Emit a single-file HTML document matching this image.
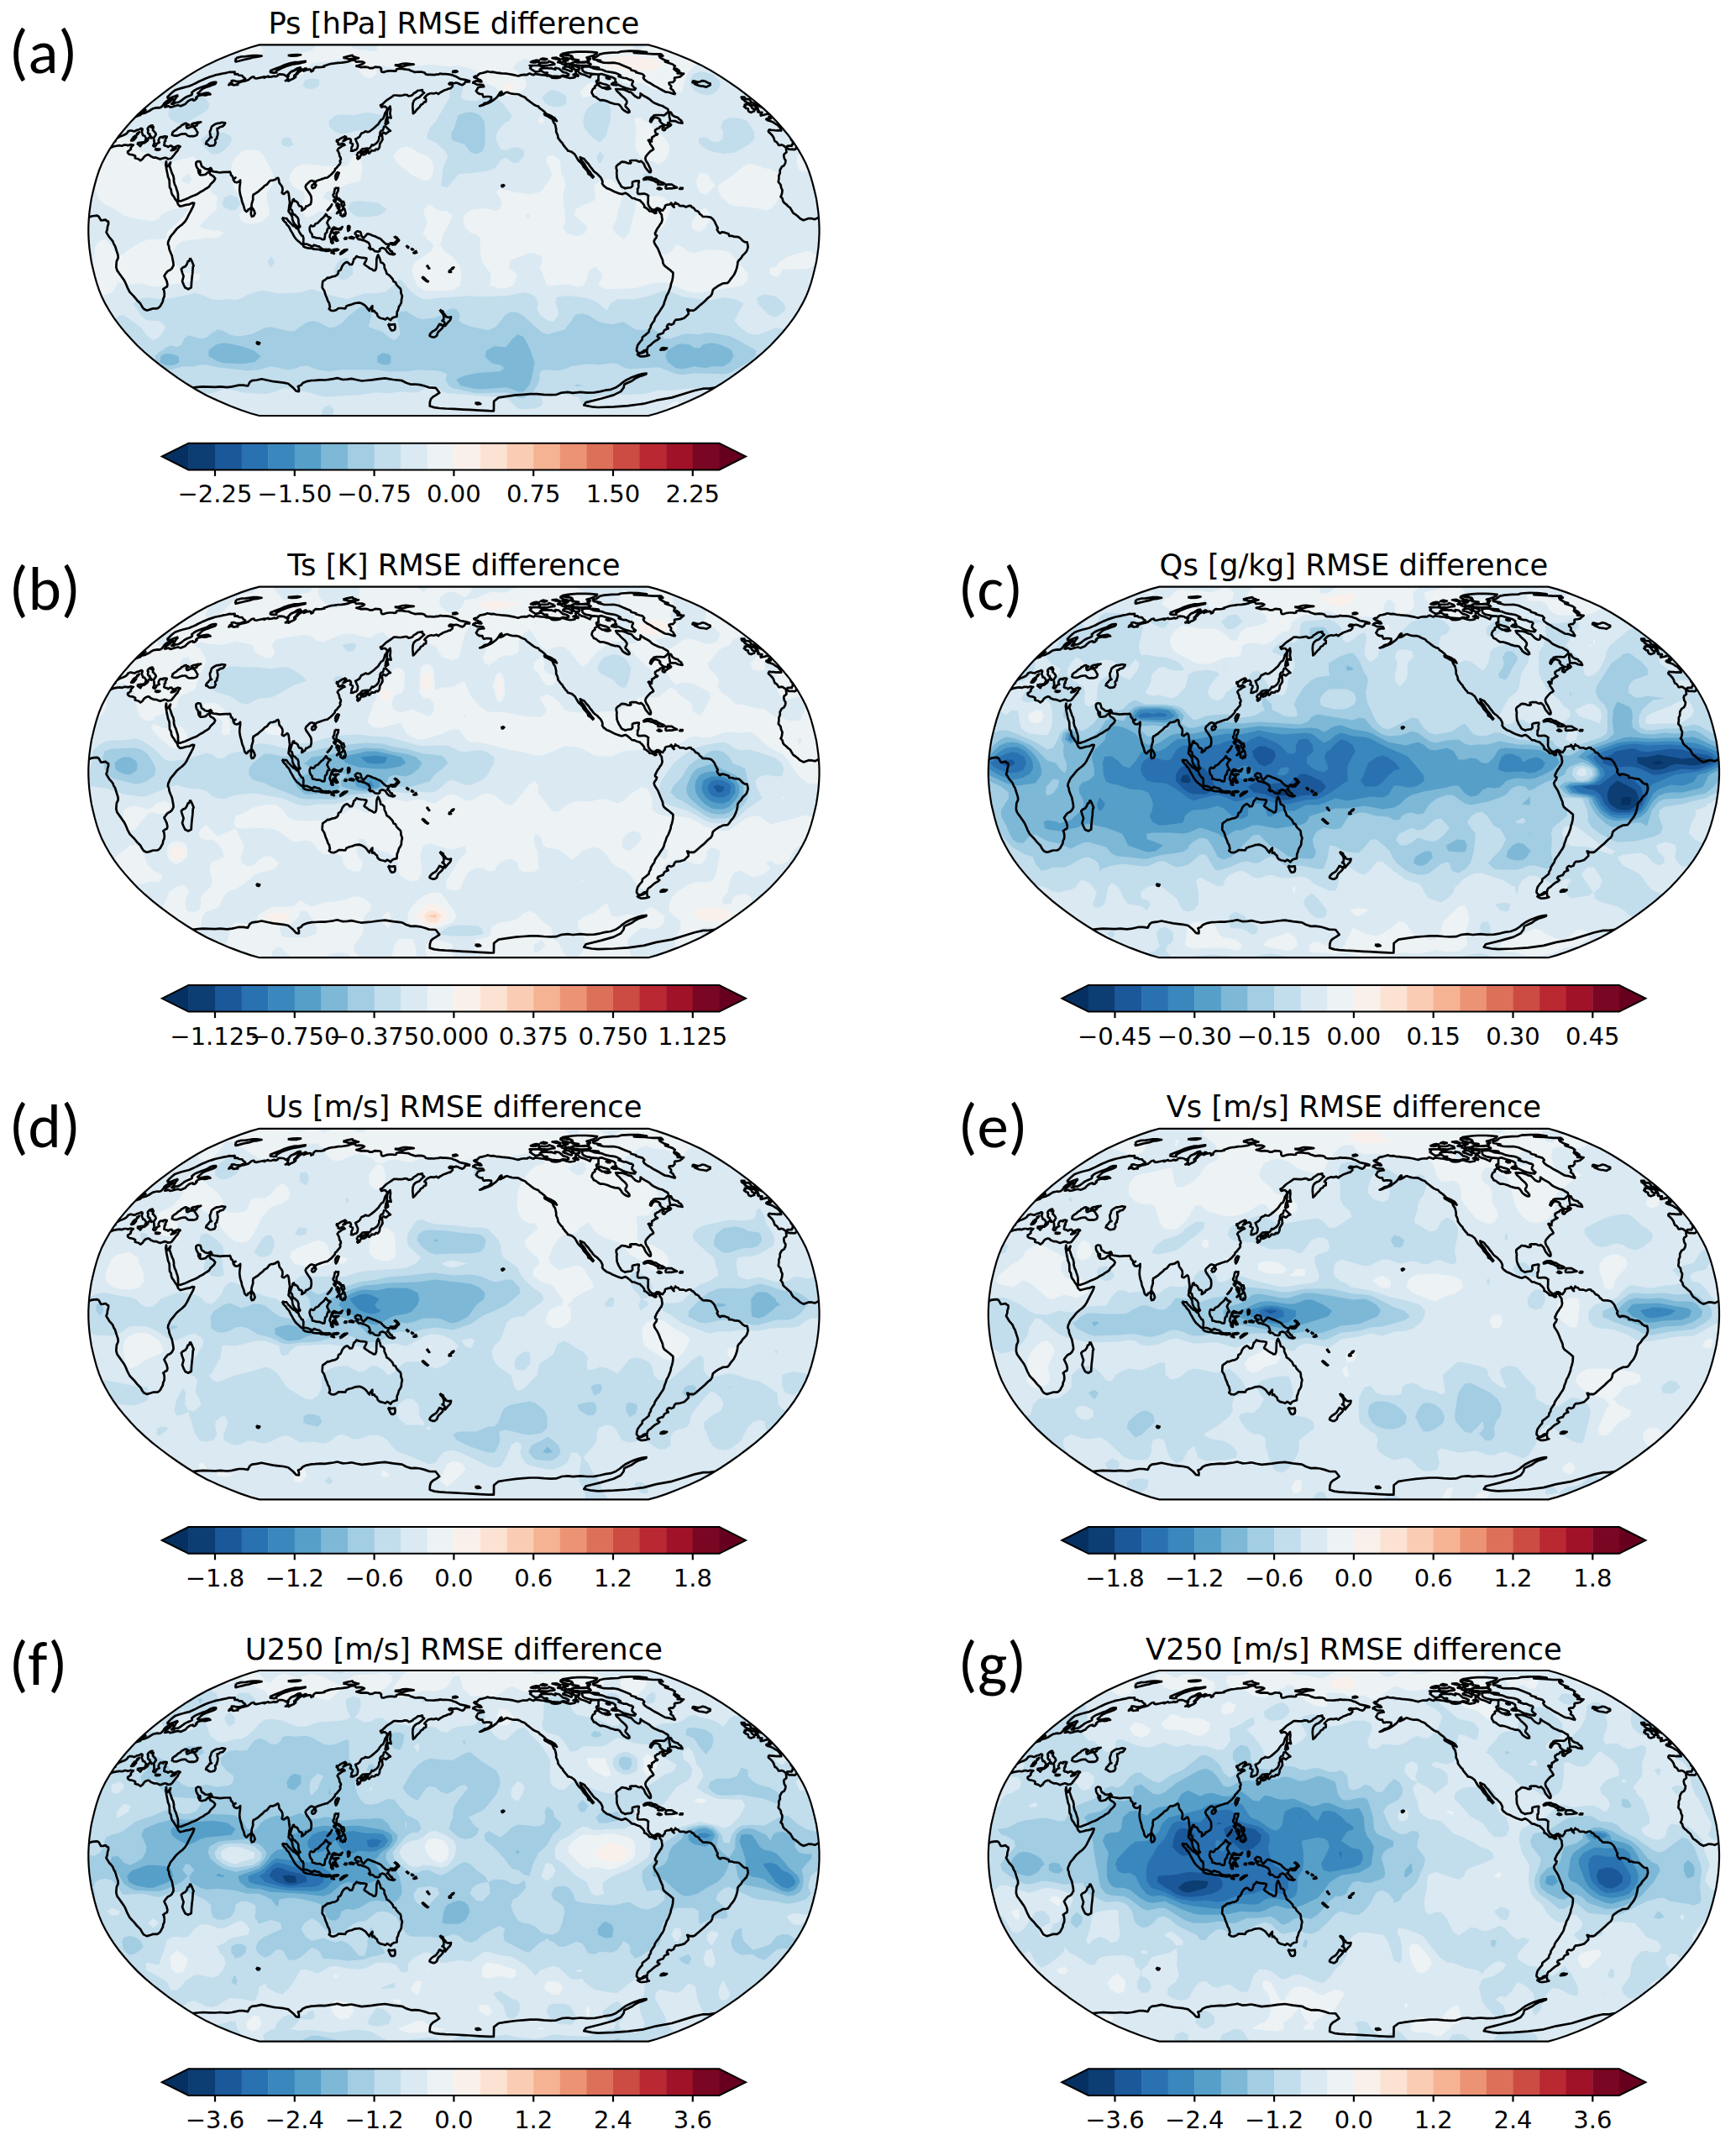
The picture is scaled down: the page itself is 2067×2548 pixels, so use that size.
<!DOCTYPE html><html><head><meta charset="utf-8"><title>RMSE difference maps</title><style>html,body{margin:0;padding:0;background:#fff;}svg{display:block;}.t{font-family:"DejaVu Sans",sans-serif;fill:#000;}.lab{font-family:"Carlito","Liberation Sans",sans-serif;fill:#000;}</style></head><body><svg width="2067" height="2548" viewBox="0 0 2067 2548"><rect width="2067" height="2548" fill="#fff"/><defs><clipPath id="cl"><path d="M231.6 220.8 241.7 218 253.5 214 266.6 209 280.5 203.1 294.1 196.8 306.3 190.1 317.7 183.1 328.6 175.9 339.1 168.5 349.2 160.9 359 153.2 368.2 145.3 376.8 137.3 384.6 129.1 391.8 121 398.6 112.7 404.7 104.4 410.1 96.1 414.9 87.7 419.1 79.4 422.5 71 425.3 62.6 427.6 54.3 429.7 45.9 431.6 37.6 432.9 29.2 434 20.9 434.7 12.5 435.1 4.2 435.1 -4.2 434.7 -12.5 434 -20.9 432.9 -29.2 431.6 -37.6 429.7 -45.9 427.6 -54.3 425.3 -62.6 422.5 -71 419.1 -79.4 414.9 -87.7 410.1 -96.1 404.7 -104.4 398.6 -112.7 391.8 -121 384.6 -129.1 376.8 -137.3 368.2 -145.3 359 -153.2 349.2 -160.9 339.1 -168.5 328.6 -175.9 317.7 -183.1 306.3 -190.1 294.1 -196.8 280.5 -203.1 266.6 -209 253.5 -214 241.7 -218 231.6 -220.8 -231.6 -220.8 -241.7 -218 -253.5 -214 -266.6 -209 -280.5 -203.1 -294.1 -196.8 -306.3 -190.1 -317.7 -183.1 -328.6 -175.9 -339.1 -168.5 -349.2 -160.9 -359 -153.2 -368.2 -145.3 -376.8 -137.3 -384.6 -129.1 -391.8 -121 -398.6 -112.7 -404.7 -104.4 -410.1 -96.1 -414.9 -87.7 -419.1 -79.4 -422.5 -71 -425.3 -62.6 -427.6 -54.3 -429.7 -45.9 -431.6 -37.6 -432.9 -29.2 -434 -20.9 -434.7 -12.5 -435.1 -4.2 -435.1 4.2 -434.7 12.5 -434 20.9 -432.9 29.2 -431.6 37.6 -429.7 45.9 -427.6 54.3 -425.3 62.6 -422.5 71 -419.1 79.4 -414.9 87.7 -410.1 96.1 -404.7 104.4 -398.6 112.7 -391.8 121 -384.6 129.1 -376.8 137.3 -368.2 145.3 -359 153.2 -349.2 160.9 -339.1 168.5 -328.6 175.9 -317.7 183.1 -306.3 190.1 -294.1 196.8 -280.5 203.1 -266.6 209 -253.5 214 -241.7 218 -231.6 220.8Z"/></clipPath><path id="coast" d="M408.7 -98.3L407.5 -98 406.8 -96.6 405.1 -96.1 402.9 -96.6 400.8 -96.4 398.8 -96.6 396.5 -98.3 395.5 -98 395.7 -95.8 396.1 -93.1 395.1 -92 393.4 -90.9 392.8 -89 393.5 -85.4 395 -83.2 394.7 -80.2 393.2 -77.2 390.4 -75.6 388.3 -71.7 388.3 -67.9 386.9 -64.9 387 -61.6 386.4 -57.5 389.1 -54.2 389.7 -50.7 391.1 -47.9 390.7 -44.1 389.7 -40.8 389.1 -40.2 391.2 -37.8 392 -34.5 393.5 -32.6 395.7 -30.9 397.9 -28.7 400.6 -26.6 401.8 -24.4 404.1 -20.5 406.7 -18.9 409.5 -16.7 412.4 -14 416.3 -12 419 -12.9 422.5 -14.2 426.1 -14 429.8 -13.1 432.1 -14.2 434.5 -15.3M-434.5 -15.3L-434.5 -15.3 -431.5 -16.7 -428.3 -17.2 -424.6 -17.5 -422.8 -16.4 -421.3 -13.7 -420.2 -11.8 -417.8 -12 -414.6 -12.6 -413 -11 -411.4 -10.4 -411.3 -7.7 -412.4 -4.1 -412.7 -0.8 -413.9 2.2 -412.6 4.4 -410.3 8.2 -408 10.7 -406.1 13.1 -405 16.2 -403.3 18.9 -401.9 23.5 -401.1 26 -400 29.3 -399.7 32.9 -401.5 36.7 -401.9 41.1 -402 44.1 -400.9 47.9 -398.3 51.5 -395.4 55.6 -392.5 59.7 -391.1 62.4 -388.6 68.4 -386 73.4 -382.9 76.7 -381 78.6 -377 83.5 -373.3 87.1 -370.9 91.4 -369.3 93.6 -365.9 95.3 -365 95.3 -361.4 94.2 -358.1 93.1 -353.5 93.1 -351.7 92.3 -349.6 90.4 -348.1 87.6 -346.6 84.9 -346.1 81.6 -344.8 78.9 -344.6 75.3 -345.1 71.7 -346.1 70.1 -343.9 68.4 -341.5 67.1 -341 64.3 -342 60.2 -344 56.1 -344.9 54.2 -343.1 51.5 -340.8 48.7 -337.6 47.1 -335.6 45.2 -333.8 41.6 -334.1 38.3 -334.9 34.2 -335.7 30.1 -336.9 27.4 -338.8 22.7 -339.4 18.6 -340.5 16.4 -340 13.1 -338.9 11 -337.8 8.2 -336.2 6 -334.1 3.6 -332.4 1.4 -330 -1.6 -326.8 -4.4 -323.3 -7.1 -320.1 -10.4 -318 -13.7 -316 -17.8 -314.1 -21.4 -312.1 -25.2 -310.4 -28.5 -309.2 -32.3 -311.1 -32.6 -314.9 -30.9 -318.6 -30.4 -322.3 -29.3 -326 -28.5 -328.2 -30.7 -328.7 -32 -329.6 -34.2 -329.6 -34.5 -331.9 -37.2 -333.4 -40 -335.3 -42.4 -336.3 -44.9 -336.8 -48.7 -338.4 -51.2 -338.6 -56.1 -338.7 -58.9 -338.9 -60.2 -340.4 -63.8 -340.7 -65.7 -341.4 -69 -342.2 -72.8 -342.5 -75.3 -343.1 -78.3 -342.5 -81.9 -342.3 -81 -342.3 -78 -340.6 -76.1 -339.3 -78 -337.3 -80.8 -338.6 -76.7 -337.6 -73.9 -336.5 -70.6 -335.5 -67.6 -334.2 -65.2 -333.3 -61.1 -333.5 -58.9 -332.5 -54.8 -331.1 -52 -330.1 -48.7 -328.9 -45.2 -328.4 -42.4 -328.4 -39.7 -328.2 -36.1 -327.7 -34.8 -325.3 -34.8 -324 -35.3 -320.2 -36.7 -316.4 -38.3 -312.5 -40.2 -308.7 -41.6 -305.6 -43 -302.1 -45.4 -298.2 -47.4 -296.2 -49 -293.6 -50.4 -291.4 -52 -289.7 -54.8 -288.3 -56.1 -285.4 -58.9 -284.2 -61.6 -285.7 -63.8 -287.7 -65.2 -289.9 -66.3 -290.7 -67.9 -289.9 -72 -291.3 -70.1 -292.7 -69.3 -295.7 -66.5 -298.2 -66 -301.3 -65.7 -302.8 -66.5 -301.9 -69.3 -302.2 -71.5 -303.9 -68.4 -304.3 -70.9 -304.4 -72.8 -305.5 -74.2 -306.5 -76.1 -307 -78.3 -306.9 -80.8 -305.2 -82.1 -303.6 -82.1 -301.9 -81.6 -301.3 -79.9 -300.8 -78 -300.2 -76.1 -298.2 -75 -296.3 -73.4 -294.1 -72.8 -291.7 -73.1 -289.5 -74.2 -288.3 -72.6 -288.2 -70.4 -285.5 -69.8 -283.2 -69.5 -278.7 -68.7 -276.3 -69 -272.7 -69.3 -269.2 -69.3 -266.5 -69.5 -265.6 -67.4 -265.3 -65.4 -263.8 -64.6 -263 -62.4 -261.3 -61.6 -259.9 -62.7 -262.1 -61.1 -262.7 -60.2 -260.8 -57.5 -258.5 -56.9 -255.7 -58 -254.3 -59.7 -254.4 -56.1 -255 -52 -255.2 -47.9 -254.6 -43.8 -253.8 -40.5 -252.9 -37.8 -252.5 -35.3 -251.6 -32.3 -250.6 -30.1 -249.8 -27.4 -249.1 -24.4 -247 -22.2 -245.5 -23.3 -244.7 -24.9 -242.7 -25.5 -240.8 -28.2 -240.9 -30.9 -239.9 -34.2 -239.1 -36.7 -239.3 -39.7 -238.7 -42.7 -236.7 -43.5 -235.3 -44.6 -233.3 -45.7 -231.9 -47.1 -230 -48.7 -227.3 -50.9 -225.4 -53.1 -222.6 -54.5 -220.5 -57.2 -219.1 -58.9 -217.4 -59.4 -215.7 -59.4 -214.2 -60 -212.2 -60.5 -211.4 -61.6 -209.4 -62.4 -208.6 -61.1 -208.1 -58 -207.8 -56.4 -206.6 -54.8 -205.4 -53.4 -204.2 -51.2 -203.9 -47.9 -204.7 -44.6 -203.9 -43.8 -202.3 -43.3 -200.2 -44.9 -198.4 -46.3 -197.3 -45.4 -196.7 -43.5 -196.3 -40.8 -195.9 -37 -195.3 -32.9 -196.1 -28.7 -196.5 -24.6 -196.9 -22.5 -195.5 -20.8 -193.9 -18.6 -192.4 -15.9 -192.2 -13.1 -191.5 -10.7 -189.9 -7.7 -187.8 -5.7 -185.4 -3.8 -184 -3.6 -183 -4.4 -184.4 -6.8 -185 -9.9 -185 -12.6 -186.1 -15.3 -188 -17 -189.4 -18.6 -191 -18.9 -192.1 -21.1 -192.7 -23.8 -194.6 -25.5 -194.4 -27.9 -193.5 -30.9 -192.4 -33.7 -191.7 -36.4 -190.4 -37 -189.9 -34.8 -188 -34.5 -186.1 -33.1 -185.1 -30.7 -183.8 -28.7 -182.1 -28.7 -180.5 -27.1 -181.2 -23.5 -179.9 -24.1 -176.9 -26.3 -176.1 -28.5 -174.4 -28.7 -172.4 -30.1 -170.7 -30.9 -169.8 -33.7 -169.6 -36.7 -170 -40.5 -171 -42.4 -172.1 -44.1 -173.3 -46 -175 -48.2 -176.2 -50.4 -176.7 -52 -175.8 -54.2 -174.2 -55.6 -172.3 -57.5 -170.5 -58.9 -168.9 -59.1 -167.5 -58.6 -166.3 -58.3 -166.4 -55.9 -165.2 -55.6 -164.5 -57.8 -163.2 -58.9 -161 -59.7 -158.5 -60.5 -157 -61.1 -155.3 -61.6 -153.1 -62.4 -150.7 -62.7 -148.9 -64.1 -146.9 -65.7 -145 -67.4 -143.4 -69.3 -141.8 -70.9 -141.3 -73.1 -139.5 -74.5 -137.8 -76.7 -135.8 -78.9 -135 -81 -135.7 -82.7 -134.5 -84.3 -134.8 -86.5 -136.1 -88.4 -136.5 -91.2 -137.6 -93.6 -138.7 -95.3 -137.3 -97.5 -135 -98.8 -132.6 -100.7 -129.9 -101.6 -130.8 -102.7 -133.3 -103.5 -136.2 -101.8 -137.8 -102.4 -137.6 -104.3 -139.6 -105.7 -139.4 -107.3 -137.6 -107.3 -135.1 -109.2 -132.3 -110.6 -129.5 -111.9 -128.2 -110.8 -130.5 -107.8 -131.8 -106.2 -130.1 -106.8 -127.7 -108.4 -125.8 -108.9 -124.2 -109.2 -122.9 -108.1 -122.4 -106.2 -123.5 -104.3 -121.8 -103.5 -120.4 -102.7 -120.6 -100.7 -121.9 -98.6 -121.9 -95.8 -122.4 -94.5 -120.1 -94.5 -118.1 -95.6 -116.2 -96.1 -115 -97.5 -114.4 -99.9 -114.4 -102.4 -115.5 -104.6 -116.4 -106.8 -117.2 -108.7 -115.2 -109.5 -112.3 -111.4 -111.3 -113.3 -110.1 -115.4 -108.7 -116 -107.2 -116.5 -105.2 -117.9 -103.4 -117.1 -101.1 -117.3 -98.3 -119.2 -95.2 -121.7 -92.5 -124.1 -89.9 -126.5 -88.5 -128.9 -86.5 -131.6 -84.3 -132.9 -83 -135.8 -82 -139.5 -80.1 -142.2 -79.1 -144.8 -80.4 -146.1 -81.7 -147.4 -83.7 -147.4 -86.2 -146.6 -86.9 -147.6 -87.4 -148.9 -85.1 -150 -82.8 -152.3 -80.4 -154.6 -77.4 -156.6 -74.6 -158.4 -71.5 -160.7 -68.3 -160.7 -65.7 -160.4 -63 -160.4 -61 -160.7 -58.5 -161.4 -55.6 -161.2 -54 -159.7 -51.4 -160.2 -49.2 -161.2 -48.2 -162.7 -44.8 -164.7 -42.9 -166.4 -40.2 -166.7 -37.5 -167.2 -37.4 -165.2 -35.3 -163.7 -36.7 -162.5 -38.8 -160.7 -41.5 -158.2 -44.1 -157.2 -45.8 -156.1 -47.7 -154.1 -48.8 -151 -49.1 -146.9 -48.7 -142.7 -48.5 -139 -46.5 -140.6 -44.5 -143.2 -43 -144.8 -40.7 -146.9 -39.4 -149.2 -36.6 -150.8 -35.6 -152.6 -33.3 -153.1 -33.1 -156.4 -35.1 -157.7 -33.3 -159.7 -31.3 -161.7 -28.9 -162.7 -26.5 -163.2 -24.3 -162.7 -20.7 -163.7 -18.5 -162.2 -16.1 -164.2 -14.5 -164.9 -12.5 -166.2 -10.6 -166.9 -8.3 -167.7 -6 -168.7 -4.5 -168.7 -3 -169.9 -1.5 -171.6 -1.8 -173.3 -3.3 -174.3 -4.8 -173.5 -5.9 -174.5 -4.6 -175.7 -1.8 -175.5 0 -175 2.7 -175.7 4.8 -175.2 7 -174 10.2 -173 12.5 -174.5 13.5 -176.7 15.4 -177.1 18.5 -176.9 18.6 -177.8 14.4 -179 10.8 -179.7 7.2 -180.4 4.4 -182.1 1.8 -183.5 0 -183.9 -2.6 -185.1 -7 -185.8 -10.4 -186 -13.9 -186 -16.5 -186.5 -18.3 -185.6 -20.6 -185.6 -23.6 -185.1 -27.9 -185.3 -31.4 -185.3 -33.4 -185.8 -34.8 -187.6 -37.8 -188.5 -41.1 -188.7 -46.4 -188.3 -48.7 -189.2 -51.1 -189.9 -54 -191.4 -57.3 -191.6 -61.3 -192.3 -65.4 -192.5 -68.5 -191.6 -68.7 -189.9 -70.8 -189.6 -73.3 -189.9 -76.7 -189.9 -80.3 -189.4 -83.4 -188.3 -85.8 -188.5 -86.6 -190.5 -86.4 -192.5 -88.1 -194.1 -91.3 -194.3 -93.7 -194.5 -97.1 -193 -100.4 -193 -102.2 -194.1 -106.1 -194.5 -110.5 -194.1 -112.6 -194.7 -114.7 -195.2 -116.1 -195.6 -113 -196.4 -108.4 -198.2 -106.5 -199.6 -108.8 -200.7 -112.6 -200.9 -116.1 -200.5 -117.8 -202.1 -118.3 -202.9 -122.3 -202.3 -126.3 -200.7 -130.1 -200.1 -133.7 -199.6 -137.9 -199.4 -141.7 -198.8 -145.4 -198.4 -148.5 -197.7 -152.3 -196.4 -154.5 -195.8 -154.1 -194.9 -157.7 -194.3 -161.3 -194.1 -164.4 -194.3 -167.2 -192.1 -167.5 -190.1 -169.9 -189 -170.3 -191.2 -171.5 -191.6 -175.3 -191 -178.6 -189.6 -175.5 -192.5 -177.1 -192.7 -181 -190.3 -184.3 -188.7 -185.4 -187.2 -189 -183.9 -188.3 -182.6 -190.5 -180.9 -194.2 -179.3 -196.7 -177.8 -197.7 -178.6 -200.6 -178.1 -197.1 -180 -198.2 -181.6 -196.8 -183.7 -197.5 -185.1 -195.7 -186.7 -194.5 -188.5 -189.7 -190.3 -185.3 -192.7 -181.9 -192.5 -181.2 -191.4 -183.3 -189.9 -184 -188.5 -190.1 -184.4 -190.1 -182.8 -182.8 -193.8 -186.1 -193 -190.1 -190.5 -193.4 -189.2 -196.5 -186.2 -197.7 -184.4 -200.4 -183.9 -201.9 -185.1 -204 -185.6 -207.2 -185.8 -209.4 -185.1 -210.1 -183.7 -212.8 -183 -213.8 -183.7 -216.9 -182.8 -220.4 -182.6 -221.1 -183.5 -223.1 -182.8 -225.8 -181.6 -225.4 -182.8 -231.1 -181.6 -235.4 -180.7 -237.4 -181.2 -238.1 -182.8 -240.6 -182.3 -244.8 -179 -248.6 -177.8 -252.2 -177.1 -255.5 -175.9 -258.7 -173.8 -257.2 -173.3 -259.4 -173.3 -262.4 -172.8 -263.9 -173.5 -263.7 -174.7 -268 -173 -267.1 -174.5 -264.4 -176.7 -264.6 -178.1 -262 -178.3 -260 -177.6 -257.1 -177.1 -253.6 -177.6 -250.3 -178.8 -248.3 -180.4 -249.2 -181.4 -251 -182.6 -252 -184.2 -256.1 -184.6 -257.4 -186 -260.9 -185.8 -261 -186.7 -260.9 -188.5 -264.7 -188.3 -266.9 -188.5 -271.2 -187.4 -275.1 -186.7 -279 -185.8 -283.5 -184.9 -287.9 -183.5 -291.7 -182.3 -295.7 -180.7 -300 -178.8 -304 -176.9 -307.2 -175.2 -311.3 -173.3 -315.2 -171.6 -318.1 -170.9 -321.3 -170.1 -325 -169.1 -328.7 -167.9 -332.1 -166.7 -335 -164.4 -337.5 -162.2 -339.5 -160.2 -341 -158.7 -340.7 -157.4 -339.3 -157.2 -336.6 -157.9 -332.8 -159.4 -329.3 -160.7 -330.5 -159.4 -328.9 -159.9 -330.6 -158.2 -331.8 -156.1 -333.2 -154.1 -334.1 -152.6 -336.2 -150.5 -333.8 -150.5 -331.7 -152 -328.2 -152.3 -325.8 -153.6 -323.1 -155.6 -320.4 -157.7 -317 -159.4 -314.6 -160.2 -311.8 -161.7 -311.6 -163.2 -312.1 -164 -309.5 -166.2 -306.6 -167.9 -303.6 -169.1 -299.2 -170.9 -296.2 -171.8 -293.3 -173 -291.1 -174.5 -288 -175.9 -285.2 -176.4 -283.2 -176.4 -283.3 -175.2 -284.7 -174 -288.4 -172.6 -291.9 -171.3 -294.8 -170.4 -298.3 -168.9 -300.9 -166.9 -303.1 -164.7 -305.1 -163.2 -303.8 -162.5 -302.8 -161.9 -299.8 -162.5 -297.1 -163 -294.4 -163.5 -292.3 -163.5 -290.8 -162.7 -289.9 -161.9 -291.8 -161.9 -294.7 -160.9 -297.1 -160.7 -298.9 -161.2 -301.9 -160.7 -304.7 -159.9 -307 -157.9 -306 -157.4 -308.2 -155.1 -309.4 -154.6 -310.7 -154.9 -310.9 -156.1 -313.7 -155.4 -315.9 -154.1 -318.3 -152 -319.8 -150.2 -322.3 -149.2 -325.2 -147.9 -326.9 -148.4 -328.4 -148.9 -331.7 -148.2 -335.2 -147.1 -338 -146.6 -338.8 -147.4 -339.8 -147.9 -342.5 -147.1 -344.2 -146.9 -342.7 -148.4 -343.2 -149.5 -341.1 -151 -338.4 -152.8 -337.1 -154.3 -334.1 -156.4 -336.1 -155.9 -338.3 -154.9 -340 -154.9 -342.6 -153.3 -345.1 -151 -345.2 -150.2 -346.1 -149.2 -347.4 -147.6 -349.1 -146.3 -351 -145.8 -352.8 -146.1 -355.6 -145.6 -358.2 -145 -360.3 -143.7 -363.5 -141.6 -365.9 -140.6 -367.3 -139.8 -369.5 -139.3 -371.9 -138.7 -373.8 -136.9 -375.6 -136.4 -378.1 -135.6 -379.3 -134.8 -379.3 -134.8M379.3 -134.8L377.9 -134.5 376.5 -134.8 375.1 -135.6 377.4 -133.2 376 -132.6 374.1 -133.2 372.4 -132.9 371.9 -132.1 373.9 -130.8 377 -130 380.3 -128.6 382 -127.3 384.9 -125.7 386.7 -124.1 388.6 -121.7 389.5 -120 389.8 -118.7 388 -118.7 385.8 -119 383.9 -118.7 380.8 -119.2 378.2 -119.2 375.6 -119.8 374.5 -118.4 374.7 -117.1 377.2 -114.9 379.3 -112.7 380.9 -110 381.5 -107.8 382.3 -105.9 383.8 -105.4 385.5 -103.5 386.7 -101.3 388.7 -101.3 389.7 -101.8 392.3 -101 393.8 -99.7 395.9 -98.6 396.5 -99.7 397.4 -100.5 399.6 -100.5 402.4 -100.5 402.7 -102.1 403.9 -102.9 403.3 -104.8 403.7 -105.8M-403.7 -105.8L-403 -106.2 -403 -106.9M403 -106.9L401.6 -107.8 401.1 -109.5M-401.1 -109.5L-401.1 -109.5 -397.6 -111.6 -394.6 -112.7 -391.3 -114.1 -389.1 -115.7 -388 -117.6 -385.6 -118.7 -383.7 -118.7 -382.3 -118.2 -380.2 -117.9 -377.1 -119.5 -374.7 -120 -372.1 -121.4 -370.8 -120.6 -371 -119 -371.8 -117.3 -371.3 -116 -370.6 -114.6 -370.3 -113 -368.5 -112.7 -367.9 -111.9 -367.2 -110.8 -366.3 -109.5 -367.3 -107.3 -367.7 -105.7 -369.5 -104.3 -368.9 -103.8 -366.9 -105.1 -364.8 -106.8 -364.1 -107.8 -364.5 -108.9 -362.7 -110.6 -361.5 -110.3 -359.9 -109.7 -359.5 -110 -360.1 -111.1 -361.3 -112.2 -362.3 -113.5 -362 -114.6 -363.6 -114.9 -364.3 -116.3 -364.2 -118.2 -363.8 -119.5 -364.7 -120.6 -364.2 -121.9 -362.7 -123.5 -360.8 -124.6 -358.8 -124.9 -360.1 -123.3 -360.3 -122.5 -357.7 -123 -358.1 -121.1 -358.5 -119.2 -357.2 -118.2 -356.4 -117.1 -355.3 -116 -355 -114.9 -354.7 -114.1 -355.8 -112.2 -357.3 -110.3 -357.1 -108.7 -356.8 -107 -357 -105.9 -356.6 -104.8 -357.2 -102.7 -358.1 -100.7 -356.9 -99.7 -355.6 -99.9 -354.1 -102.1 -354.3 -102.9 -352.5 -103.8 -350.7 -104.6 -351.3 -105.7 -351.8 -106.8 -350.9 -109.2 -350.2 -110.3 -349 -111.1 -347.4 -110.8 -346.2 -110.3 -346.2 -111.6 -343.8 -111.9 -341.7 -111.6 -342 -110.3 -342.7 -109.5 -343.8 -107.3 -343.2 -106.5 -344.7 -104.8 -344.5 -103.2 -345.1 -101.3 -343.8 -100.5 -341.6 -100.2 -340.4 -99.1 -338.1 -100.5 -336.1 -100.7 -334.7 -98.8 -332.2 -99.1 -330.2 -99.9 -328.4 -100.7 -326.2 -100.2 -325.8 -99.7 -327.6 -98 -328.2 -96.4 -329 -94.7 -330.8 -92.8 -332.6 -90.4 -334 -88.7 -335.7 -86.5 -337.1 -85.4 -338.8 -85.2 -340.8 -84.9 -341.4 -85.7 -342.7 -86.2 -344 -86.5 -345.6 -86 -347.5 -85.4 -349.7 -84.6 -352.4 -85.7 -354.4 -86.5 -357.4 -86.5 -359.7 -87.6 -361.2 -88.2 -362.2 -89.5 -364.2 -90.1 -367.1 -89 -369 -87.3 -370.6 -84.9 -373.1 -83 -374.1 -83.8 -375.7 -84.9 -377.8 -85.4 -379.6 -86 -379.3 -88.4 -381.3 -89.5 -383.5 -90.1 -385.9 -90.4 -387.3 -91.2 -388.3 -92.3 -388.3 -93.9 -386 -95.3 -384.5 -96.6 -384.7 -98.3 -383.1 -100.2 -381.6 -101.6 -383.4 -101.8 -384.8 -102.1 -388 -101 -389.9 -101.6 -392.4 -101.6 -395.3 -100.5 -397.7 -101 -400.4 -100.7 -403 -100.2 -405.6 -99.7 -408.7 -98.3 -408.7 -98.3M-334.4 -112.7L-335.6 -113.8 -335.1 -114.9 -335.1 -116.3 -333.1 -118.2 -330.4 -119.8 -329.2 -121.1 -327 -122.7 -325.3 -123.5 -324.5 -124.9 -322.6 -125.7 -320.6 -127 -318.4 -127.3 -317.7 -126 -316 -126 -315.5 -125.4 -318.6 -124.1 -318.1 -122.7 -318.2 -121.9 -317.1 -121.4 -314.6 -122.5 -312.9 -123.3 -310.6 -123.5 -310.2 -124.4 -312.6 -124.9 -312.3 -126.2 -310.3 -127.3 -307.3 -127.8 -304.6 -128.6 -302.7 -128.6 -301.2 -128.9 -303.5 -127.8 -305.1 -126.8 -306.5 -125.7 -306 -124.9 -307.8 -124.1 -309.7 -123.5 -309.4 -122.7 -308.6 -121.9 -307.8 -120.9 -306.7 -119.2 -306.1 -117.9 -305 -116.5 -305.8 -113.8 -307.3 -112.7 -310.1 -111.9 -311.7 -112.2 -314.3 -111.9 -316.6 -112.5 -317.9 -113.5 -319.2 -114.9 -321.4 -114.9 -324.3 -114.6 -327.2 -113.5 -329.7 -112.5 -331.9 -112.5 -334.4 -112.7M-289 -121.7L-288.3 -123.5 -286.5 -124.9 -284 -126.5 -282 -127.3 -280.5 -127.3 -278.2 -127.8 -276.1 -128.4 -274.2 -128.1 -272.2 -127.8 -273.3 -125.7 -275.1 -123.8 -278.7 -123 -279.7 -121.7 -281.8 -121.4 -281.6 -120.3 -281.6 -118.2 -281 -116.5 -281.2 -114.4 -281.4 -112.7 -282.4 -110.6 -282.1 -109.5 -284.2 -107.6 -284.1 -106.5 -283.7 -104 -285.2 -101.3 -287.7 -100.7 -290.6 -100.5 -292.2 -101.3 -293.4 -102.7 -295.3 -102.9 -294.5 -105.4 -292.2 -107.6 -291 -109.5 -288.4 -110.6 -289.7 -111.1 -289.9 -113 -290.2 -114.4 -290.4 -116.3 -290.5 -117.6 -289.5 -119.5 -289 -121.7M21.7 -175.9L24.7 -175 27.7 -173.3 31.4 -173.3 34.7 -173 35.8 -171.1 32.6 -170.9 28.8 -169.9 27.9 -168.2 26.5 -165.9 28.2 -163.7 30.9 -162.2 34 -162.2 34.7 -159.7 35.6 -158.7 38.5 -159.2 42 -159.2 44.6 -158.7 44.5 -155.9 42.4 -153.6 40 -152 36.5 -151.3 34.3 -149.5 30.8 -147.9 34.2 -148.7 37.3 -150.2 40.5 -151.3 43.4 -152.6 45.7 -154.1 48.2 -155.9 50.5 -157.7 51.9 -159.2 53.7 -161.9 54.9 -164 56.7 -165.2 57.2 -163.7 54.8 -160.4 57 -161.2 59.1 -162.2 61.1 -163.7 63.4 -164.4 66.7 -163.2 69.4 -162.5 72.4 -162.2 75.3 -162.2 77.4 -161.7 80.6 -159.9 83.7 -158.7 85.4 -157.7 86.9 -155.9 89.5 -154.1 92.1 -152 95.5 -149.5 98.3 -148.2 100.5 -147.6 102 -145.6 104.6 -143.7 107 -141.9 108.8 -140.1 110.2 -138.5 113 -137.4 115.4 -136.4 118 -134.8 120 -133.7 121.3 -132.1 122.6 -130 121.3 -130.8 117.3 -132.1 118.8 -128.4 120.5 -126.2 121.3 -123 121.8 -120.3 121.8 -117.1 123.2 -114.4 124 -111.6 123.9 -110.3 125.5 -108.1 127.5 -105.4 129.5 -103.5 130.1 -101.8 131.5 -100.2 133.1 -98 134.8 -96.4 135.6 -94.7 137.8 -94.2 140.7 -93.1 141.6 -92.3 144 -90.4 144.8 -89 146.1 -86.8 147.5 -84.3 149.2 -82.1 151.4 -80.2 153.5 -77.5 154.3 -75.6 157.1 -72.6 159.3 -70.1 160.1 -67.1 162.7 -65.7 165.4 -62.7 166.4 -63.8 164.2 -66.3 163.1 -67.9 161.3 -70.6 159.4 -72.6 157.3 -75.6 155.7 -78.6 153.8 -81 151.2 -84.1 150.4 -87.1 152.5 -86 155.2 -84.9 157.4 -81.9 160.3 -78.9 162.1 -76.1 164.4 -73.4 165.9 -71.2 168.1 -69 170.5 -67.4 172.6 -65.2 174.8 -63 176.3 -60.2 177.1 -57.8 176.6 -55.6 178.3 -53.1 179.8 -52 182.2 -50.1 185.4 -49 188.4 -47.4 191.2 -46 194.7 -44.6 197.9 -43.5 200.6 -43 202.9 -44.1 204.5 -44.4 206.8 -43 209.5 -40.8 212.1 -38.3 214.8 -38.1 217 -37 219.5 -36.1 221.7 -35.6 222.3 -34.5 223.8 -33.4 226 -30.9 226.8 -29.3 226.7 -27.4 228.2 -27.1 229.7 -26 232 -24.1 233 -22.7 235 -22.5 237.2 -21.9 238.9 -20.5 240.2 -20.3 241.1 -20.8 239.8 -22.2 241.4 -23.5 242.1 -24.6 244 -23.8 245.3 -22.7 244.9 -21.9 246.2 -20 247.5 -18.1 247.6 -15.9 248.2 -12.9 247.8 -11 246.9 -8.5 245.5 -7.1 244.4 -4.9 242.7 -2.7 241.8 -1.1 240.8 0.8 240.3 2.5 239.6 3 239.8 5.2 241.7 6.3 240.9 9 239.4 10.7 238.3 12.9 238.9 15.6 240.3 17.8 242.1 20.5 243.4 23 244.6 26 246 29.6 247.2 32.3 248.6 35.6 249 38.9 250.1 41.3 252.2 43.3 255 45.4 257.8 47.6 259.3 49 261 50.4 260.9 53.7 260.6 56.9 259.7 60.8 258.5 64.1 258.1 67.1 257 70.1 255.3 74.5 253.2 78 252.2 81.6 250.9 84.6 250 88.2 248.5 91.2 247.1 93.1 245 96.4 243.3 99.1 241.3 101.6 239.4 104.6 238.6 107.6 236.5 110.3 234.4 113.8 234.5 115.4 232.5 118.7 232.2 121.1 228.3 124.4 224.5 127.3 224.2 130.2 221.7 132.9 218.8 136.9 217.8 140.6 217.6 143.2 219.5 145.6 222 146.3 224.3 144.8 225.8 143.5 228.2 142.7 230.2 142.4 230.4 140.3 231.6 138.2 234.2 136.6 236.7 134.2 239.7 131.8 243.1 130 244.9 128.4 242.3 126.5 243.1 124.6 247 123 249 122.5 250.7 119 253.8 117.3 255.3 117.1 254.9 115.7 253.5 114.9 254.6 112.5 256.5 111.6 258.8 112.5 261.7 111.1 262.6 108.4 264.4 106.5 266.6 106.5 270 105.9 274.2 104.6 276.1 102.9 279.4 99.7 279.2 97.5 278.6 96.1 277.8 94.2 279 94.2 280.9 95.6 283.3 95.3 285.2 95.6 287.6 94.2 289.6 92.3 291.3 90.9 294.1 88.4 296.4 86.5 298.9 84.3 301 82.1 303.4 79.9 305.9 78 307.5 75.3 308 72.6 308.5 70.9 310 69.5 312.6 67.6 315.4 65.7 317.8 64.6 320.5 63.2 323.1 63 326 62.7 328.2 60.2 329.7 57.8 331.6 55.6 333.5 53.1 335.6 48.7 336.8 45.2 337.7 41.1 338 37.8 339.5 35.6 341.8 33.4 343.8 30.1 346 27.9 348.5 25.2 349.7 21.9 350.2 19.7 349.7 16.4 349.1 14.2 346.4 14 344.1 12.6 342 10.4 339.5 8.2 336.4 7.7 333.9 7.7 331.1 6.6 327.7 6.6 327.3 4.4 325.1 3.6 322 2.5 318.6 2.2 317.1 3.6 315.7 2.7 314.3 0.8 313.3 -1.1 314.3 -2.7 313 -4.9 311.5 -8.2 310.1 -11.2 308.3 -13.4 306.1 -15.3 303.6 -15.9 300.9 -16.2 298 -16.2 296.3 -16.4 294.3 -18.6 292.8 -19.4 291.7 -21.6 289.6 -23 287.9 -23.5 286.6 -25.2 285 -27.1 283.3 -27.4 282.4 -29 280.2 -29.3 278.1 -28.5 276.3 -27.7 273.7 -29 271.1 -29 268.9 -29 267 -31.2 264.8 -31.8 263.7 -33.1 263.6 -31.8 261.1 -30.1 262.1 -27.4 260.2 -29.3 259.8 -31.2 258.7 -32.6 257.5 -30.9 256 -30.7 254.1 -30.4 252.7 -30.1 251.4 -29 251.3 -27.1 250 -25.5 248.6 -23.5 247.2 -23.8 245.1 -25.5 243.2 -26.3 241.7 -26.3 239.9 -24.9 237.5 -24.1 236.3 -24.6 235.5 -25.2 234 -26.3 232.4 -28.5 231.6 -30.1 231.1 -32.6 231.3 -35.3 231.3 -37.8 231.3 -40.5 231.7 -41.1 229.6 -42.7 227.3 -43.5 225.4 -43.5 222.8 -43.3 220.9 -43.3 219.5 -43.3 218.6 -44.6 218.8 -47.1 218.7 -49.6 219.6 -50.1 220 -52.6 219.7 -54.8 220.4 -57.8 220.3 -58.9 218.4 -58.9 216.5 -58.6 214.7 -58.3 212.6 -57.5 212.5 -55.3 212.8 -53.1 211.3 -51.2 209.7 -50.9 207.6 -50.7 205.7 -50.4 203.9 -49.8 202.4 -50.7 200.4 -51.5 199 -52.8 198.3 -54.5 196.9 -56.4 196 -58.3 195 -60.5 194.2 -62.7 194 -65.7 193.8 -68.4 194.1 -71.2 193.4 -73.6 193.4 -76.1 194.6 -77.5 196 -78.6 197.8 -79.7 198.9 -81 200.4 -81.6 202.6 -81.3 204.5 -81 206.3 -80.2 208.1 -79.7 210.2 -79.7 210.9 -80.5 209.7 -82.7 211.4 -83.2 213.3 -83.2 215.1 -83.2 217.2 -83.2 219.3 -82.1 221.3 -81.6 222.8 -82.4 224.5 -81 226.4 -78.9 227.3 -76.4 228.4 -74.2 230 -72.3 231.3 -70.6 233 -69 234.2 -69 234.6 -70.6 234.1 -73.1 232.9 -75.3 232 -77.2 231 -79.4 229.2 -81.9 228.4 -83.8 228 -86 228.5 -87.6 229.4 -89 230.6 -90.4 231.6 -91.7 232.8 -92.8 234 -94.2 235.5 -95 236.7 -95.6 237.7 -96.6 236.7 -98.6 235.1 -101 233.8 -102.7 233.2 -104.8 231.5 -107.3 232.9 -107.8 234.2 -106.8 235.6 -105.7 235 -106.5 235.3 -107.3 236 -108.9 235.7 -110.6 236.6 -111.1 238.4 -111.9 239.2 -113 241 -113.5 241.9 -113.8 242.6 -114.6 241.6 -114.9 240.2 -116 239.6 -117.6 239.7 -119.5 241 -120 242 -121.1 243.6 -121.4 244.9 -122.2 245.1 -123 246.6 -123.8 248.3 -124.6 250 -123.8 249.5 -122.5 248.3 -121.4 248.6 -119.8 250.1 -119 251.5 -119.5 252 -121.4 253.5 -121.9 255 -123 256.5 -123.8 258 -124.6 258.7 -125.7 256.3 -127.8 254.9 -128.1 255.1 -126 253.4 -125.2 251.2 -125.2 248.7 -126.5 246.4 -128.4 244.9 -130.5 245.9 -131 244.5 -132.9 241.4 -134.2 238.9 -134.2 237.1 -132.6 235.8 -130.8 234.9 -128.9 233.6 -129.7 234.1 -131.8 235.2 -134 236.9 -135 237.8 -136.6 240.4 -137.2 243.3 -137.2 246.7 -137.2 250.2 -136.9 252.2 -138.2 253.6 -139.8 254.9 -140.3 255.4 -142.4 254.8 -144.3 251.6 -146.1 248.1 -148.2 245.1 -148.9 242.1 -150.2 238.4 -151.8 235.6 -153.6 233.3 -155.9 230.5 -157.7 227.3 -159.4 224.4 -161.2 222.2 -163 222.3 -161.4 222 -159.4 221.1 -157.9 219.3 -157.7 216 -159.4 213.6 -161.7 211.1 -164.4 208.3 -164.9 204.6 -166.7 200.7 -167.9 198.3 -167.9 194.9 -168.2 192.8 -168.2 194.1 -165.7 197 -163.2 199 -160.9 201.5 -158.7 203.6 -156.9 205.8 -154.1 206 -152.6 205.5 -150.8 204.3 -149.2 204.4 -147.4 207.3 -144.5 209 -142.2 209.1 -140.6 207.7 -140.1 206.2 -140.6 203 -142.4 200.7 -144.3 199.1 -146.9 197 -149.5 194.9 -150.2 192.3 -150.2 189.6 -151 186.7 -151.8 183.4 -153.3 180.3 -154.3 177.1 -155.1 174.3 -154.9 171.6 -156.6 168.7 -158.9 166.6 -159.4 165.6 -161.4 164.1 -163.7 164.3 -165.2 164.9 -166.7 165.4 -167.9 166.8 -169.1 168 -169.6 167.8 -171.6 168.9 -172.3 170.4 -173 170.5 -174.7 169.6 -177.4 170.3 -178.3 172.1 -178.1 172.2 -179.7 172.1 -182.1 172.3 -183.5 172.5 -184.9 169.6 -185.8 166.1 -186 163.6 -185.3 162.6 -183.3 162.1 -182.1 159.1 -183.5 155.5 -185.1 152 -186 149.4 -187.4 147.9 -189.4 145.3 -190.3 144.9 -189 145.4 -186.9 146.6 -184.4 144.8 -183.7 144 -182.1 141.2 -181.6 138.3 -181.2 134.8 -181.9 130.2 -183.5 127.2 -183.3 126.7 -182.1 123.7 -181.4 120.6 -181.2 117 -181.6 113.9 -183.7 110.9 -183.9 107.4 -184.9 104.2 -185.1 101 -185.6 96.6 -186.2 95 -184.9 92.8 -185.6 90.1 -186.7 88.5 -186 87 -185.1 84.3 -185.3 81.6 -185.1 79.4 -184.6 76.7 -183.7 73.7 -184.4 71 -185.1 68.2 -185.6 64.8 -186.2 62 -186.5 59.3 -186.7 56.8 -186.9 53.7 -187.4 51.5 -187.4 48.5 -188.1 46.9 -188.5 44.3 -188.3 42 -188.7 40 -189.2 38 -188.3 36 -187.8 33.7 -187.2 31.3 -186.9 29.3 -185.6 28.1 -183.9 25.5 -183.5 23.9 -182.6 25.5 -181.4 27.9 -180.7 29.6 -179.5 31.5 -179 33 -177.1 31.1 -176.9 28.4 -177.8 26.2 -177.8 24 -176.9 22.8 -175.9 21.7 -175.9M264.2 -161.9L261.2 -162.5 256.4 -164.2 251.6 -164.9 246.2 -167.9 242.5 -170.1 238.1 -172.3 234.1 -175 230 -177.1 226.7 -179.7 225.5 -181.9 226.9 -183.5 224.6 -186 221.9 -186.7 216.8 -188.1 217 -189.2 210.9 -190.8 210.3 -192.5 203.7 -195.2 196.1 -198.4 190.2 -199.6 184.4 -199.4 178.5 -199.6 171.4 -201.5 174.7 -202.1 166.2 -203.6 165.7 -205.1 169.7 -206.5 171.9 -208 173.7 -209.6 179 -210.8 187.9 -211.5 195.9 -211.8 199.4 -212.9 209.4 -213.5 219.7 -213.4 229.8 -212.1 228.4 -211.5 221.9 -211.5 214.4 -211.3 227.4 -210.6 237.4 -209.8 246.6 -209.8 248.9 -207.6 244.4 -207.6 245.5 -205.7 250.9 -202.7 255.3 -201.3 251.5 -200.7 260.3 -197.7 263.4 -195.6 262.4 -194.5 262.8 -193 265.5 -192.1 268.4 -190.1 261.9 -192.1 265.4 -189.2 270.3 -187.4 267.2 -187.2 266.2 -186.7 273.7 -186.5 271.5 -184.6 269.3 -182.8 265.1 -181.9 263.2 -181.9 262.6 -180.9 263 -178.6 261.3 -176.7 260.7 -176.2 258.2 -176.2 256.2 -175.7 256.4 -174 258.3 -172.3 258.9 -170.9 258 -168.9 260.9 -166.9 261.9 -164.9 263.5 -162.5 264.2 -161.9M212.6 -179L213.5 -176.9 212.4 -175.2 212 -172.8 214.6 -170.1 216.5 -168.9 215.3 -167.2 210 -167.9 204.6 -169.4 201.3 -170.6 195.5 -173.5 193.5 -172.8 189.4 -173.3 187.7 -174 189.3 -175.5 193.7 -175.7 192.2 -177.6 192.3 -180 189.5 -181.9 185.8 -183 180.6 -184.6 175.8 -186.2 172.1 -185.6 165.4 -186 159.1 -187.2 155.4 -188.5 153.3 -190.1 152.9 -192.3 152.6 -194.1 156 -194.7 161.8 -194.7 167.1 -192.5 171.5 -191.9 176.5 -191.2 181.3 -189.2 185.1 -188.5 187 -188.3 192.1 -187.4 194.5 -186.5 198.4 -184.4 196.1 -183.3 202.4 -181.2 205.1 -181.2 209.9 -179 212.6 -179M159.6 -200.5L161 -201.5 159.1 -203.1 162.5 -204 158.1 -205.7 161.8 -206.7 165.9 -208 169.9 -210.1 170.6 -211.6 163.4 -212.3 157.2 -212.6 147.2 -212.6 140.7 -212.1 135.9 -211.5 129.4 -210.4 129 -209.6 134.1 -208.3 139 -208 141 -206.9 141.2 -204.9 141.1 -203.3 143.6 -203.3 148.7 -202.5 148.1 -201.5 144 -200.5 147.1 -199.9 155.2 -199.9 159.6 -200.5M163.7 -196.4L157.4 -196.2 150.7 -196 142.8 -196.9 140.2 -199 143.5 -200.5 151.6 -200.1 157.5 -200.5 162.6 -198.2 163.7 -196.4M137.7 -185.3L134.5 -183.7 129.8 -184.4 126.3 -183 121.7 -183.3 116.3 -183.7 109.1 -186 111.3 -187.6 107.2 -187.8 105.2 -189.2 102.3 -191.4 105.1 -192.7 110 -193.2 113.3 -192.7 115.8 -193 120.8 -191.4 120.8 -193.4 125.3 -192.5 129.8 -188.5 134 -187.4 137.7 -185.3M103.6 -189.9L100.9 -189.2 97.3 -188.5 93.3 -191 90.7 -193 92.1 -194.7 90.2 -196.2 95.9 -196.2 100.7 -196.4 107.2 -194.1 103.9 -192.7 103.6 -189.9M119.8 -199.2L119.9 -197.5 115.1 -196.9 111.3 -196 103.8 -196.4 101.3 -197.7 101.8 -199.9 107.7 -199.6 112 -199.9 113.2 -201.3 118.6 -199.4 119.8 -199.2M141.4 -189.9L139.6 -189.2 134.4 -191.2 130.2 -192.3 130 -193.2 132.3 -194.7 136.6 -194.7 140.3 -192.3 141.4 -189.9M150.6 -192.1L145.3 -190.8 142.3 -192.5 140.5 -195.2 144.4 -195.4 148.8 -194.1 150.6 -192.1M135.1 -197.3L132.2 -196.9 128.3 -198.4 129.2 -200.5 131.2 -200.9 135.1 -197.3M140.6 -206.7L141.8 -205.1 137.3 -204.3 131.3 -205.7 127 -207.8 127.3 -209.2 130.4 -210.1 136.1 -209.1 140.6 -206.7M185.8 -171.3L183.8 -170.1 177 -169.6 172.8 -172.1 172.3 -175 173.9 -175.7 177.2 -174.5 181.7 -173.3 185.8 -171.3M149 -183.3L144.9 -184.2 142.1 -185.3 144.9 -186.5 147.3 -185.3 149 -183.3M271.6 -129.7L272.1 -127.6 269.4 -128.1 266.9 -128.4 263.8 -130 257.4 -130 257.2 -132.6 256.6 -134.8 256.4 -138 257 -140.6 258.6 -140.3 260.1 -137.2 263 -135.3 266.9 -134.2 268 -132.4 270.1 -131.3 271.6 -129.7M120.1 -132.1L117.2 -132.6 114.4 -134 111.4 -135.8 108.5 -137.2 107.7 -138.5 110.3 -138 113.8 -136.9 116.2 -135.3 119 -133.4 120.1 -132.1M225.1 -60L226.9 -61.9 229.1 -63 231.9 -63.2 234.8 -63.2 237.6 -61.6 240.5 -61.1 243.4 -59.1 246.5 -57.5 249 -56.7 251.2 -55.3 248.9 -54.5 245.8 -54.5 243 -54.5 243.6 -56.4 241.1 -57.2 238 -59.1 235.6 -59.7 232.3 -60.8 230.6 -61.3 228.3 -60.5 225.1 -60M251.4 -50.7L253.7 -54.5 256.5 -54.5 259.4 -54.5 262 -52.8 265.6 -50.9 262.4 -50.4 259.6 -49.8 256.1 -49.8 253 -49.6 251.4 -50.7M242.2 -50.4L244.7 -50.7 247.3 -49.3 244.8 -48.7 242.2 -49.8 242.2 -50.4M268.6 -50.4L272.4 -50.4 272.1 -49.3 268.8 -49.3 268.6 -50.4M229.3 143.2L230.1 145 230.5 147.9 232.5 148.7 228.9 149.7 225.1 150.2 222.5 150.2 220.2 149.2 218.5 147.9 222.1 146.6 223.8 146.1 226.4 145 229.3 143.2M246 141.1L249.5 139.8 251.3 140.1 253.7 140.3 251.3 141.9 249 142.2 246.1 142.4 246 141.1M57.3 -54.2L59.2 -53.9 59.9 -53.4 58.3 -52 57.3 -52 57 -53.7 57.3 -54.2M367.5 -145.9L365.8 -146.9 362.2 -148.4 358.6 -150.8 356.4 -151.8 354.3 -152 353.8 -153.3 352.1 -155.9 349.1 -156.4 347 -156.1 346 -158.7 342.3 -158.7 342.9 -156.9 345.8 -154.9 346.5 -153.6 349.3 -152 351.2 -150.2 351.3 -151.5 353.9 -148.9 356.6 -149.2 359.1 -147.4 360.9 -146.3 362.1 -145 359.3 -145 361.3 -143.7 363.1 -142.4 361.9 -141.4 362.6 -140.6 367 -140.3 366.6 -139.5 365.6 -139.3 365.2 -138 365.5 -136.6 367.5 -137.2 369.3 -137.4 370.9 -138 372.8 -138.5 375.6 -138.5M-375.6 -138.5L-375.1 -138.5 -371.5 -139.5 -370.7 -141.1 -367 -143.2 -368.8 -144 -367.7 -145.6 -367.5 -145.9M358.8 -142.2L357 -144.3 354.9 -145.8 354.3 -147.6 351.5 -149.5 348 -150.2 346.3 -149.7 347.2 -148.4 345.5 -147.4 347.9 -145.3 350.3 -144.8 350.3 -143.2 351.2 -141.4 353.7 -140.3 355.8 -141.1 357.7 -141.9 358.8 -142.2M293.5 -171.8L291.6 -172.3 286.8 -174.3 289.5 -174.7 285.1 -175.9 284.2 -175.9 284.4 -177.4 285.4 -177.8 290.7 -176.4 293.1 -176.9 296.1 -178.1 299.2 -177.4 302.4 -175.7 305.3 -174.7 305.2 -173 302 -171.3 300.7 -170.6 296.5 -171.6 293.5 -171.8M-259.2 -205.1L-253.3 -206.7 -247.9 -207 -243.7 -207.6 -239.3 -208.2 -234 -208.2 -228.8 -207.6 -234.2 -206.5 -239 -205.9 -243.4 -204.5 -247 -203.8 -251.7 -202.7 -256.3 -201.5 -259.7 -200.7 -260.2 -201.9 -259.5 -202.9 -259.7 -204 -259.2 -205.1M-219.2 -189.6L-211.7 -192.7 -206.3 -194.7 -201.4 -196.9 -196 -198.6 -189.6 -200.1 -184 -200.3 -176.7 -201.3 -176.8 -200.5 -185 -198.6 -192.4 -197.5 -199.8 -195.2 -205.3 -193 -211.6 -189.6 -211.1 -187.8 -214.8 -187.6 -218.2 -188.1 -219.2 -189.6M-132 -205.5L-127.2 -207 -120.7 -208.3 -120.3 -207 -117 -206.1 -115.4 -205.3 -113.4 -205.1 -118.5 -203.8 -122.6 -204 -125.2 -203.6 -127.6 -204.7 -132 -205.5M-70.6 -196.7L-65.4 -197.1 -60.6 -198.4 -56.5 -198.6 -50.7 -197.9 -47.6 -197.5 -54.9 -196.7 -61.2 -194.9 -65.9 -195.6 -70.6 -196.7M-2.2 -188.7L0 -189.6 2.6 -189.9 4.3 -189 1.7 -188.3 -0.9 -188.3 -2.2 -188.7M-82.1 -125.7L-80.4 -126.5 -78.2 -127.8 -78.8 -130.5 -79.2 -132.9 -77.6 -134.5 -74.8 -133.7 -76 -139 -75.4 -143.7 -75.9 -147.6 -77.1 -146.1 -79.3 -142.2 -79.6 -139 -79.7 -134.5 -81 -131 -81.5 -127.3 -82.1 -125.7M-88.5 -113.3L-85.9 -114.1 -83.9 -116.5 -80.9 -114.9 -77.6 -117.6 -75.5 -118.4 -77.4 -120 -81.5 -123.8 -83.2 -123.3 -84.3 -119.5 -86.7 -118.4 -87.9 -116.3 -87.5 -115.2 -88.5 -113.3M-85.4 -113.3L-84.9 -108.1 -86.4 -105.4 -88.1 -102.9 -88.4 -99.7 -89.1 -97.7 -90.7 -96.1 -91.5 -96.6 -93.1 -96.4 -94 -95 -96.1 -94.7 -98.1 -95 -98.7 -93.9 -100.9 -91.7 -102.6 -92.8 -102 -94.7 -105 -94.7 -107.9 -93.6 -110.1 -92.8 -112.1 -93.1 -111.2 -94.5 -108.8 -96.9 -106.2 -97.2 -103.2 -97.5 -100.8 -97.2 -99.4 -98.6 -97.5 -101.8 -96.3 -101 -94.1 -102.4 -92.1 -103.8 -90.1 -106.2 -89 -108.9 -89.1 -111.1 -87.9 -112.7 -85.4 -113.3M-115.2 -91.2L-113.3 -92.8 -111.7 -92.8 -110.2 -90.6 -112.2 -86.2 -114.3 -84.9 -115.1 -86 -114.2 -88.4 -115.4 -89.5 -115.2 -91.2M-109.3 -90.6L-107.8 -93.1 -104.7 -93.9 -103.7 -92.5 -105.1 -90.9 -107.8 -89.8 -109.3 -90.6M-141.5 -63.2L-140.3 -60.2 -138.9 -62.4 -137.7 -65.7 -136.7 -68.4 -138.5 -69 -140.4 -66.8 -141.5 -63.2M-169.8 -52.8L-168.4 -50.1 -165.9 -50.7 -164 -53.7 -164.8 -55 -167.2 -54.8 -169.8 -52.8M-141.4 -50.7L-138.8 -50.1 -137.4 -50.4 -137.9 -46.8 -139.6 -43.5 -139.8 -41.1 -139.2 -38.3 -136.6 -37.8 -134.4 -35.6 -134.7 -34.5 -136.7 -36.1 -138.8 -37.8 -141.4 -37.8 -142.3 -39.4 -143.4 -40.5 -143.8 -42.2 -142.7 -43.8 -142.2 -46.5 -141.4 -50.7M-139.9 -19.2L-138.4 -21.1 -136.2 -21.4 -134.5 -20.3 -135.1 -18.1 -132.2 -16.4 -131.2 -18.9 -129.8 -17.2 -128.8 -20 -129.6 -23.5 -130.3 -25.7 -131.4 -26.8 -132.5 -24.6 -134 -23.3 -135.6 -23.5 -137.4 -22.7 -138.9 -20.8 -139.9 -19.2M-133.7 -34.2L-131.3 -34.2 -130.3 -30.1 -132.3 -27.9 -133.9 -30.7 -133.7 -34.2M-139.6 -32.6L-136.8 -30.9 -138.1 -28.7 -139.8 -29 -139.6 -32.6M-138.5 -29.3L-136.6 -29.8 -136 -27.4 -137 -24.9 -138.6 -26.8 -138.5 -29.3M-142.9 -37L-140.4 -35.9 -141.2 -33.4 -143 -35 -142.9 -37M-151.3 -23L-148.8 -25.2 -146.8 -27.7 -145.2 -30.9 -146.5 -28.5 -148.5 -26.3 -151.3 -23M-171.6 -4.1L-170.1 -5.7 -168.2 -4.7 -166.3 -5.2 -164.8 -7.7 -161.9 -8.8 -159.9 -11 -157.9 -13.1 -155.7 -14.8 -154 -16.7 -152.4 -19.2 -151.3 -18.1 -150.4 -16.2 -148.7 -15.9 -146.8 -14.8 -148.7 -13.4 -150 -11.2 -151 -9 -149.8 -6.3 -147.9 -2.7 -150.1 -2.2 -151.1 0.8 -151.3 2.5 -153.2 4.1 -153.5 6.8 -154.1 10.7 -156.5 11 -158 10.1 -159.9 9.3 -162.1 9.3 -164.5 9 -166.2 8.2 -168.4 7.9 -169 4.4 -170.7 2.5 -171.7 -0.5 -171.6 -4.1M-204.5 -15.1L-201.8 -14.2 -199.2 -14.2 -197.1 -11.2 -195.4 -9.6 -193.1 -7.1 -191.2 -5.2 -189.5 -4.7 -187.1 -2.2 -185.2 -1.4 -184.5 0.8 -183.7 2.7 -182.2 4.7 -181.3 6.3 -179.8 6.6 -179 9.9 -179.2 12.3 -179.1 15.9 -181.5 16.2 -182.7 15.1 -186.9 11.5 -188.4 9.9 -189.9 7.7 -191.2 5.5 -192.7 2.7 -194.4 0 -195.3 -2.2 -196.7 -4.7 -198.9 -6.8 -200 -9 -201.7 -10.4 -203.1 -12 -204.5 -15.1M-180.4 18.6L-178.3 16.2 -175.4 16.4 -172.5 17.5 -170.1 18.6 -167.6 18.9 -166.5 17.5 -162.6 18.9 -160.4 19.2 -157.9 21.4 -158 23.8 -160.7 22.7 -163.9 22.7 -167.5 22.2 -170.2 21.1 -172.8 21.4 -177.2 20.3 -179.9 18.6 -180.4 18.6M-157.9 22.2L-156.2 22.2 -154.9 23 -156.1 24.1 -157.8 23 -157.9 22.2M-154.2 23L-152.8 22.7 -150.8 23 -148.2 22.7 -146.7 23.5 -148.6 24.4 -151.7 24.6 -153.7 24.4 -154.2 23M-145 23.5L-142.2 23 -138.6 22.5 -137.3 23 -139.7 24.1 -143.3 24.1 -145 23.5M-146.9 26L-143.8 25.5 -142.5 27.7 -145.4 26.8 -146.9 26M-135.9 28.2L-133.4 25.5 -130.6 23.5 -127 23 -130 25.2 -132.6 27.1 -135.2 28.5 -135.9 28.2M-146.3 15.1L-143.9 15.3 -144.2 11.8 -144 7.9 -142.6 7.4 -141.5 11.2 -140.1 12.6 -138.1 12.3 -139.6 9.6 -141.4 6.3 -140.7 4.9 -138.5 2.7 -137.1 2.5 -141.2 2.5 -142.9 3.8 -144.1 2.5 -144.8 -0.5 -143.4 -1.4 -141.2 -1.4 -137.8 -1.4 -134.7 -2.5 -132.7 -4.1 -134.4 -1.1 -136.4 -0.8 -140.2 -2.5 -142.9 -3.6 -144.6 -2.2 -145.6 0 -146.3 2.5 -147.4 5.5 -147.9 7.7 -146.9 9.6 -146.1 12.3 -146.3 15.1M-125.9 -6L-124 -4.4 -124 -2.7 -125.7 -1.6 -124.3 -0.5 -126 0.8 -126.4 -2.7 -125.9 -6M-125.6 9L-122 7.7 -118.9 8.8 -119.6 9.9 -123.7 9.3 -125.6 9M-130.5 8.8L-127.8 9 -128.3 10.4 -130.2 10.1 -130.5 8.8M-118.4 3.8L-115.1 1.1 -111.4 1.9 -110.7 3.3 -110 6.8 -107.5 9.3 -105.1 6.6 -102.7 4.1 -99.8 4.9 -96.7 6.3 -94.2 7.1 -90.1 9 -87 10.4 -85 12.6 -82.6 14.8 -80.6 16.4 -78.2 16.7 -77.4 18.3 -79.3 20.5 -76.9 22.2 -75.4 24.9 -73.9 24.9 -72.9 27.4 -70.3 28.2 -72.2 29 -77 27.9 -79.2 26 -81.7 22.2 -85.1 20.8 -87 21.6 -88.4 22.5 -88.2 24.6 -90.1 25.5 -93.9 24.9 -97.1 22.2 -99.5 22.7 -101.3 20.8 -99.6 20 -100.4 17 -101.6 14.8 -106.3 12.3 -108.2 12 -111.4 10.7 -113.3 11 -114.5 9.6 -116.2 7.7 -113.1 6.6 -115.5 6 -118.4 3.8M-76.5 15.1L-72.7 15.1 -70.5 15.1 -68.6 13.1 -66.9 11.8 -67.1 13.7 -69.7 17 -73.3 17.2 -76.5 15.6 -76.5 15.1M-70.6 7.1L-67.7 8.8 -65.2 11.8 -65.9 12.9 -67.9 10.1 -70.6 7.9 -70.6 7.1M-56.7 18.1L-54 20 -54.5 20.8 -56.4 18.9 -56.7 18.1M-51.1 21.4L-48.2 23 -49.6 23.3 -51.1 21.4M-48.2 25.7L-46 27.1 -47.9 27.1 -48.2 25.7M-45.8 23.8L-44.3 26.6 -45.3 25.5 -45.8 23.8M-32.1 41.3L-30.6 43.3 -31.6 43.3 -32.1 41.3M-30.6 43.8L-29.1 45.4 -29.9 45.4 -30.6 43.8M-38 55.3L-35.6 56.4 -31.7 60.2 -30.5 60.8 -31.5 61.3 -34.3 59.4 -37.2 56.7 -38 55.3M-6.4 48.5L-4.3 47.6 -3.3 49.6 -5.5 49.8 -6.4 48.5M-2.9 45.2L0 44.1 -1.4 46 -3.1 46.3 -2.9 45.2M-241.5 -22.2L-241.5 -18.6 -240.6 -16.4 -238.4 -17 -236.8 -20 -237.8 -23.3 -238.9 -25.2 -240.2 -26.8 -241 -25.5 -241.5 -22.2M-314 32.9L-312.1 36.4 -309.8 42.2 -310.6 43.3 -310.9 47.1 -311.2 51.5 -311.9 56.9 -312.4 62.4 -312.7 68.2 -316.2 70.1 -319.9 68.4 -321.8 64.6 -323.4 60.5 -322.6 57.8 -321.8 54.8 -323.4 50.4 -324.6 46.3 -322.8 44.4 -319.7 43 -317.8 40.2 -316.8 37.2 -315.2 36.7 -314 32.9M-156 59.7L-156.5 64.1 -156.7 68.4 -154.3 72 -152.6 77.5 -151.1 80.8 -150.1 84.1 -148.5 86.5 -147.5 91.2 -148.6 93.6 -145.9 95.6 -142.7 95.8 -139.9 94.7 -137.4 92.8 -133.5 92.8 -129.3 93.1 -127.9 90.4 -124.7 89 -121.8 88.4 -117.7 86.8 -112.5 86.2 -109.3 87.3 -105.8 89.5 -104.4 90.9 -102.2 93.9 -100.5 95.8 -99.9 93.9 -98.6 92 -97 90.1 -97.2 93.4 -97 96.4 -94.8 95.8 -93.9 97.5 -91.6 99.1 -90.7 102.1 -88.6 104 -86.3 104.8 -83.7 105.4 -81.6 106.2 -79.4 104.3 -77.4 105.4 -75.4 107 -73.5 104.6 -71.4 103.5 -67.9 102.7 -67.8 99.7 -67.6 97.2 -66.6 95.3 -66.1 93.6 -65.4 90.9 -64 89 -62.6 86 -62.4 82.7 -61.5 78.3 -62.9 74.7 -63.1 71.2 -63.7 69.3 -65.4 67.9 -68.2 64.9 -69.5 61.9 -71.7 61.1 -73 57.8 -75 55.6 -77.5 53.1 -79.9 51.7 -80.8 48.5 -82.7 44.6 -82.8 41.1 -84.8 38.9 -87 38.3 -87.6 35.3 -89.4 30.7 -90.2 29.3 -91.1 30.9 -92 34 -92.1 37.5 -92.2 41.1 -92.4 44.9 -93.5 47.6 -95.6 47.9 -97.6 46.3 -100.3 45.2 -102.8 43.3 -105.8 41.3 -106.8 40.2 -105.5 37.8 -104.2 35.3 -104 33.4 -105.9 32.9 -108.8 32.6 -110.3 32.6 -113.9 31.8 -115.9 30.9 -117.7 33.4 -119.1 34.2 -119.5 36.1 -120.5 39.2 -121.4 40.8 -124 40.8 -125.1 39.2 -127.3 37.8 -129.2 38.6 -131 40 -133 42.7 -133.8 44.9 -135 47.4 -137.5 48.7 -137.8 51.5 -139.3 53.4 -142 54.8 -144.1 55 -146.7 55.9 -148.5 56.7 -150.2 56.4 -152.8 58.6 -154.8 60 -156 59.7M-78.4 111.4L-74.4 112.5 -70.3 111.9 -69.8 115.4 -70.3 118.2 -72.1 119.2 -74.3 119.2 -76 116.8 -76.7 114.9 -78.4 111.4M-16.7 94.5L-14.8 95.8 -13 96.6 -11.8 99.7 -10.4 100.7 -9.2 102.9 -6.3 103.8 -3.4 103.2 -3.8 105.7 -4.7 107.3 -6.7 109.2 -8.2 111.1 -10.4 113.8 -12 113 -10.7 110.6 -11.6 108.9 -13.9 107.6 -12.1 106.2 -12 102.4 -12.9 99.9 -14.1 98.3 -15.9 96.4 -16.7 94.5M-16.4 110.8L-15 113 -12.8 113 -13.2 115.7 -14.9 117.6 -16 118.7 -18.5 120.9 -19.5 123 -20.3 125.4 -23 127.3 -25.1 127.3 -28 126.2 -28.9 125.4 -28.2 123.3 -25.5 120.6 -22.9 119.2 -20.8 117.6 -19.4 115.4 -18.5 114.1 -17.5 112.2 -16.4 110.8M-381 -111.9L-378.2 -112.7 -378.3 -110.8 -381.2 -107.3 -382.9 -106.8 -384.3 -106.8 -381.6 -110.6 -381 -111.9M-378.1 -114.6L-374.7 -116.8 -375.9 -114.9 -377.8 -113.3 -378.1 -114.6M-377.4 -103.5L-374.4 -104.3 -369.4 -104.8 -372.2 -102.1 -373.3 -100.2 -374.5 -101.3 -377.4 -103.5M-356.3 -96.6L-353.8 -96.9 -349.9 -96.6 -350.8 -95.8 -354.1 -95.6 -356.3 -96.6M-336.5 -96.1L-333.5 -96.6 -330.8 -97.5 -333 -95.8 -336.6 -95 -336.5 -96.1M-235.2 132.9L-233.4 133.4 -231.2 134 -232.1 135.6 -234 135.3 -235.2 132.9M0 212.7L11.3 213.4 18.8 213.7 30.8 214.5 41.8 215 47.5 215.1 47.6 210.1 47.7 203.6 53.3 199.2 61.6 197.9 73.8 196.2 82.3 195.6 90.8 194.9 99.2 194.9 107 195.6 114.9 196 121.7 195.8 128.4 193.4 135.7 192.7 141.7 193.6 150.8 192.7 158.6 193.4 167.1 193.2 174.4 191.9 180.1 190.5 186.8 189.6 192.6 187.4 197.8 183.9 201 181.2 204.7 178.6 210.1 175.9 214.6 174 219.9 172.1 224.8 170.9 229.2 170.4 229 171.3 225 172.8 220.9 174 215.6 176.7 212.1 179.3 207.1 181.6 203 183.5 202.1 187.4 198.8 191.9 190.2 196.2 175 200.5 157.2 204.9 154.9 208.3 164.1 210.1 171.6 210.8 190.4 210.1 207.5 208.9 226 206.5 241.1 202.5 259.5 199.2 276 194.1 286.5 190.8 297 188.5 303.8 188.5 310.9 187.4M-310.9 187.4L-310.9 187.4 -305.1 186.7 -298.8 186.2 -291.5 186.5 -284.3 186.7 -278 186.2 -270.1 186.9 -264.1 186.2 -260.1 185.3 -256.1 184.4 -250.8 184.4 -245.3 185.3 -244 182.8 -242.9 180.7 -240.4 179 -234.7 178.3 -228.9 177.1 -221.9 178.6 -215 180 -209 180.7 -202.9 181.4 -197.3 182.6 -191.4 187.4 -187.8 191.4 -184.5 191.9 -184.5 188.5 -185.5 185.8 -182.2 184.6 -179.9 181.9 -175.6 180 -169.4 178.8 -165.4 178.6 -159.1 178.1 -153.5 178.3 -148.5 177.6 -143.6 176.9 -138.7 175.9 -132.1 177.8 -126.9 177.4 -121.9 176.7 -115.7 178.1 -109.7 179.3 -104.5 178.8 -97.6 178.1 -90.8 177.1 -82 176.2 -72.4 177.8 -61.7 179 -56.9 181.6 -51.1 183.5 -45.9 183.3 -40.4 183.9 -34.9 185.3 -29.4 187.2 -21.6 187.6 -17.2 193.4 -21.3 196.2 -25 198.4 -27.4 200.9 -28.5 204.5 -28.7 209.2 -23.2 211 -17.3 211.8 -10 212.3 0 212.7M25.2 205.5L29.8 205.3 31.8 206.7 27.8 207.2 25.2 205.5M-197.7 -208.2L-191.9 -208.9 -186.1 -209.2 -182.3 -208.9 -187.1 -207.8 -193.5 -207.6 -197.7 -208.2M96.1 -199.6L99.8 -200.7 101.3 -202.1 97.9 -202.5 93.9 -201.5 91.6 -200.3 96.1 -199.6M136.3 -196.9L141 -197.1 139.9 -198.6 135.7 -198.4 136.3 -196.9M167.8 -192.5L173.1 -192.3 172.3 -193.8 165 -194.5 167.8 -192.5M127.8 -203.1L121.5 -204 117.2 -205.1 122.2 -205.5 127.8 -203.1M132.6 -201.5L129 -204.1 133.3 -203.8 135.7 -202.3 132.6 -201.5M109.4 -202.7L103.3 -203.6 106.1 -204.7 110.9 -203.8 109.4 -202.7M182.4 -167.7L186.4 -168.7 182.8 -169.6 179.6 -168.9 182.4 -167.7M182.4 -180.4L185.9 -180.4 183.4 -182.3 181.4 -181.6 182.4 -180.4M128.3 -199.4L123.7 -200.1 125.1 -201.1 128.1 -200.5 128.3 -199.4"/></defs><g transform="translate(540.4 274.2)"><g clip-path="url(#cl)"><path fill="#f9f0eb" fill-rule="evenodd" d="M-440.2 -225.8H440.2V225.8H-440.2Z"/><path fill="#edf2f5" fill-rule="evenodd" d="M-449 -235l896 0 0 469-896 0zM62 -175l-4 3 4 6 7 0 4-6-4-4zM195 -207l-14 4-5 3 5 2 6 5 22 4 21-1 7-1 6-2 3-7-2-1-7-3-20-3-15-1z"/><path fill="#dae9f2" fill-rule="evenodd" d="M-449 -235l507 0-10 7-7 2-7 1-14-3-7 0-42 5-21-2-28-1-7 2-6 3-1 7 0 1-21-2-7-2-4-4-10-3-7-1-14 0-7 3-7 7-7 3-14 1-8 4 7 7 4 7-2 7 6 1 4-1 4-7 6-6 7-1 14-1 14-3 7 1 13 10 4 7 4 3 7 2 7-5 0-7 7-3 14 3 42-4 7 0 14 2 14-1 13 3 8 4 5 10 2 2 14 6 14 11 7 0 7-2 5-3 6-7-2-7-9-10-6-4 5-7 8-4 7 1 7 3 21 4 21-2 7 0 7 2 14 8 14 0 11 2 10 11 7 1 14-2 14 8 28 3 7 0 3-14 3-7 8-10 7-3 9-1 5-5 7-3 21 0 5-6-7-7-5-4-7 3-7 6-7 2-17-7-18-3-28 0-7 1-8 2-6 5-7 0-6-5-8-4-16-3-5-4-7-3 191 0 2 7-4 14 7 6 7-3 7-2 7 3 14 9 6 1-1 7 2 7 7 2 6-2 5-7-4-3-13-4 3-7 1-7-5-7-7-4-7-1-14 4-9-6 2-7 47 0 5 7 1 7-2 7 1 7 7 14 11 4 0 386-7 1-4 1 1 7 3 1 7 1 0 26-186 0-2-7-1-7 8-7 2-7-3-3-6 3-22 20-5 8-103 0-4-5-7 0-5 5-133 0-2-4-7-3-7 7-235 0 0-7-4-7-6-2-7-1-5 3 0 7 2 7-158 0 0-16 4-5-1-7-3-6 0-130 3-4 1-7-2-7-2-2zM-400 -110l-7 8-3 7-4 4-14 1-5 2-2 2-3 5-2 21 5 4 7 3 4 14 6 7 11 5 14 9 7 3 28 4 7-3 2-4 5-3 7-3 14-3 7 1 0 1-5 7-9 10-6 4-6 7-1 7-22 1-7 3-17 10-4 4-7 3-5-7-4-7-5-6-7 1-5 5-2 7-1 14-4 21 1 7 6 7 5 3 7 1 8-4 6-11 7 1 7 2 14-2 14 4 7 0 48-8 1-7-7-1-7 0-7-2-7-7-3-4-1-7 0-7 4-6 7-5 7-1 17-2 4-1 14 0 7-6-7-3-7 0-15-4 5-7 16-14-1-7 2-7-9-7 2-14-3-7-8-7-6-7-4-7-21 5-5 2-2 3-7 2-14-12-7-4-7-1-14-17-7-1zM-295 -219l-6 5 6 5 7 1 14-3 7-3-21-6zM-253 -224l-5 3-2 7-5 0 5 0 12 7 9 1 7-3 6-5-7-7-6-3-7-2zM-120 -89l-4 8-3 4-7 1-21-1-21-2-7 1-7 4-5 7-1 7 4 7 9 6 4 1 2 7-4 7-1 7 6 10 7-2 1-1 6-4 7-1 7 3 7-5-2-7-5-3-8-4 4-7 11-2 14-7 14-3 2-2 2-14-1-7-3-9zM-64 -98l-4 3-4 7 3 7 19 15 14 7 7-1 4-7 1-7-1-7-6-7-12-5-7-5-7-2zM104 -137l-4 7 4 4 4-4zM111 -88l-1 7 4 7 3 7-3 7-10 13-7 3-7 1-7-1-14-2-14-4-5 4 5 8 2 6-3 7-6 2-7-3-7 0-10 1-4 1-8 6-1 7 2 7 7 7 7 2 5 5-1 7 1 14 2 7 10 14-1 14 12 3 7 0 8-3 4-7 1-7-9-7 0-7 3-3 21-8 7 1 8 3 0 7-3 7 2 2 7 19 7 0 14-2 7 1 7 2 8-1 4-7 2-9 7-7 3 2 7 7-2 7-3 7 9 4 35-1 21-6 14-1 7 2 21 9 7 1 7 0 21-3 29-5 7-7 0-7-5-7-3-3-14-16-7-2-21-1-14 4-7-2-7-5-7-3-7 9-7 3-7-4-4-8-3-7 2-7 10-7 2-2 7-19-1-7-6-7-7-2-7 0-14 1-6 1-1 14-4 14-3 14-7 8-10-8-3-7 4-7 3-14 5-14-1-7-5-8-7-7-9 1-5 2-8 5 1 2 2 12-2 3-7 4-7 2-8 5-2 7 3 2 13 12-3 7-3 2-7 2-7-2-5-2-4-7 3-7-3-28 1-7 2-7-1-7-4-7-1-14-2-4-7-5zM160 -175l-10 10 3 7 7-1 9-6 0-7-2-4zM216 -134l-1 4 2 7 0 7-1 14 1 7 6 8 21 8 7-4 3-5 3-7-1-7-5-8-21-19-3-1-4-4zM293 -68l-1 1-3 7 0 7 4 8 7 3 4-4 3-3 5-4-5-5-5-9-2-1zM300 -138l-2 1 2 0zM342 -74l-8 7-20 14 1 7 4 7 9 8 7 2 21 2 12 2 2 1 7-1 7-8 4-6 2-7 0-7-1-7-4-7-1-2-7-4-7-1-14-5-7 0zM398 31l-11 7-3 5-8 2 0 7 8 4 5-4 2-6 7 1 21-1 7-2 6-6 0-7-6-6-7 0zM419 -96l-7 3-3 5-1 7 2 7 2 3 7 1 7-5 4-6 2-7-6-5zM-407 197l-4 2 2 7 2 2 7 2 6-4-3-7-3-2zM-246 -96l-7 2-7 7-4 6-1 7 0 7 2 14 4 7 6 4 2 3 2 7-4 10-3 4 3 7 7 3 7 0 7-1 4-2 8-7 0-7-3-14 1-7 5-7 3-7-1-7-11-21-6-7-7-1zM-36 -25l1 7 3 7-1 7-4 7 5 7 8 7-2 7-20 14-4 7 1 7 5 14 8 5 7 1 21 0 7-1 8-5 2-7 0-7-1-7-4-7-6-7-10-7-3-6-3-1 3-2 3-12 8-14 2-7-6-5-7 0-7-3-7-5zM300 -27l-7 3-9 13-1 7 3 4 7 2 7-6 4-7 2-7zM412 73l7 1 0-1zM85 -235l89 0-7 7-7 3-7 2-7 0-14-4-42-6zM439 -235l8 0 0 7 0 6-8-6zM-318 -67l3 0 3 7-4 5-7-3-2-2zM85 -18l5-2 0 2 0 5z"/><path fill="#c2ddec" fill-rule="evenodd" d="M-432 -207l4-2 7 3 3 6 2 7-1 7-4 6-7 0-7-6-3-7 0-7 3-5zM285 -186l8-3 7 1 8 2 8 7 1 7-3 5-2 2-5 3-7 1-7-2-4-2-3-2-4-5-1-7zM-177 -179l8-2 7 1 2 1-1 7-1 1-7 3-7-1-4-3zM377 -179l7 0 23 21 1 7-3 4-7-1-14-7-8-3-4-7 0-7zM-3 -172l2-2 7-1 5 3-1 7-2 7 5 3 7 1 7 0 14-6 9 2 8 7 11 14-3 7-4 1-7 7-4 6-1 7 5 12 7 2 7-3 7-1 8 4-1 7-7 8-7-1-7-6-7 4-1 2-5 7-8 3-21 3-14 1-14 16-7-2 2-21 6-14-4-7-11-10-10-4 1-7 3-7 6-6 17-29 0-7zM443 -172l4-1 0 39-14 5-7 1-3-2 0-21 1-7 6-7zM112 -165l6-2 7 2 7 4 2 3 0 7-2 2-7 2-7 0-9-4-4-7zM-318 -158l9-3 7 1 7 4 4 5-2 7-2 2-20 12-8 3-7-1-7-4-3-5 1-7 9-7zM166 -151l8-3 7 0 3 3 3 7-1 14-5 18-3 3-4 4-7-4-7-7-5-7-1-7 1-7 3-7zM-141 -137l7-1 14 1 14-3 7 0 14 3 7 4 3 3-3 7-14 3-21 1-14 3-7 1-7-2-7-6-1-7zM243 -137l1-1 7 1 0 4zM320 -130l8-4 7 0 7 1 7 3 5 7 4 7 0 7-7 7-16 9-14 2-14-3-7-3-7-5-2-7 2-1 7-1 7 5 7 1 6-4 1-7-3-7zM-290 -116l9-1 8 1 6 3 3 4-3 7-7 7-7 4-7 0-5-4-6-7-2-7 6-4zM-205 -109l8-2 3 2 3 7-6 3-7-2-1-1zM170 -88l4-6 5 6-4 7-1 1-2-1zM446 -74l1 0 0 7-1 0zM226 -67l4-1 2 1 6 7-1 1-7 2-5-3zM-273 -39l6-3 7 2 2 1 4 7-6 8-7 0-7-4-2-4zM-124 -32l4-2 7-1 21 2 3 1 9 7-5 5-4 2-10 2-14 0-7-3-6-6zM-449 -25l0-2 8 2 4 7-2 14 0 14-3 10-3 4-4 2zM439 -18l8-4 0 32 0 4-2-4-9-7-3-7 1-7zM-218 31l5 7-5 6-4-6zM-138 38l4-4 7-1 6 12 1 7-7 6-6 1-1 0-8-7 0-7zM-66 59l2-1 1 1 12 14 8 6 7 3 7 0 7-1 42-3 14 1 28-1 21-4 7 1 8 5 2 7-1 7 4 7 8 6 7 2 7-8-1-7-3-7 1-7 10-2 7 0 21 3 7 3 5 3 9 8 2-1 4-7 8-5 21 0 14-3 14-5 7-2 7 1 14 6 21 3 14 1 14-3 7 1 7 1 10 5-8 14-3 7 6 7 10 7 6 2 7 0 21-8 7 1 14 4 21 2 14-2 7 3 0 32-7-4-7-1-7 1-10 5-11 14 7 8 7 3 7 1 5 2-33 5-7-2-6-3 7-7 6-6 2-1-2 0-7-11-7-2-7-1-7 0-7 3-18 11 4 7 14 7-7 6-14 0-14 4-7 0-14-5-21-2-14 1-14 2-14-1-14 4-7 1-42 1-16 3-3 7-2 2-7 0-4-9-10-3-14-2-7 0-14 5 2 7-2 3-7 3-14 1-7-1-14-13-70-5-5-2-9-7-7 0-14 8-7 0-14-1-14 2-14-1-7 1-14 2-35 2-7 0-21-6-21-4-7 0-8 4-13 3-28-2-14-4-7 0-14 5-7 1-7-1-14-3-21-1-14 2-21-2-7 0-7 0-12-5 1-7-3-2-21 1-7 0-9-20-5-3-7-1 0-34 14-4 7 0 7 5 7 0 14-18 7-1 21 15 7 10 7 5 7-4 4-5 4-7-7-7-15-1-8-6-9-14 10-6 7-1 14 2 14-1 28-6 7 1 14 6 7 1 14-1 7 1 7-2 7-4 14-5 7 0 4 1 10 2 14 0 14-1 14-4 21 7 21 5 21-7 14 0 11-2 9-7zM-365 163l-2 1-8 7 10 7 7 0 7-3 3-4-10-7zM361 80l9-4 14 3 9 8 2 7-4 4-7 5-7-1-9-8-6-7zM-443 87l8-2 7 1 5 1 14 7-1 7-4 3-7 3-7-1-9-5-5-2-7 0 0-8zM-439 185l4-3 7-2 7 5-7 3-7-1zM-156 213l1-2 7-3 5 5-1 7-4 6-7 5-3-11zM338 213l4-4 7-2 7 4 2 2 0 7-5 14-23 0 2-7zM-340 220l3-2 7-4 7 1 7 4 7 6 6 9-13 0-39 0 4-1zM-52 220l2-1 1 1-1 2zM66 227l3-3 7-2 6 12-17 0zM-384 234l5-6 7-1 11 7z"/><path fill="#a2cde3" fill-rule="evenodd" d="M5 -137l8-3 7-1 7 2 4 2 3 4 2 3 1 7 0 21-3 8-7 3-7-2-7-9-14-5-2-2 0-7 4-7zM-115 94l9-6 7 6 1 7-4 14 17 6 7 6 7 4 3-2 4-5 0-2-3-14 0-7 3-4 7-1 14 9 7 1 14-2 7-3 9-7 5-1 4 1 3 4 1 3-1 7 7 4 9 3 19 4 9-4 12-15 7-3 7 1 7 4 21 19 7 3 14-4 7-2 8-10 4-7 2-1 7-1 7 2 11 7 10 3 7 1 14-3 14 9 7 1 14-2 7 5 7 7 7 0 14-5 7-1 14 1 7-2 7 0 21 4 7 3 25 14-1 7-8 7-23 13-7 1-35-1-14 2-7-1-21-8-35 2-7-2-7-4-7-1-14 2-14-1-21 3-3 2-11 3-14-1-7 1-2 4 0 7-3 7-2 3-2 4-12 8-7-1-7-4-7-2-35 1-28-6-5-3-4-7 2-7-7-3-7-1-21-1-14 2-21 0-14-2-14 0-28 0-14 2-14-2-14-5-7 1-7 3-7 1-7-1-7-2-7-1-14 4-14 1-35-4-14-3-7 0-7 2-14 0-14 4-7-1-7-4-5-4 0-7 5-5 4-2 3-3 7-3 7 2 6-3 3-7 5-4 7 2 7 2 7-1 7-6 7-4 7 2 7 4 7 2 7 0 14-3 14-7 7-1 21 5 7 0 14-10 7-2 7 1 14 7 7-1 7-4 10-10zM144 185l2-2 8 2-8 1z"/><path fill="#7eb8d7" fill-rule="evenodd" d="M70 129l6-5 7 3 7 13 6 17-1 7-3 14-2 6-7 8-7 0-7-3-7-2-28 2-7 0-14-3-5-1-2-3-3-4 3-2 7-3 14-3 28-2 5-4-5-4-7-1-4-2-7-7 2-7 9-5 14 1zM-283 136l9-2 7 1 14 3 15 5 8 7-7 7-16 2-21-1-7-2-11-6 0-7zM266 136l6-1 7 1 2 0 5 4 7 0 4-4 10-2 10 2 11 5 3 2 2 7-4 7-8 5-14 0-7 2-14-2-8 2-6 1-8-1-9-7-3-7 2-7zM-349 150l5-3 7 0 7 2 2 1 1 7-3 2-7 2-7-1-6-3zM-91 150l6-4 7 1 3 3 0 7-3 3-7 0-6-3z"/><use href="#coast" fill="none" stroke="#000" stroke-width="2.7" stroke-linejoin="round"/></g><path d="M231.6 220.8 241.7 218 253.5 214 266.6 209 280.5 203.1 294.1 196.8 306.3 190.1 317.7 183.1 328.6 175.9 339.1 168.5 349.2 160.9 359 153.2 368.2 145.3 376.8 137.3 384.6 129.1 391.8 121 398.6 112.7 404.7 104.4 410.1 96.1 414.9 87.7 419.1 79.4 422.5 71 425.3 62.6 427.6 54.3 429.7 45.9 431.6 37.6 432.9 29.2 434 20.9 434.7 12.5 435.1 4.2 435.1 -4.2 434.7 -12.5 434 -20.9 432.9 -29.2 431.6 -37.6 429.7 -45.9 427.6 -54.3 425.3 -62.6 422.5 -71 419.1 -79.4 414.9 -87.7 410.1 -96.1 404.7 -104.4 398.6 -112.7 391.8 -121 384.6 -129.1 376.8 -137.3 368.2 -145.3 359 -153.2 349.2 -160.9 339.1 -168.5 328.6 -175.9 317.7 -183.1 306.3 -190.1 294.1 -196.8 280.5 -203.1 266.6 -209 253.5 -214 241.7 -218 231.6 -220.8 -231.6 -220.8 -241.7 -218 -253.5 -214 -266.6 -209 -280.5 -203.1 -294.1 -196.8 -306.3 -190.1 -317.7 -183.1 -328.6 -175.9 -339.1 -168.5 -349.2 -160.9 -359 -153.2 -368.2 -145.3 -376.8 -137.3 -384.6 -129.1 -391.8 -121 -398.6 -112.7 -404.7 -104.4 -410.1 -96.1 -414.9 -87.7 -419.1 -79.4 -422.5 -71 -425.3 -62.6 -427.6 -54.3 -429.7 -45.9 -431.6 -37.6 -432.9 -29.2 -434 -20.9 -434.7 -12.5 -435.1 -4.2 -435.1 4.2 -434.7 12.5 -434 20.9 -432.9 29.2 -431.6 37.6 -429.7 45.9 -427.6 54.3 -425.3 62.6 -422.5 71 -419.1 79.4 -414.9 87.7 -410.1 96.1 -404.7 104.4 -398.6 112.7 -391.8 121 -384.6 129.1 -376.8 137.3 -368.2 145.3 -359 153.2 -349.2 160.9 -339.1 168.5 -328.6 175.9 -317.7 183.1 -306.3 190.1 -294.1 196.8 -280.5 203.1 -266.6 209 -253.5 214 -241.7 218 -231.6 220.8Z" fill="none" stroke="#000" stroke-width="2.2"/></g><text class="t" x="540.4" y="40.0" font-size="35.4" text-anchor="middle">Ps [hPa] RMSE difference</text><text class="lab" x="10.8" y="86.6" font-size="75">(a)</text><path d="M192.8 543.5L224.9 527.7L224.9 559.4Z" fill="#053061"/><path d="M888.0 543.5L855.9 527.7L855.9 559.4Z" fill="#67001f"/><rect x="224.4" y="527.7" width="32.0" height="31.7" fill="#0c3d73"/><rect x="256.0" y="527.7" width="32.0" height="31.7" fill="#1a5899"/><rect x="287.6" y="527.7" width="32.0" height="31.7" fill="#2a71b2"/><rect x="319.2" y="527.7" width="32.0" height="31.7" fill="#3a87bd"/><rect x="350.8" y="527.7" width="32.0" height="31.7" fill="#569fc9"/><rect x="382.4" y="527.7" width="32.0" height="31.7" fill="#7eb8d7"/><rect x="414.0" y="527.7" width="32.0" height="31.7" fill="#a2cde3"/><rect x="445.6" y="527.7" width="32.0" height="31.7" fill="#c2ddec"/><rect x="477.2" y="527.7" width="32.0" height="31.7" fill="#dae9f2"/><rect x="508.8" y="527.7" width="32.0" height="31.7" fill="#edf2f5"/><rect x="540.4" y="527.7" width="32.0" height="31.7" fill="#f9f0eb"/><rect x="572.0" y="527.7" width="32.0" height="31.7" fill="#fce2d2"/><rect x="603.6" y="527.7" width="32.0" height="31.7" fill="#fbccb4"/><rect x="635.2" y="527.7" width="32.0" height="31.7" fill="#f6b394"/><rect x="666.8" y="527.7" width="32.0" height="31.7" fill="#ec9374"/><rect x="698.4" y="527.7" width="32.0" height="31.7" fill="#dd7059"/><rect x="730.0" y="527.7" width="32.0" height="31.7" fill="#cc4c44"/><rect x="761.6" y="527.7" width="32.0" height="31.7" fill="#ba2832"/><rect x="793.2" y="527.7" width="32.0" height="31.7" fill="#9f1228"/><rect x="824.8" y="527.7" width="32.0" height="31.7" fill="#790622"/><path d="M192.8 543.5L224.4 527.7L856.4 527.7L888.0 543.5L856.4 559.4L224.4 559.4Z" fill="none" stroke="#000" stroke-width="2"/><line x1="256.0" y1="559.4" x2="256.0" y2="566.9" stroke="#000" stroke-width="2.2"/><text class="t" x="256.0" y="598.4" font-size="29" text-anchor="middle">−2.25</text><line x1="350.8" y1="559.4" x2="350.8" y2="566.9" stroke="#000" stroke-width="2.2"/><text class="t" x="350.8" y="598.4" font-size="29" text-anchor="middle">−1.50</text><line x1="445.6" y1="559.4" x2="445.6" y2="566.9" stroke="#000" stroke-width="2.2"/><text class="t" x="445.6" y="598.4" font-size="29" text-anchor="middle">−0.75</text><line x1="540.4" y1="559.4" x2="540.4" y2="566.9" stroke="#000" stroke-width="2.2"/><text class="t" x="540.4" y="598.4" font-size="29" text-anchor="middle">0.00</text><line x1="635.2" y1="559.4" x2="635.2" y2="566.9" stroke="#000" stroke-width="2.2"/><text class="t" x="635.2" y="598.4" font-size="29" text-anchor="middle">0.75</text><line x1="730.0" y1="559.4" x2="730.0" y2="566.9" stroke="#000" stroke-width="2.2"/><text class="t" x="730.0" y="598.4" font-size="29" text-anchor="middle">1.50</text><line x1="824.8" y1="559.4" x2="824.8" y2="566.9" stroke="#000" stroke-width="2.2"/><text class="t" x="824.8" y="598.4" font-size="29" text-anchor="middle">2.25</text><g transform="translate(540.4 919.4)"><g clip-path="url(#cl)"><path fill="#f9f0eb" fill-rule="evenodd" d="M-440.2 -225.8H440.2V225.8H-440.2Z"/><path fill="#edf2f5" fill-rule="evenodd" d="M-449 -235l896 0 0 469-896 0zM-330 87l-7 5-1 2 1 7 7 3 7-3 1-7-1-3zM-225 171l-1 0 1 2 4 5 3 2 7 0 8-2 8-7-2-2-7-2-7 0-7 1zM-85 -98l-2 3 0 7 2 3 7-2 1-1 0-7-1-2zM-36 -118l-2 9 1 7 1 5 7-1 1-4 0-14-1-2zM34 -202l-6 2 13 7 7 0 21-4 7-3-7-2-21-3zM230 -181l-6 2-5 7 4 5 3 2 4 2 14-1 4-1 8-7-4-7-8-3-7 0zM293 162l-4 2-3 7 7 4 14 3 14-2 12-5-7-7-19-3zM-29 157l-7 3-5 4-3 7 1 6 0 1 7 3 7 2 7 0 12-5 3-7-3-7-5-4-7-3zM55 -112l-2 3-1 7 1 7 2 4 2-4 0-7-1-7z"/><path fill="#dae9f2" fill-rule="evenodd" d="M-449 -235l9 0-2 2-7 3zM-382 -228l5-7 9 0-1 7 2 7 3 7 1 7-2 5-7 5-7 0-7-5-7 0-4 9-5 7-5 4-6 3-8 3-7 0-7-4-6-13 0-7 13-6 7-6 7-3 7 0 7 2 7 0 5-8zM-346 -235l175 0 2 11 2 3-5 7-11 2-14 7-7-1-14-17-7-4-7 6-7 7-14 2-7 5-14 15-14 9-7-1-1-2 8-21 3-7 5-7-1-8-7 8-13 7-4 7-4 4-4-4 1-7-1-7-3-3-7-4-7-1-7 0-7-3zM-159 -235l54 0-7 14-1 14-7 6-21 6-7-1-11-11-3-7 4-14zM-75 -235l8 0 2 7-6 7zM25 -235l84 0-5 2-7 3-7 5-14 3-14 8-7 0-7-1-6 1-8 3-7 4-14 2-2 5-5 7-7 4-7-2-7-6-2-3 0-7 2-3 7-4 7-1 3 1 11 6 7-6 2-7zM137 -235l41 0 3 4 7 6 7 1 2-4 0-7 79 0 5 7 2 7 0 7 2 7 9 7 6 7 0 7-2 7 12 7 7 7-3 9-7 3-7 0-14-5-7-1-7 2-14 10-7-1-7-5-4-5 18-4 4-3 4-7-3-7-6-7 3-7 1-7-1-14-2-2-7-3-7-1-7 1-14 6-7 0-14-4-5 10 2 7 3 4 7 7 6 3-7 14 4 7 4 4 7 3-7 4-7 1-2 2 11 14 12 11 7 5 14 0 4 5 3 6 7 6 7-3 7 0 7 2 19 10 0 7-5 11-7 10-7-5-2-2 0-7-18-14-1-3-7-3-14 11-7 1-7-1-7 0-4 2-10 9-14 6-21 1-7 2-7 0-7-1-14-1-7-2-7-10-7-6-7-3-7 3-2 2 9 14-5 7-2 1-21-1-14-3-14-2-14 0-7-4-12-12-4-7-5-13-7 2-7 4-7 1-7 0-7 3-2-25-5-6-7 1-4 5-1 21 0 7 5 7 7 0 5 7 0 7-4 7-2 0-20-8-14 4-7-4-3-6 3-10 10-4 2-7 0-7 1-7-3-7-3-1-7 0-7 8-3 7-4 2-4 5-3 7 0 6-4 8-7 21 4 4 5 3 8 0 22-6 8 13 6 4 7 3 7 0 7-2 16-5 5-3 7-2 7 0 4 5 5 7 5 3 14 1 35 9 14 2 14 4 7 0 7-2 21-9 7 0 7 1 7 2 14 8 14 1 7 0 14-6 7-1 7 0 14-2 14 1 14-1 9-4 12-9 7-2 14 2 7-1 14-5 7-1 14 1 7-1 7 1 7 6 9 9 12 7 7 3 7 8 7 11 7 9 7 6 7 2 21-2 0 23-2 3 2 14-7 3-7 0-14-4-14 4-28 7-13-10-8 0-7 2-21 15-7 1-21-5-14-8-7-3-7-1-21-1-7-2-8-5 0-14-3-7-3-5-7-1-10 6-11 10-7 3-14-5-7 0-14 3-14-1-10 4-11 8-7 1-18-23 1-7-4-7-7 4-14 18-7 7-7-1-14-11-7-2-7 1-14 8-7-1-14-7-7 1-14 10-7-1-7-3-7-1-14 3-14-3-7 0-7 3-4 3-6 7-4 3-7 0-7-4-7-1-17 9-4 3-7 4-14-2-7 1-21-1-7-3-6-9-8-6-7-1-14 2-7 2-14 8-7 2-2 7 2 7 7 1 14-1 21 1 7 2 7 4 8 7 6 3 14-2 7 2 7 9 7 6 14-1 7 3 1 1 1 7 5 7 7 3 7 0 3-3 2-7-5-7-3-7 3-15 7 1 3 7 11 5 14 4 7 5 4 7 0 7 3 7 7 6 7 2 7-1 4-7 1-7-2-14 1-7 3-7 7-2 21 6 7 1 14-4 2 6-2 4-7 6-6 11-9 14 0 7 1 3 7 2 7-1 3-4 6-14 5-5 7-3 9 1 5 3 7-1 6-9 8-4 7-1 7 5 1 7 6 4 7 0 7-1 4-3-1-14 0-7-3-5-2-9 2-7 7 4 2 10 5 3 14 2 12 9 2 3 7-3 7-7 7-3 7-2 7 2 7 6 7 11 7 5 7 3 7 5 7 10 7 7 7 3 7-2 12-24 2-5 6-2 8-5 7 0 14 6 7 1 3-2 4-5 1-2 1-7 5-5 10 5-1 7-4 21-4 7-8 2-14 0-7 3-14 9-6 7-3 7 0 7 2 3 4 4 8 7 0 7-6 14-1 7 12 14-6 14-74 0-45 0 5-7 5-3 7-1 14 1 14 3 7-2 10-5-5-14 0-7 2-2 14-12 14 2 8-2 6-7-1-7-6-5-7-5-7 1-7 8-7 1-7-2-7 1-7 2-7-1-5-14-2-1-14 11-14 6-6 5 1 7 5 8 3 6 0 7-3 8-7 7-7 3-7-7-7-14-6-4-3-14-12-9-7-8-7-3-7 3-7 6-7 3-14 2-7 3-4 3 0 7-3 4-7 2-8 1-2 7 1 7 2 2 21 12 7 0 21-2 7 2 4 7-79 0-2-6-7-9-2-6 2-7-7-4-14-3-7 1-4 6-1 7 2 7 9 7 4 7-29 0 4-14-2-14-3-7-8-1-9 1-5 7-3 14-2 14-87 0 4-7 4-5 7-5 7-2 7 0 7 1 7 6 7 1 1-3-7-7 0-7 11-14 0-7-1-7 3-7 7-7 0-7-7-6-7-3-7 0-14 5-21 2-14 5-7-3-7-5-7 7-7 1-14 0-7 1-7 4-9 6 0 7-5 4-7-1-14-2-6 6-3 14-8 14-2 7 0 7 5 5 7-5 7-9 5-5 8 0 1 0 2 7-1 14-50 0-7-6-5-8-6-14 11-19 3-16 4-5 7-2 7-3 3-4 4-9 3-5 11-4 7-4 8-6 8-7 5-2 19-5 5-7-10-8-7 0-7 4-7 7-7 1-6-4-2-7 3-7 1-7-10-20-21 9-7-6-7-8-7 7-2 4 2 5 7 3 7-1 7 5 6 9 1 7-7 3-7 3-1 1-2 7 3 14-1 7-8 7-5 7 1 7-2 7-6 2-7 0-2-2-2-7 1-7 4-7-4-7-4-2-7 2-7 5-2 2-15 35 1 7 9 7 6 7-7 14-3 14-3 5-3 2-72 0 4-7-1-7-5-4-7-4-7 0-1 1-2 7 8 14-12 0 0-37 4-5 10-4 7-1 7 2 7 7 7 4 7 1 7 5 7 9 7 2 3-4 4-7 0-3-2-4-12-4-2-3 11-14 1-7-3-4-14-6-7 1-7 3-7 1-3-2-7-7-3-7 0-7 2-7-2-7-8-6-7-4-7-1 0-189 7 1 14 6 7-2 6-8 2-7-1-7-4-7-3-3-5 3-9 2-14-5 0-40 7-2 7-4 10-7 11-10 7-3 14-1 4 14 6 14-3 7-7 3-7-2-7 0-7 2-6 4-3 7 2 8 7 5 21-3 7 4 5 7 4 21 3 7 2 2 7 4 7-1 3-5 11-3 8-4 6-5 2-9 5-4 14-6 2-4 5-15 7-13-1-7-6-10-8-4 8-4 7 2 14 1 7 0 14-4 14 3 7 2 1 7 6 4 6 3 8 1 2-1 3-7-4-7 5-7 8-2 28-4 7 3 7 5 7 1 21-9 7-1 7 0 14 4 7 1 7-5 7-2 7 6 7 2 14 0 14 4 14 2 7 3 8 13 13 4 7-4 2-7 5-20 7-12 7-1 10 19 2 7-1 7-4 7 3 7 4 3 14-10 7-2 7 0 7-3 1-2 1-14 5-7 7-5 4 5 10 16 7 4 7-3 7-2 7 1 7 6 7 10 7 7 7-4 7-10 7-6 14-9 14-1 2-2-6-14-5-7-12-9-5-5-9-15-7-6-7-1-7-4-3-9zM391 28l0 4 3-1zM-85 171l-1 7 8 8 3-8 0-7-3-6zM-22 143l-7 1-7 3-7 5-10 12-2 7 0 7 5 4 8 3 13 2 7 0 22-9 3-7-3-7-15-20zM153 128l-1 1 1 1 3-1zM-358 -58l-2 5 4 7 5 4 3 3 11 9 7 2 7-1 4-3 3-6-2-8-5-7-7-3-14 4zM-295 -82l-3 1-1 7 4 4 7 4 7 1 6 5-1 7-1 7 3 2 7-1 1-8-1-7 0-2-4-5-2-7-8-7-7-2zM-225 -56l-4 3 7 7 11 2 7-1 1-1-2-7-13-3zM-120 -98l-3 3 3 6 4-6zM55 -119l-5 3-4 14 2 4 2 10 5 6 4-6 2-7-1-14-2-7zM104 -138l-9 8 0 7 7 7 3 7 6 6 7-1 4-5-4-7-7-2-4-5 1-7-3-7zM-351 36l-5 2-2 4-7 2-14-4-7 1-7 4-1 7 3 14 5 4 7-2 6-9 7-7 1-3 7-1 7 2 7-1 4-4 3-7-7-4zM-379 86l-7 1-8 7-6 4-3 3-3 7-1 7 4 7 10 3 7 3 7 5 7 0 7-2 14-1 2-1 2-7-11-5-7-8-7-17zM-337 84l-3 3-2 7 1 7 4 5 7 4 2-2 5-2 5-5 1-7-1-7-5-4-7-1zM311 -235l16 0 2 7 0 7-1 2-7 4-7-2-6-4-1-7zM344 -235l28 0 8 14-4 14-3 7-3 4-7 2-7-6-5-7-1-7 0-7-2-7zM392 -235l45 0-4 21-7 8-7-4-7-7-14-4-7-7zM-45 -221l9-1 7 1-7 6zM-368 -186l17-6 7 4 8 23 2 7-1 7-9 3-7-3-14-25-5-3zM436 -186l4-2 7 1 0 39-7 2-7-4-7-8-7-5-14 0-4-2 2-7 2-2 7-2 7 1 7-3 7-7zM96 -179l1 0 1 0-1 3zM333 -158l9-4 7 0 7 3 4 8 2 7-2 7-7 7 3 8 7 1 7-1 1-1-1-7 2-7 5-1 9 1 3 7-1 7-4 7-2 7 4 14 5 7 7 1 14-3 7-4 7-5 10-10 3-7-1-14 2-7 7-3 0 10 0 43-14-1-7 1-6 6-5 14-3 5-7 1-7-1-17-5-11-8-14-2-14-4-7 0-6-7-10-7-5-7 2-7-4-7-8-7-2-7 5-4 7-10 7-5 7-2zM394 -158l4-3 1 3-1 7 0 2-3-2zM-326 -130l3-6 7-1 4 7-1 7-3 2-7 0-2-2zM12 -67l1-1 1 1-1 3zM436 -60l4-3 7-3 0 20 0 5-7-3-2-2-3-7zM409 -39l3-1 2 1-2 7zM123 73l2-1 0 1 0 1zM206 73l3-2 7-1 6 3 1 7-6 7-8 7-7-3-2-4 1-7zM433 87l7-4 7-1 0 35-14 1-14 3-14-3-7 2-3 2-6 7 2 7 1 7-2 7-4 7-23 28-7-2-4-5 0-7 3-21-6-5-7 0-7 2-3 3-2 7-10 0 0-7 6-7 3-14 3-7 3-3 7-2 14 8 12-3 9-7-5-7 5-3 7 5 7-1 7-3 7-13 7-6 7 2 7 6zM242 94l2-2 7-2 4 4-1 7-3 3-7-4zM426 164l7-1 7 5 7 3 0 11-14 1-7-3-3-9zM-184 171l1-5 7-1 7 9 6 11-1 7-12 5-7 0-14 0-7-1-2-4-2-7 11-3 6-4zM294 185l29 0-12 7 1 7 6 14 3 3 7 0 14-3 14-2 7-8 7-5 7 1 10 7 3 14 2 7 1 7-18 0 3-7-1-7-7-4-7-1-7 6-2 6 0 7-52 0-1-7-5-14 0-14-2-7zM398 199l7-3 21 0 7 1 5 2 5 7-3 1-7 8-7 8-7 0-19-10-6-7zM95 206l9-6 5 6-5 6-7 3-2-2zM-216 213l5-5 7 1 2 4 12 10 3 4 2 7-28 0-4-14zM446 227l1 7-8 0z"/><path fill="#c2ddec" fill-rule="evenodd" d="M-200 -235l5 0-2 2zM-133 -151l6-2 7-1 4 3-4 7-7 0zM179 -137l9-3 7 0 7 3 6 7 3 7-3 14-3 7-3 2-4-2-3-2-4-5-3-2-14-7-3-5 2-7zM-275 -123l8-3 7 0 14 1 14 0 14 2 14-2 7 0 15 9 7 7-15 5-14 8-7 4-7 3-14 1-14 7-7-1-14-9-14-4-7-3-3-4 2-7zM-144 -109l3-5 7-1 2 6-2 3-7 0zM-387 -39l8-1 7 2 14 9 14 14 7 2 21-3 21-7 7 2 7 5 7-1 7-5 7-2 12-1 6-7 10-2 7 0 7 1 14 4 7 1 7-2 7-4 14-1 14-5 21-4 21-1 14 2 21 1 35 10 7 1 28-1 7 3 7 4 7 1 14-2 7 0 7 3 7 5 0 7-8 14-6 6-14 6-7 0-12-5-2-1-7 2-6 6-8 6-7 1-14-1-14 2-14-2-7 0-7 1-14 6-21 1-14 5-7 2-21 0-14 2-7-1-7-2-14-6-28-5-7-1-21 2-14 5-7-1-7-3-7-6-7-2-14-1-14-4-7 2-28 11-7 1-14-2-7-1-21-7-21-3-4-6 2-7 4-7 2-7 0-7 1-7 7-7 9-5 7-1 14 0zM297 -32l24-4 7 3 7 5 7 2 7-1 7 1 21 7 7 3 6 5 3 7-2 8-7 1-14-2-7 3-4 4 1 7 7 14-18 13-7 6-7 6-7 4-7 1-14-1-7-2-21-12-26-8-2-1-4-6-2-7 0-7 2-7 15-21 18-14 6-3zM-449 66l0-3 4 3 0 7-3 7-1 2zM-8 185l7-2 7-1 21 1 5 2 2 2 1 5-1 1-14 2-21 0-25-3 11-2zM323 234l5-2 7-1 2 3z"/><path fill="#a2cde3" fill-rule="evenodd" d="M-133 -32l27-3 21 1 14 4 14 2 21 6 21 2 3 2 5 7-7 7-9 7-6 8-21 6-7 1-14-2-28 9-14 1-14 1-14 5-35 0-7-1-21-9-14-5-7-4-14-4-5-6 0-7 5-7 7-6 7-5 7 0 14 3 7 0 49-11zM-416 -25l9-3 28-1 7 2 7 5 3 4 4 7 3 7-1 7-2 2-7 5-7 3-7 1-28-7-5-4-4-7-2-14zM305 -25l9-1 7 2 7 6 4 7 3 2 7 2 5 3 4 21 0 7-1 7-4 7-7 7-4 4-7 5-7 1-7 0-7 0-7-3-28-18-7-3-7-7 3-7 11-12 7-12 7-6z"/><path fill="#7eb8d7" fill-rule="evenodd" d="M-127 -25l21-4 21 1 14 4 14 2 7 2 5 2 7 7-4 7-8 6-7 3-14-2-7 3-1 4-4 7-9 4-7 1-7 1-14-2-14-4 0-7 7-7-14-5-6 5 11 14-4 7-1 1-28 1-7 0-4-2-7-7-3-7 7-5 7-2 8-7-11-7 3-1 7-6 21-3zM-394 -18l8 0 7 4 2 3 0 7-2 3-7 4-7-1-7-3-3-3-1-7 4-4zM289 -4l11-4 7-2 7 2 5 4 16 7 7 6 3 8 0 7-2 7-4 7-7 7-4 3-7 2-7 0-7-1-9-4-9-7-8-7-4-7 0-7 6-14 3-4z"/><path fill="#569fc9" fill-rule="evenodd" d="M-103 -25l11 0 30 7 5 7-7 4-16 3-12 0-21-2-16-5-5-7zM293 3l7-3 7-1 7 1 14 5 8 5 4 7 0 7-3 7-6 7-3 3-7 3-7 0-7-1-8-5-7-7-4-7-1-7 1-7zM-119 10l13-3 7-1 7 1 4 3 0 7-4 2-14 1-10-3z"/><path fill="#3a87bd" fill-rule="evenodd" d="M-111 -18l19-2 13 2-3 7-10 1-11-1-3-2zM297 10l3-2 7-3 7 0 7 1 9 4 5 6 0 9-7 9-7 3-7 0-7-2-6-4-5-7-1-7zM-106 17l7-7 4 7z"/><path fill="#2a71b2" fill-rule="evenodd" d="M307 10l7-1 7 1 7 4 2 3-1 7-1 2-7 4-7 0-7-2-3-4-2-7z"/><path fill="#1a5899" fill-rule="evenodd" d="M309 17l5-2 7 2 1 0-1 5-4 2-3 0z"/><path fill="#fce2d2" fill-rule="evenodd" d="M-36 171l7-6 7 0 7 5 0 1 0 1-5 6-2 1-7 0-2-1z"/><path fill="#fbccb4" fill-rule="evenodd" d="M-30 171l8-2 2 2-2 3-7-2z"/><use href="#coast" fill="none" stroke="#000" stroke-width="2.7" stroke-linejoin="round"/></g><path d="M231.6 220.8 241.7 218 253.5 214 266.6 209 280.5 203.1 294.1 196.8 306.3 190.1 317.7 183.1 328.6 175.9 339.1 168.5 349.2 160.9 359 153.2 368.2 145.3 376.8 137.3 384.6 129.1 391.8 121 398.6 112.7 404.7 104.4 410.1 96.1 414.9 87.7 419.1 79.4 422.5 71 425.3 62.6 427.6 54.3 429.7 45.9 431.6 37.6 432.9 29.2 434 20.9 434.7 12.5 435.1 4.2 435.1 -4.2 434.7 -12.5 434 -20.9 432.9 -29.2 431.6 -37.6 429.7 -45.9 427.6 -54.3 425.3 -62.6 422.5 -71 419.1 -79.4 414.9 -87.7 410.1 -96.1 404.7 -104.4 398.6 -112.7 391.8 -121 384.6 -129.1 376.8 -137.3 368.2 -145.3 359 -153.2 349.2 -160.9 339.1 -168.5 328.6 -175.9 317.7 -183.1 306.3 -190.1 294.1 -196.8 280.5 -203.1 266.6 -209 253.5 -214 241.7 -218 231.6 -220.8 -231.6 -220.8 -241.7 -218 -253.5 -214 -266.6 -209 -280.5 -203.1 -294.1 -196.8 -306.3 -190.1 -317.7 -183.1 -328.6 -175.9 -339.1 -168.5 -349.2 -160.9 -359 -153.2 -368.2 -145.3 -376.8 -137.3 -384.6 -129.1 -391.8 -121 -398.6 -112.7 -404.7 -104.4 -410.1 -96.1 -414.9 -87.7 -419.1 -79.4 -422.5 -71 -425.3 -62.6 -427.6 -54.3 -429.7 -45.9 -431.6 -37.6 -432.9 -29.2 -434 -20.9 -434.7 -12.5 -435.1 -4.2 -435.1 4.2 -434.7 12.5 -434 20.9 -432.9 29.2 -431.6 37.6 -429.7 45.9 -427.6 54.3 -425.3 62.6 -422.5 71 -419.1 79.4 -414.9 87.7 -410.1 96.1 -404.7 104.4 -398.6 112.7 -391.8 121 -384.6 129.1 -376.8 137.3 -368.2 145.3 -359 153.2 -349.2 160.9 -339.1 168.5 -328.6 175.9 -317.7 183.1 -306.3 190.1 -294.1 196.8 -280.5 203.1 -266.6 209 -253.5 214 -241.7 218 -231.6 220.8Z" fill="none" stroke="#000" stroke-width="2.2"/></g><text class="t" x="540.4" y="685.2" font-size="35.4" text-anchor="middle">Ts [K] RMSE difference</text><text class="lab" x="10.8" y="726.3" font-size="75">(b)</text><path d="M192.8 1188.8L224.9 1172.9L224.9 1204.6Z" fill="#053061"/><path d="M888.0 1188.8L855.9 1172.9L855.9 1204.6Z" fill="#67001f"/><rect x="224.4" y="1172.9" width="32.0" height="31.7" fill="#0c3d73"/><rect x="256.0" y="1172.9" width="32.0" height="31.7" fill="#1a5899"/><rect x="287.6" y="1172.9" width="32.0" height="31.7" fill="#2a71b2"/><rect x="319.2" y="1172.9" width="32.0" height="31.7" fill="#3a87bd"/><rect x="350.8" y="1172.9" width="32.0" height="31.7" fill="#569fc9"/><rect x="382.4" y="1172.9" width="32.0" height="31.7" fill="#7eb8d7"/><rect x="414.0" y="1172.9" width="32.0" height="31.7" fill="#a2cde3"/><rect x="445.6" y="1172.9" width="32.0" height="31.7" fill="#c2ddec"/><rect x="477.2" y="1172.9" width="32.0" height="31.7" fill="#dae9f2"/><rect x="508.8" y="1172.9" width="32.0" height="31.7" fill="#edf2f5"/><rect x="540.4" y="1172.9" width="32.0" height="31.7" fill="#f9f0eb"/><rect x="572.0" y="1172.9" width="32.0" height="31.7" fill="#fce2d2"/><rect x="603.6" y="1172.9" width="32.0" height="31.7" fill="#fbccb4"/><rect x="635.2" y="1172.9" width="32.0" height="31.7" fill="#f6b394"/><rect x="666.8" y="1172.9" width="32.0" height="31.7" fill="#ec9374"/><rect x="698.4" y="1172.9" width="32.0" height="31.7" fill="#dd7059"/><rect x="730.0" y="1172.9" width="32.0" height="31.7" fill="#cc4c44"/><rect x="761.6" y="1172.9" width="32.0" height="31.7" fill="#ba2832"/><rect x="793.2" y="1172.9" width="32.0" height="31.7" fill="#9f1228"/><rect x="824.8" y="1172.9" width="32.0" height="31.7" fill="#790622"/><path d="M192.8 1188.8L224.4 1172.9L856.4 1172.9L888.0 1188.8L856.4 1204.6L224.4 1204.6Z" fill="none" stroke="#000" stroke-width="2"/><line x1="256.0" y1="1204.6" x2="256.0" y2="1212.1" stroke="#000" stroke-width="2.2"/><text class="t" x="256.0" y="1243.6" font-size="29" text-anchor="middle">−1.125</text><line x1="350.8" y1="1204.6" x2="350.8" y2="1212.1" stroke="#000" stroke-width="2.2"/><text class="t" x="350.8" y="1243.6" font-size="29" text-anchor="middle">−0.750</text><line x1="445.6" y1="1204.6" x2="445.6" y2="1212.1" stroke="#000" stroke-width="2.2"/><text class="t" x="445.6" y="1243.6" font-size="29" text-anchor="middle">−0.375</text><line x1="540.4" y1="1204.6" x2="540.4" y2="1212.1" stroke="#000" stroke-width="2.2"/><text class="t" x="540.4" y="1243.6" font-size="29" text-anchor="middle">0.000</text><line x1="635.2" y1="1204.6" x2="635.2" y2="1212.1" stroke="#000" stroke-width="2.2"/><text class="t" x="635.2" y="1243.6" font-size="29" text-anchor="middle">0.375</text><line x1="730.0" y1="1204.6" x2="730.0" y2="1212.1" stroke="#000" stroke-width="2.2"/><text class="t" x="730.0" y="1243.6" font-size="29" text-anchor="middle">0.750</text><line x1="824.8" y1="1204.6" x2="824.8" y2="1212.1" stroke="#000" stroke-width="2.2"/><text class="t" x="824.8" y="1243.6" font-size="29" text-anchor="middle">1.125</text><g transform="translate(1611.9 919.4)"><g clip-path="url(#cl)"><path fill="#f9f0eb" fill-rule="evenodd" d="M-440.2 -225.8H440.2V225.8H-440.2Z"/><path fill="#edf2f5" fill-rule="evenodd" d="M-449 -235l896 0 0 469-896 0zM-36 -208l-3 1 3 3 14 6 7 1 8-3 9-7-3-6-7 0-14 3z"/><path fill="#dae9f2" fill-rule="evenodd" d="M-449 -235l896 0 0 266-9 7-2 7 4 5 7 5 0 179-14 0-740 0-2-1-2 1-47 0 2-14-2-4-3 4-1 7 2 7-89 0zM-372 -74l-7 0-7 4-2 3 2 6 1 1 6 2 7-2 3-7zM-246 -215l-2 1 2 2 7 1 2-3zM-155 -221l-14 7-7-1-7-1-21-2-7 2-4 2-3 5-7 2-4 7 18 11 7 3 14-5 3-2 3-7 8-7 5 14 9 3 5-3 13-14 1-7-5-5zM-50 -229l-14 6-21 3-7 1-7-1-7-4-7 0-7 3-10 14 3 3 7-3 7 6 1 8 7 7 2 7-10 4-16 3-7 7-3 7-2 2-7-3-6-6-8-5-7-1-14 0-21-4-7 5-5 5-3 7 1 7 4 7 24 13 7 2 7 0 7-1 14-6 7-1 9 0 5-4 1-10 6-2 7-1 14 2 7-3 4-3 3-4 7-5 7-1 3-4 1-7 10-6 7-3 7 1 7-1 7-4 7 0 14 7 7 1 21-1 21 1 1-2 1-14 5-6 7 4 1 2 0 7 6 7 7-3 7-4 3-7-1-7 0-7 8-7-3-10-7-2-3 5-4 4-7 1-21 0-7-1-7-4-7-2-7 2-14 2-7 2-6 3-8 7-7 1-4-1-1-7zM111 -222l-14 5-7 1-6 2 1 7 6 7 20 14 7 3 14 1 21-1 8-3 8-7-5-7-4-4-7-3-7 10-7 3-7-6-2-7 2-7-4-7-10-2zM195 192l-7 2-15 12 5 7 3 1 14 1 14 4 7 0 21-3 7-3 7-4 14-2 15-8 0-7-8-5-7 1-7 7-7 4-7 0-7-3-9-4-5-4-7-2-14 6zM272 -225l-7 5-7 6-7 6-7 2-7 0-4-1-3-4-2-3-5-2-7-1-7 2-2 1-1 7 3 3 14 0 7 4 3 7 4 3 7 3 28 0 14-3 6-3 6-7-5-7-7-5-7-9zM314 199l-1 0 4 7 4 3 7 1 6-4 2-7-8-5-7 0zM391 141l-2 2 2 2 2-2zM-190 178l-7 5-2 2 0 7-2 14 4 2 7 2 28-1 7 0 14 3 7-2 1-4-7-7-15-2-6-5-3-7-5-6-7-1zM-78 178l7 1 1-1-1 0zM-71 136l-1 0-1 7 2 1 1-1 1-7zM-1 163l-3 1 3 4 4 3 3 1 1-1 11-7-5-2-7 0zM41 -177l-6 5 6 3 1-3zM125 160l-19 18-3 14-6 7-7 1-1-1-18-7-9-12-7-3-2 1-8 7-4 2-7 5-7 3-14-3-14-7-7 14-3 7-4 5-14-3-14-6-7 1-3 3 0 7 3 2 14 0 14 2 7-2 7 0 14 4 7 1 14-1 14 0 14-4 7 0 14 1 7-1 10-2 4-2 14 3 15-1 9-7 0-7-2-7 4-14 0-7-2-7-3-6zM279 -152l0 2 7-1zM286 -158l-1 0 1 7 2-7zM-78 190l-3 2-21 7-6 7 9 3 7 1 15 3 6-3 4-4-1-7-3-4-6-3z"/><path fill="#c2ddec" fill-rule="evenodd" d="M-441 -235l30 0 0 7 4 4 8 3 3 7 0 14-4 6-7 3-7-6-2-3-9-7-6-7-1-7-6-7zM-393 -228l0-7 268 0-2 3-7 5-14-6-14 2-14-2-21 3-14-2-7 2-7 5-7 1-14-5-14 6-21-1-14 7-14 1-7 1-7-1-7-6-7-2-7-2-7 2-3 3-3 7 1 7 5 9 6 5 8 3 6 4 6 7 2 4 7 6 7-2 7-15 7-4 21 1 20 10 3 7-5 21 1 7 2 5 7-1 14 3 7 0 7 2 11 5 3 5 2 2-2 2-7 0-7-1-7-3-7 0-9 9 0 7-3 7-2 3-2 4 2 2 7 2 7-1 14 4 7-2 11-12 3-14 7-4 14-2 7 1 7 2 2 3-2 1-10 13-2 7 4 7 8 3 7-4 3-6 11-8 7 0 7-2 3-11 4-4 7-1 14 22 7 6 7 2 4-4 2-7 1-8 7-13 1-7-2-7-13-1-7-3-6-3 6-7 7-4 7 0 7 1 5-4 2-7 0-8 3-6 4-1 14-1 7-1 7 0 7 3 7 7 2 14 5 4 7-4 7-6 7-2 1 1 1 7-2 10 0 6 1 5 6 6 8-6 2-7 4-6 7-3 7-5 7-8 14-13 21-7 7 1 11 6 7 7-4 7-7 2-2 5-1 7 1 7 6 7 3 3 7 4 7 0 7-3 7 1 12 9 2 3 7-9 3-15 4-4 14-5 7-1 14 6 5 4 2 7-2 7-5 8-3 6-2 14-2 4-2 3-9 7-10 19-7 1-7 0-1 1 1 4 7-3 7 2 3 4 4 3 7-1 7-6 7 2 7 4 14-3 14 3 7 0 7-2 7-7-1-7-6-4-7-9-10-8-4-4-9-17-1-7 1-7-1-7 1-7 2-2 3-5 2-7 1-7-1-7 2-6 14 1 14-3 9 1 1 7-3 2-4 5-8 14 6 7 8 7 5 7 3 14 4 2 7-2 7-7 7-14 1-7 4-7 23-19 7-1 7 3 7 4 7 3 14 7 21-1 7 1 7 0 14-5 14-2 0-4 3-7 4-4 7-3 0 23-7-2-7 3-1 4 7 7 8 3 0 47-21 11-2 2 2 21 7 3 14-1 0 75-7 8-14 11-5 2-2 3-12 4 0 7-2 2-5 12-1 7 7 7 6 3 7 1 7-2 4-2 4-7 6-5 7 1 0 42-4 4-3 1-7 6-7 1-2-1-5-14-7-2-14 6-7 0-5-4-4-7 2-7-1-7-6-3-7-1-10 4 2 7 7 7 1 7-7 3-7-4-7-8-7-3-21 2-7 3 4 7 3 3 14 7 7 5 7 10 7 8 7 2 7 5 5 9 2 7 0 2-7 3-14-7-7 1-12 8-2 3-7-4-7-6-7-4-21-6-6-4-1-7 7-6 3-8-4-7-6-9-7 0-3 2-5 7 14 21-6 4-21 3-6-7 2-7 5-7-1-2-7 0-7 6-7 0-21-10-7 0-9 6-4 7-1 9-2-2-1-7-4-1-9-6-26-9-7 0-7 2-11 7-3 5-4 2-3 8-6 6-8 5-15-5-5-7-3-7-5-4-14-4-14-10-14-12-7 1-7 9-7 6-7-2-14-9-7 2-2 2-1 7 0 7-1 7-3 5-7 0-14-6-7-4-1-2-6-4-7-1-14 2-7 0-14-4-14 4-7-1-7-5-7-3-7 2-7 3-6 7-1 6-7 1-21-11-5 4 3 14 0 14-5 7-7 2-7-2-7-14-21-16-7 1-6 1-9 7 1 8 7 1 4 5-4 8-7-6-16-2-5-7-3-7-4-7-7-4-4 4-2 7-1 7-2 7-5 4-7 0-2-4 3-7 2-7-5-7-5-5-7-3-3 1-4 7-7 4-7 1-7 2-7-1-7-4-7-2-7-1-7 2-4 6 9 14 2 7-2 7 0 7 5 14 0 7-3 3-10 4-4 3-3 4 3 5 14 0 5 9 1 7-76 0 0-10 7 1 8-5 6-7 2-7 1-7-3-4-4-3-2-7 6-3 6 3 1 4 1-4 13-14 1-7-1-7 3-14-2-21-8-4-7-3-7 0-4 7 0 7 1 7 4 7-1 3-5 4-16 2 0-49 14-9 7-2 5-5-5-5-7-2-7 4-7 3 0-19 1-2-1-2 0-136 5-2 9-6 7-1 7 9 7 4 7-6 7 1 2 13 2 7 3 3 7 4 21 2 5-9 1-7 0-14-2-7-4-5-7-1-14 4-7-1-3-4 4-7 6-3 14-2 7-5 13-11 3-7-12-7-5-7 4-7 4-2 5-5 3-7-1-2-7-3-14 1-4 4 2 7 0 7-5 7-1 14-6 9-7 5-7 2-21-5-21 0-4-4-2-7 2-7 6-7 1-7-3-10-7-9 0-5 6-4 22-5 3 5 2 7 9 12 7 7 7 2 7-12 3-2 4-7-1-14-5-14 6-7 3-7-3-7-7-6-3-1zM-337 -130l-4 7 0 7 7 7 4 2 8 5 2 7-1 7 1 7 4 3 7-3 3-7 1-14 3-7 7-5 7-2 7 0 14 6 7-8 3-5 2-7-5-5-7 9-7 2-14-9-7-1-7 1-5 3-2 3-7 2-5-5-2-3-7-4zM-50 -138l-2 1 2 2 2-2zM55 -146l-4 2-2 7 3 7-3 14 0 7 6 7 7-8 2-6 0-14 7-7-1-7-8-2zM251 65l-1 1-2 7 3 8 7 7 21 1 7 2 14 5 7 2 5-4-5-2-9-5-5-1-28-22-7-1zM258 -52l-4 6-2 7 6 3 7-3 2-7-2-3zM279 -82l-16 8 5 7 18 6 7 3 2-9-1-7-8-7zM370 -139l-7 2 1 7 13 9 7 1 3-3 4-2 4-5 0-7-4-2zM272 -5l-5 1-2 7 7 2 6-2-2-7zM391 -110l-5 1-2 2-2 5 9 4 7-2 4-2-1-7zM384 -83l-7 4-21 8-7 4-2 7 2 2 7 1 7-1 21 0 8-2 11-7 2-7-3-7-4-4-7-1zM-93 -235l10 0-2 1-7 1zM-32 -235l27 0-17 4-7-1zM31 -235l25 0-1 1-7 2-14-1zM88 -235l13 0-4 3-7 0zM122 -235l40 0-2 4-4 3-3 1-14 0-7-2zM180 -235l27 0-3 7-9 4-7-1-5-3zM212 -235l51 0-3 7-2 3-7 7-7 2-22-12-6-5zM292 -228l1-5 2-2 152 0 0 5-7 2-6 7-1 14-5 7-2 5-7 2-9-14-5-2-9 2-3 7 5 2 9 5 2 7-4 7-7 8-7 3-7-3-7-4-13-11 4-7 10-7 3-7-11-24-7-1-14 18-7 0-14-11-14 10-7 2-12-8zM-150 -186l2-1 7-1 4 2 4 7-8 7-7 2-4-2-6-7zM-243 -179l11-5 7 0 5 5-5 7-7-1zM166 -179l8-2 7 0 4 2 1 7-5 3-7 2-7 5-7 0-2-3 0-7zM209 -179l7-4 7 3 6 1-13 2zM-157 -123l6 0-4 1zM443 143l4-4 0 39-7-1-7-3-7-8-3-2-3-7 13-6zM-58 150l8-6 7 6 11 14-1 7-3 2-7 1-7-4-10-13zM168 157l13-2 5 2-1 7-4 2-7-2zM404 164l7 7-1 7-5 13-5 8-5 7-1 14-3 7-7-2-7-4-2-1 0-7 6-7 3-7-2-14 0-7 7-7 9-5zM-148 171l7-5 7 3 4 2 3 5 13 9-2 7-4 1-4-1-3-3-7-3-7 0-6-1-1-4zM153 178l7 0 3 7-1 7-2 2-7-1-1-1-2-7zM-228 185l3-1 7 4 3 4 0 7-3 5-4 2-2 7 6 6 7 6 11-5 31-3 21 2 7 1 7 4 7 0 14-6 14-2 7 1 14 3 14 0 6 7 0 7-118 0-117 0-9-11-6-3-1-3-2 3-12 5-7-2-5-3 2-7 3-3 14-5 7 6 7 1 7-3 7-2 7 5 14 12 7-1 2-3 5-2 16-5 7-7-2-1-3-13 3-5zM-348 192l4-4 7-1 4 5-4 7-7 1zM-294 192l6-4 4 4-4 6zM444 192l3-2 0 9 0 1-2-1zM-449 199l0-2 4 2-1 7-3 5zM277 213l9 1 14-2 7 1 3 7-5 7-3 7-2 0-46 0 4-5 3-9 11-6zM99 220l5-1 21 1 21-4 7 0 35 10 2 1-3 7-6 0-46 0-3-2-7 0-7 2-23 0-4-7zM417 220l2-2 7-3 7 1 14 4 0 7 0 7-33 0zM-4 227l4 0 13 6 7 0 7-3 14-1 14-5 7 1 4 2-4 2-8 5-65 0 3-5zM221 227l4 0 5 3 5 4-5 0-16 0 2-3z"/><path fill="#a2cde3" fill-rule="evenodd" d="M-328 -235l30 0-4 3-7 3-7 0zM-271 -235l11 0-7 2zM230 -235l23 0-2 5-7 4-7-2zM383 -228l4-7 40 0-1 1-14 5-10 8-11 4-7-4zM-52 -172l9-1 7 0 2 1 5 7-7 7-7 1-3-1-4-2-3-5zM-426 -151l5-3 4 3 1 7-5 3-3-3zM183 -144l5 0 1 0 6 7 0 3-7 11-3 7-4 6-7-2-2-4 2-4 3-3 2-7-2-7 4-6zM-18 -137l10-4 7-1 7 8 7 17 2 1 2 7-3 14 1 7 2 7 10 21 7 7 7 2 5-2 23-12 7 1 7 11 7 6 7 2 14-2 7-2 7-5 7-4 10 12 4 2 7 1 7-1 7-3 7 0 21 8 14 1 7-1 7-2 7 0 7 4 3 5 11 5 7 0 14-7 21-7 8-5 1-7 0-21-4-7-7-7-3-7 1-7 18-28 10-7 4-4 7-1 14 10 8 9 0 7-8 3-7 2-3 2-4 5-1 2 0 7 1 1 7 5 7 0 7-2 21 3-14 2-7 6-6 6-3 7-1 7 2 7 8 3 7 0 14-2 14 0 21-5 7 2 14 8 21 10 0 41-9 13-6 7-13 7-14 3-14 4-21 3-6 4-1 7 5 14-3 7-9 4-21 5-21 1-8-3-13-7-9-7-5-7 0-7-1-7-6-14-21-1-5 1 8 14 0 7-17 14-2 7 1 7-1 14 1 7 2 7-1 4-7 3-14-4-7 0-14 5-21 0-7-1-7-7 14-15 4-6 3-7-3-7-4-6-7-3-8-12-6-5-7 1-6 4-5 7 4 7 6 7-2 21-4 14-6 7-8 5-7-2-2-3-2-7-3-1-7 2-14 11-7 2-7 0-7-2-7-3-11-9-5-7-3-7-7-7-9-7-7 0-7 9-7 7-14-1-7-3-7-4-7-1-2 14-5 14-7 0-14-3-7-1-14 3-7-5-7-7-7-2-7 3-7 5-7 0-7-2-7 1-14 6-14 4-4-2-10-17-7 0-14 12-7 2-7 1-7-3-7-4-7 0-14 6-7 0-21-3-14 2-12 4-2 3-2-10-5-4-7-3-7 1-14 8-7 3-14 0-7 3-7 1-7-8-3-8-11-4-14-8-8-9-6-8-7-6-6-7-3-7 5-21-3-6-7-3-7-5 0-30 10-19 11-15 7-3 7 0 7 2 28 12 14 9 7-2 7-13 1-4 6-6 14 0 7 3 7-4 7-6 7-10 7-5 7-1 7 2 3-1 4-2 7-7 7-3 11 5 24 0 14 2 7 3 7 8 7 6 7-2 7-3 7-1 14-1 7 0 7 3 7 1 15-2 13-7-3-7 0-7 3-1 8 8 1 7 5 2 9 5 12 1 4-1-1-7-3-7 3-7 9-14 9-8 7-3 14-2 0-1-1-7 0-7zM97 56l-14 12-7 1-7-3-15 7-4 7 5 7 7 0 7-3 7-6 14 4 7 0 4-2 8-7 5-7-10-11zM195 57l-3 2 3 2 7 0 3-2-3-5zM265 -7l-4 3-1 7 5 6 4 1 5 0 5-2 6-5-2-7-4-2-7-2zM-29 -99l-7 5-4 6 0 7 4 3 14 3 7 0 7-1 9-5 2-7-3-7-8-4zM250 -130l1 0 2 7-2 3-7 0-1-3zM424 -109l2-3 7-2 4 5-4 7-4 0-3-1zM-289 -95l1-3 0 3 0 1zM257 -95l2 0-1 6zM-345 -74l1-1 0 1 1 7-1 4-2-4zM-449 122l0-5 5 5-1 7-4 7zM-115 227l9-4 7-1 7 2 3 3-2 7-1 0-29 0zM-435 234l7-5 7 1 3 4zM-391 234l5-1 2 1z"/><path fill="#7eb8d7" fill-rule="evenodd" d="M-9 -123l1-4 7 3 0 1 0 1-7 1zM312 -81l2-3 14 6 3 4 1 7-1 7 1 7 10 7 14 1 14-2 14 1 14-3 7-1 7 3 12 8 23 11 0 23-9 8-4 7-5 7-10 8-28 6-21 1-7 3-8 10-6 19-7-4-7 0-7 1-14 4-7 0-7-4-10-9-5-7-4-7-2-7-21-3-7-4-6-7 6-5 7-1 14 1 7-1 2-1 7-7-1-7-1-1-7-4-7-3-7 2-7 3-4 3-3 7-14 6-7 2-12 6-2 2-7 3-5-5-9-1-7 3-7 8-7 3-14 5-21 4-7-2-14-10-7 0-12 4-9 7-7 11-7 1-7-2-7 1-5 3-2 4-7 1-7-4-14-1-14-4-7 0-7 2-5 2-9 14-7 2-7-1-7-1-7 4-3 3-3 7 1 7 3 7-2 7-3 2-21-1-7-2-14-10-8-3-13-13-7 1-26 26-9 3-7-3-7-14-5-7-2-1-7-1-7 4-6 5-1 4-7 4-28 4-14 4-7 0-14-2-14-1-7-3-7-8-21-6-7 1-14 7-14-6-14-3-14-8-7 2-7 8-7 0-6-4-4-7-4-10-6-11 0-7 9-14 0-7-9-7-15-7-7-6-4-8 0-7 5-7 13-15 7-6 7-3 7 1 7 2 16 7 8 7 11 11 10 3 5 7 6 5 2-5 0-7-3-7-1-7 1-7-3-7 2-7 2-2 7-3 7 4 2 1 5 12 16-12 5-5 7-11 7-2 14 3 8-13 6-4 7-1 28 0 7 1 10 4 6 7-2 5-2 2 2 3 7 4 7 0 14-4 21-3 21 2 21-2 49 3 9-3 5-6 7-3 42 7 7-3 7 1 9 11 12 8 7 2 14-1 7-2 7-3 7 2 14 10 7 2 14-3 14-1 7 5 7 2 7-1 14 0 14-4 21 4 14 0 14 2 14 4 14 7 7 0 14-8 30-11 8-7-2-14 1-14zM-358 8l-8 9-1 7 2 4 7-3 6-8 1-7 0-1zM-253 -55l-4 2 11 10 7 1 14-8 7-3-7-1-14-2zM208 31l1-3 1 3 0 7-1 1-9-1zM208 73l2 0-1 1zM123 80l2 0 7 1 3 6-2 7-1 1-7 0-12-1-2-3-1-4zM189 87l6-3 7 1 9 9-2 2-3 5-4 3-7 1-7-1-6-3 1-7zM85 94l7 0 2 7-6 7-5 3-7 0-5-3 2-7 10-6z"/><path fill="#569fc9" fill-rule="evenodd" d="M-261 -74l8-3 21 0 14 2 4 1 6 7-3 4-7 3-7 1-28-2-7-1-6-5zM-291 -53l3-2 7 0 8 2 6 3 7 4 7 9 7 4 7 1 7-3 14-9 7-2 21 0 21-5 14-1 21 0 21-3 42 3 21-1 7 1 7 4 7-3 2-2 5-2 7-1 14 5 14 2 7 2 21 11 21 4 14-4 7 3 7 6 7 1 14-3 8 4 6 10 7 0 7-2 7 1 7 5 7 0 7-7 4-7 3-3 7-1 14 1 21 1 7 1 19 8 3 7-8 8-11 6-10 4-7 1-14-1-7 1-6 2-8 8-7 1-7-1-7 3-2 3-5 4-7 1-7-4-7-9-7 0-7 2-28 5-14 4-7 4-7 7-7 4-7 1-7 1-21-4-21 3-14 0-30 9-5 8-7 3-28 4-21-4-7 0-14 6-7 0-14 9-7-5-14-5-7-2-14 6-7 1-14-1-21 0-7 1-1 0 1 7 7 2 12 5-9 7-10 1-23-8-3-7-4-7-19-7-21-5-7 2-7 3-21 4-14-2-3-2-1-7 4-2 7 1 5 1 2 2 7-2 7-2 13-12 3-7-2-7-4-7 0-7 4-5 7-2 7-6 0-8-3-14 2-7 14-14 1-7zM-342 -46l5-2 4 2 3 8-7 4-7-5zM315 -39l6-2 7-1 28 2 14-1 21 0 14-1 7 3 28 13 7 7-2 8-12 9-10 5-7 14-4 2-21 5-14 0-7 1-7 3-7 7-2 3-5 9-7 6-7 3-21 2-7-1-7-3-7-6-7-10-3-7-4-2-21-4-2-1-5-7 7-4 21-1 6-2 6-7-1-7-11-9-12-5 8-7zM-422 -32l8-3 7-1 7 1 7 3 9 7 6 7 4 7 2 7 0 7-7 10-21 3-7-1-7-2-21-10-6-7-1-7 7-8z"/><path fill="#3a87bd" fill-rule="evenodd" d="M-255 -74l9-1 14 0 11 1 8 7-5 3-7 2-28-1-7-2-2-2zM-338 -46l2 0 2 7-3 2-3-2zM-151 -46l17 1 21-5 14 3 14 2 28-2 7 1 14 11 7-3 7-6 7-3 7 2 7 2 14 1 7 2 21 11 21 9 3 2 18 21 1 7-8 6-7 2-7 0-7-2-7 0-7 11-7 3-14-1-28 5-14-3-14 6-7 2-14 0-14 7-7 0-7 0-14 7-4-1-2-7-4-7-4-1-7 0-3 1-3 7 0 7-8 4-11-4-10-9-7-3-14 4-16 1-5 3-4 4-2 7-1 1-21 3-7 0-8-4-3-7 3-7 1-7-2-7-4-7-8-3-14-1-14-5-7-1-7-3-3-8-1-14 2-7 2-1 7 0 7 5 7 7 7 2 7-8 7-11 7-1 14 0 7-3 7-6 7-5 7-1 14 1 21-4zM306 -32l8-3 7-1 14-1 14 1 28-1 28 2 7 2 20 8 8 7-1 7-6 5-14 7-9 2-5 8-7 3-7 2-14-1-14 5-7 6-6 12-5 7-3 3-7 4-7 2-14 1-7-2-7-4-5-4-5-7-4-8-7-3-18-3-6-7 3-1 7-1 14-1 7-2 3-2 5-7-2-7-13-13-3-1 11-7zM-421 -25l7-4 7-1 7 0 9 5 6 7 3 7 0 7-4 6-7 4-7 2-7 1-14-5-14-8-3-7 3-3zM176 -18l5-4 7 0 10 4 4 6 7-4 8-2 6 2 5 5-4 7-8 4-7 1-7-2-21 1-7-2-2-2 1-7zM-303 31l1-1 1 1 5 7-4 7-2 1-2-1-2-7z"/><path fill="#2a71b2" fill-rule="evenodd" d="M-257 -67l4-3 7-1 7 2 7-2 7 1 3 3-3 1-14 0-14 1zM-123 -39l10-4 7 2 14 6 4 3 10 10 7 0 2-3 0-7 4-7 8-1 3 1 5 7 1 7-8 7 0 7 8 7 5 2 7 2 6-4-5-14 3-7 3-1 7-8 7-5 7 2 7 5 3 7-8 14-2 7 1 14-8 5-2 2-5 3-5 4-9 5-7 3-14 1-21 5-7 0-14-3-14-5-7 0-7 1-7 3-7 1-14-6-7-2-20 4-8 3-7-3-9-7-12-8-7-3-14-1-7-2-6-7-2-7 2-7 6-6 7-1 14 4 7-1 7-12 7-5 8 0 6 3 7 2 10-5 11-1 14-5 7 0 7 2 7 0zM-85 -6l-3 2-3 7 6 1 4-1 3-3 1-4-1-2zM-134 -7l-5 3-1 7 6 5 7-1 7-3 1-1-2-7-6-4zM318 -32l17-2 14 2 28-1 14 1 28 6 7 3 7 5 2 7-9 5-14 5-30 4-26 11-3 3-4 14-3 7-4 6-7 5-7 2-14 0-7-1-7-5-6-7-3-7-5-4-18-3-8-7 26-3 7-4 6-7-2-7-8-7-4-7 13-7zM-423 -18l9-4 7-2 7 1 8 5 2 7-3 8-7 3-7 1-7-1-10-4-4-2-5-5zM27 -18l7-2 6 2 10 7 5 7-7 2-7 6-7 8-7 5-10 0-4 0-5-7 4-7 5-14z"/><path fill="#1a5899" fill-rule="evenodd" d="M-121 -25l8-6 7 0 7 3 5 3 1 7-5 7-8 4-7-3-6-8zM312 -25l16-3 7 0 7 3 7 1 28-4 14 1 14 4 14 2 8 3 3 7-18 7-7 1-14-1-28 7-7 0-14-7-7-2-7-1-14 1-7-1-11-4 2-7 9-3zM-422 -11l8-4 7 0 4 4-4 3-7 1zM-208 -4l4-3 7-3 7-1 7 3 6 4 5 7 7 14-7 7-4 2-14 0-7-2-7-5-8-9 0-7zM-65 3l1-1 7 0 18 8 6 7-3 4-3 3-4 2-21 2-7 3-7 2-7 0-7-1-14-6-13-2-7-7 13-7 7 0 7 4 7-1 14 1 6-4zM309 3l5-4 21 12 7 7 2 6 1 7-2 7-8 8-7 2-7 0-7 0-7-2-8-8-6-12-7-5-7-1-8-3 22-2z"/><path fill="#0c3d73" fill-rule="evenodd" d="M337 -18l12 0 14-3 28 5 21-2 7 2 4 5-18 3-21-2-7 2-8 4-6 1-7 0-18-8zM-198 3l1 0 3 7-3 3-7-1-2-2 2-6zM314 10l14 7 7 4 2 3 2 7-1 7-3 3-7 4-7 0-7-1-9-6-3-7 0-7 3-7zM-96 24l4-3 7-1 7 2 4 2-4 3-7 1-7-1z"/><path fill="#053061" fill-rule="evenodd" d="M355 -11l8-3 6 3-6 2zM319 31l2-1 7-1 3 2-2 7-1 1-7 0-3-1z"/><use href="#coast" fill="none" stroke="#000" stroke-width="2.7" stroke-linejoin="round"/></g><path d="M231.6 220.8 241.7 218 253.5 214 266.6 209 280.5 203.1 294.1 196.8 306.3 190.1 317.7 183.1 328.6 175.9 339.1 168.5 349.2 160.9 359 153.2 368.2 145.3 376.8 137.3 384.6 129.1 391.8 121 398.6 112.7 404.7 104.4 410.1 96.1 414.9 87.7 419.1 79.4 422.5 71 425.3 62.6 427.6 54.3 429.7 45.9 431.6 37.6 432.9 29.2 434 20.9 434.7 12.5 435.1 4.2 435.1 -4.2 434.7 -12.5 434 -20.9 432.9 -29.2 431.6 -37.6 429.7 -45.9 427.6 -54.3 425.3 -62.6 422.5 -71 419.1 -79.4 414.9 -87.7 410.1 -96.1 404.7 -104.4 398.6 -112.7 391.8 -121 384.6 -129.1 376.8 -137.3 368.2 -145.3 359 -153.2 349.2 -160.9 339.1 -168.5 328.6 -175.9 317.7 -183.1 306.3 -190.1 294.1 -196.8 280.5 -203.1 266.6 -209 253.5 -214 241.7 -218 231.6 -220.8 -231.6 -220.8 -241.7 -218 -253.5 -214 -266.6 -209 -280.5 -203.1 -294.1 -196.8 -306.3 -190.1 -317.7 -183.1 -328.6 -175.9 -339.1 -168.5 -349.2 -160.9 -359 -153.2 -368.2 -145.3 -376.8 -137.3 -384.6 -129.1 -391.8 -121 -398.6 -112.7 -404.7 -104.4 -410.1 -96.1 -414.9 -87.7 -419.1 -79.4 -422.5 -71 -425.3 -62.6 -427.6 -54.3 -429.7 -45.9 -431.6 -37.6 -432.9 -29.2 -434 -20.9 -434.7 -12.5 -435.1 -4.2 -435.1 4.2 -434.7 12.5 -434 20.9 -432.9 29.2 -431.6 37.6 -429.7 45.9 -427.6 54.3 -425.3 62.6 -422.5 71 -419.1 79.4 -414.9 87.7 -410.1 96.1 -404.7 104.4 -398.6 112.7 -391.8 121 -384.6 129.1 -376.8 137.3 -368.2 145.3 -359 153.2 -349.2 160.9 -339.1 168.5 -328.6 175.9 -317.7 183.1 -306.3 190.1 -294.1 196.8 -280.5 203.1 -266.6 209 -253.5 214 -241.7 218 -231.6 220.8Z" fill="none" stroke="#000" stroke-width="2.2"/></g><text class="t" x="1611.9" y="685.2" font-size="35.4" text-anchor="middle">Qs [g/kg] RMSE difference</text><text class="lab" x="1140.8" y="726.3" font-size="75">(c)</text><path d="M1264.3 1188.8L1296.4 1172.9L1296.4 1204.6Z" fill="#053061"/><path d="M1959.5 1188.8L1927.4 1172.9L1927.4 1204.6Z" fill="#67001f"/><rect x="1295.9" y="1172.9" width="32.0" height="31.7" fill="#0c3d73"/><rect x="1327.5" y="1172.9" width="32.0" height="31.7" fill="#1a5899"/><rect x="1359.1" y="1172.9" width="32.0" height="31.7" fill="#2a71b2"/><rect x="1390.7" y="1172.9" width="32.0" height="31.7" fill="#3a87bd"/><rect x="1422.3" y="1172.9" width="32.0" height="31.7" fill="#569fc9"/><rect x="1453.9" y="1172.9" width="32.0" height="31.7" fill="#7eb8d7"/><rect x="1485.5" y="1172.9" width="32.0" height="31.7" fill="#a2cde3"/><rect x="1517.1" y="1172.9" width="32.0" height="31.7" fill="#c2ddec"/><rect x="1548.7" y="1172.9" width="32.0" height="31.7" fill="#dae9f2"/><rect x="1580.3" y="1172.9" width="32.0" height="31.7" fill="#edf2f5"/><rect x="1611.9" y="1172.9" width="32.0" height="31.7" fill="#f9f0eb"/><rect x="1643.5" y="1172.9" width="32.0" height="31.7" fill="#fce2d2"/><rect x="1675.1" y="1172.9" width="32.0" height="31.7" fill="#fbccb4"/><rect x="1706.7" y="1172.9" width="32.0" height="31.7" fill="#f6b394"/><rect x="1738.3" y="1172.9" width="32.0" height="31.7" fill="#ec9374"/><rect x="1769.9" y="1172.9" width="32.0" height="31.7" fill="#dd7059"/><rect x="1801.5" y="1172.9" width="32.0" height="31.7" fill="#cc4c44"/><rect x="1833.1" y="1172.9" width="32.0" height="31.7" fill="#ba2832"/><rect x="1864.7" y="1172.9" width="32.0" height="31.7" fill="#9f1228"/><rect x="1896.3" y="1172.9" width="32.0" height="31.7" fill="#790622"/><path d="M1264.3 1188.8L1295.9 1172.9L1927.9 1172.9L1959.5 1188.8L1927.9 1204.6L1295.9 1204.6Z" fill="none" stroke="#000" stroke-width="2"/><line x1="1327.5" y1="1204.6" x2="1327.5" y2="1212.1" stroke="#000" stroke-width="2.2"/><text class="t" x="1327.5" y="1243.6" font-size="29" text-anchor="middle">−0.45</text><line x1="1422.3" y1="1204.6" x2="1422.3" y2="1212.1" stroke="#000" stroke-width="2.2"/><text class="t" x="1422.3" y="1243.6" font-size="29" text-anchor="middle">−0.30</text><line x1="1517.1" y1="1204.6" x2="1517.1" y2="1212.1" stroke="#000" stroke-width="2.2"/><text class="t" x="1517.1" y="1243.6" font-size="29" text-anchor="middle">−0.15</text><line x1="1611.9" y1="1204.6" x2="1611.9" y2="1212.1" stroke="#000" stroke-width="2.2"/><text class="t" x="1611.9" y="1243.6" font-size="29" text-anchor="middle">0.00</text><line x1="1706.7" y1="1204.6" x2="1706.7" y2="1212.1" stroke="#000" stroke-width="2.2"/><text class="t" x="1706.7" y="1243.6" font-size="29" text-anchor="middle">0.15</text><line x1="1801.5" y1="1204.6" x2="1801.5" y2="1212.1" stroke="#000" stroke-width="2.2"/><text class="t" x="1801.5" y="1243.6" font-size="29" text-anchor="middle">0.30</text><line x1="1896.3" y1="1204.6" x2="1896.3" y2="1212.1" stroke="#000" stroke-width="2.2"/><text class="t" x="1896.3" y="1243.6" font-size="29" text-anchor="middle">0.45</text><g transform="translate(540.4 1564.6)"><g clip-path="url(#cl)"><path fill="#f9f0eb" fill-rule="evenodd" d="M-440.2 -225.8H440.2V225.8H-440.2Z"/><path fill="#edf2f5" fill-rule="evenodd" d="M-449 -235l896 0 0 469-896 0z"/><path fill="#dae9f2" fill-rule="evenodd" d="M-449 -235l99 0 5 14-5 14 2 7 4 6 7-1 7-4 5-8-11-14 6-14 237 0-1 7-5 5-7 6-7 1-12-5-9-1-11 1-3 3-7 2-7-3-7-1-14 3-7-1-14-6-7 0-14 5-7 0-14-4-14 0-7 4-7 5-21-1-9 1-5 3-5 4 3 7 9 16 7 2 7-3 8-8 5-7 1-3 7-3 7 3 28 18 7 2 28-14 14-3 7-3 7 0 7 0 7 6 1 4 6 8 7 3 7-1 14-6 7-2 7 2 7 3 7 6 7 1 7-4 7-1 14 3 7 0 14-6 7-1 7 0 21 6 7 0 28-4 21 1 35-7 7 1 7 3 4 2 0 7-11 3-7 6-4 5-8 14-2 7-1 14 1 7 3 7 4 5 7 3 7 0 3 6-15 14 0 7 6 7 9 7 2 7-8 7 0 7 9 7 15 5 7 11 5 5-1 7-11 4-4 3-4 7 0 7 8 7 7 0 7-3 5-4 3-7-1-7 0-3-4-4 4-2 3-5 11-7 7-3 7-4-3-7-11-17-7-2-21 6-10-8-2-7 6-14 6-9 7-5 7 0 7-2 3-5 11-7 11 14 10 5 14 4 7 5 7 10 14 7 14 12 7 2 7 0 3-3 2-7-1-7-5-7-13-8-14-2-4-4-1-7 1-7-2-14 6-1 7 0 7-6 4-7 2-14-5-7-15-12-7-1-14 2-4-3 0-7 6-14 19-13 7-1 7 3 14 1 7 3 7 7 7 0 4-7 10-8 7-3 14 10 7 3 7 1 7 0 7-3 14-1 12-6 2-3 7-1 7-3 0-7-7 2-7 4-14-1-14 7-7-2-14-10-5-7 0-7 2-7 103 0 2 7 3 4 7-1 6-10 15 0 0 128-5 5-3 7 2 7 6 4 0 318-62 0 3-7 6-7 1-7-4-2-7 2-7 7-11 7-6 7-80 0-15-1-7 0-1 1-311 0-3-4-4-3-3-1-7 0-3 1-4 7-39 0-3-2-4 2-193 0-6-4-7 4-119 0 0-30 11 2 10 1 3-1 3-7-5-7-8-7-7-3-7 0 0-303 4-2 4-7 0-7-1-2-4-5-3-2 0-59 1-2-1-2zM-400 -149l-7 5 1 7 6 6 5-6 6-7-4-5zM-309 -167l-7 3-5 6-2 14-4 7-10 10-14 6-3 5 1 14 2 7 7 2 7 1 7 5 3-1 1-7-3-7 0-7 4-7 9-7 7-4 7 2 7 4 7 3 7 1 1 1 0 7 3 7 10 11 7 5 7 1 7-1 7-8 11-22 6-7 4-4 14-5 7-5 2-7-3-7-6-5-7 5-7 9-7 4-14 0-2 1-6 14-6 2-14 0-7-2 0-7-2-7-5-7-17-14-4-6zM-162 -88l-19 7-13 7-1 7 5 7 14 4 7 1 7 0 16-5 2-7-4-3-2-11-5-5zM-134 -68l-6 1 3 7 6 0 4-4 0-3zM-92 -178l-7 9-2 4 0 7 2 6 7 4 7-2 1-1 2-7 1-7-4-13zM-29 38l-1 0 1 5 2-5zM-1 175l-7 4-6 13-2 7 8 7 16-14 6-7-4-7-4-2zM237 7l-7 3-6 7 1 14 2 7 24 16 7 1 9-3 7-7 4-7 3-7-2-3-4-4-10-5-14-10-7-3zM328 40l-3 5 3 7 7 2 2-2 1-7-3-5zM405 -195l-4 2-2 7 3 7 3 5 7 0 6-5 2-7-1-4-3-3-4-2zM-400 -71l-7 5-6 13-2 7 1 7 8 7 6 2 14 1 7-1 5-2 5-7 0-7-3-10-3-4-1-7-3-2-7-5zM-302 177l-2 1 1 7 1 1 7-1 1 0-4-7zM-281 188l-2 4 2 1 7 1 7-1 4-1-4-2zM-183 183l-5 2-2 2-1 5 1 8 7 1 3-2 5-7-2-7zM-85 -102l-7 4-3 3-5 7-1 7 0 7 5 7 11 4 7 0 7-3 1-1 1-7-1-14-1-8-7-6zM405 -133l-6 3 6 2 2-2zM-379 23l-7 3-6 5-2 7 3 21 5 6 7-2 7-5 7-4 14-6 5-3-1-7-5-7-10-7-10-2zM-85 185l-2 7 2 2 7 0 1-2-1-2zM-83 -235l164 0-6 7-6 4-7 2-7 0-25-6-10-3-7 0-5 3-16 8-28-2-14-2-14 1-7 0-10-5zM86 -235l219 0-2 7-10 7-7 0-14-5-14 5-7 0-14-2-14 3-14 0-7 1-11 5-3 3-7-3-21-12-7 3-7 10-7 0-7-6-7-2-14 3-7-3-12-7-2-4zM142 -179l4-1 7-1 3 2 1 7-4 6-7 1-9-7z"/><path fill="#c2ddec" fill-rule="evenodd" d="M-419 -235l24 0-1 7-4 4-7-1-7-3zM-40 -235l16 0-5 3-7-1zM179 -235l4 0-2 2zM328 -228l7-2 1 2-1 4-7-2zM443 -235l4 0 0 14 0 4-4-4zM-269 -186l2-1 7 1 5 7 0 7-5 6-7 4-7 2-7-2-3-3 0-7 5-7zM24 -172l3-1 2 1 3 7-5 3-4-3zM-184 -165l1-3 7-1 3 4 0 7-3 5-7-4zM-129 -137l2-1 2 1-2 6zM360 -123l3-3 3 3 4 7 1 7 9 14 2 7-2 7-17 10-7 2-14 1-4 1-2 7 2 14 4 3 7 2 14-3 21 6 7 0 6-1 8-5 7 0 7 2 7-1 7-2 7-1 7 1 0 48-7 2-14 0-7 3-7 6-7 2-28 1-14 3-7 0-14-1-14 2-14 0-7 2-7-1-28-11-14-10-9-5-5-7 7-2 14 0 7-2 14-15 7-5 11-4 11-7-1-7-3-7-1-7-9-7-15-14-2-7 6-7 10-4 28-6 21 1 7-2 4-3zM-46 -109l3-3 7 0 6 3 8 2 28 2 14 2 14 0 7 2 12 13 3 7 0 7 3 7 17 12 4 9 6 7 11 10 7 4 3 7-3 4-14 10-7 7-7 0-7 2-6 5-5 14-3 7-7 7-3 7 1 7 4 7 5 5 13 9 4 14 4 5 7-3 16-16 3-14 11-7 5-4 2-3 2-7 3-3 7-3 7 4 7 5 8 4 6 7-2 7 1 7 1 1 7-1 7-3 7 1 14 7 14-17 7-2 7 1 7 3 4 3 3 7 1 7 6 6 7 0 7-1 6-5 22-20 7-4 4 3 1 7-1 7 3 6 7 4 14-4 7-1 7 1 14 5 14 3 7 4 15 10 1 14 5 5 4 2 7 7-4 3-7 13-7 6-7-1-6-7-1-8-7-2-7 3-7 7-7 15-14 10-7 1-7-1-6-4-4-7-4-11-2-3 0-7 8-7 12-7 3-7-2-7-5-5-7-4-7 6-14 17-4 7-1 7-2 4-5 3-9 2-6 5-1 7 0 7-7 4-7 0-14-9-7-2-7 2-7 1-7-2-2-1-8-14-4-3-7-1-7 3-2 1-2 7 0 7-3 6-13 15 6 7 3 7 10 14 5 14 3 3 6 11 2 7-31 0-2-21-7-14 0-7 3-21-6-6-7 0-1 6-4 7-9 5-7 2-7 0-21-5-4-2-5-7-2-7 2-7-5-5-7 3-7 16-4 7-3 4-7 1-7-2-35-17-7-2-7 1-3 1-4 3-7 10-7 2-21-9-17-6-7-7-4-6-7-5-7-2-7 0-14 5-7 0-7-4-7-2-7 3-7 6-7 2-14-2-14 1-14-8-7 0-7 3-7 4-7 2-7-1-7-2-7 0-7 4-7 1-7-2-7-4 0-7 3-7 2-7-3-7-2-1-7 4-3 4 0 7 2 7-4 7-9 2-7-1-6-8-8-27-7 4-7 1-3-6 3-13 7-14 4 6-1 7 0 7 4 7 7 1 8-8-2-7-4-7 0-7 2-7-4-6-4-1-3-7 14-24 3-4 1-7-4-4-7-4-7 2-14 6-7-1-7-3-7-5-7-4-7-3-14-1-7 1-14 9-7 2-21-1-7-2-6-6-3-7-1-14 1-7 9-8 7-4 7-2 7 0 14 3 14 2 7 2 7 7 7 3 7-1 9-9 5-2 14-5 7-1 14 3 7 3 7 7 7 1 7-6 5-7 2-6 7-7 7 1 7 4 7 7 14 2 14 5 7 1 8 7 6 3 7 1 2-4-7-7-1-7 6-14 7-6 7-1 14 2 14-1 14 1 7-1 14-5 7-1 42-3 7-1 12-5 6-7-15-14-2-7 1-7zM-29 24l-7 3-14 8-7 3-14-3-19 3-9 3-7 0-10-3-18 0-14-2-39 2-9 7-1 3-7 2-3-5-1-7-17-6-7 0-7 1-21 5-14-1-2 1-2 14-4 7-6 11-4 3 4 5 3 2 4 1 21-8 21-5 14-5 7 2 7 5 12 17 2 2 20 12 8 1 7-5 2-3 3-7-1-14 9-7 8-3 7-1 7 0 14 7 7-1 7-6 7 0 7 4 7 7 7-4 7-7 7-5 7 0 7 0 21 8 7-2 7-4 6-7 7-14-6-7-14-6-7-1zM-15 -60l7 4 7 1 14-4 3-1-17-4-7 1zM-57 101l-7 5-2 2-3 7 2 7 3 4 7 6 14 0 7 1 1-4-6-7-1-14-7-7zM-29 134l-6 2 6 2 2-2zM13 30l-4 1 4 7 7 3 2-3 3-7-5-2zM407 -109l5-1 8 1 2 7-4 7-6 2-7-3-2-6 2-5zM-449 -102l0-2 7 2 0 7-7 2zM-186 -102l3-1 8 1-1 7-7 2-6-2zM-373 -95l1-2 7 2 0 7 0 2-7-2zM-300 -95l5-1 3 1 10 7 7 7 1 7-2 7 2 21-7 2-8-2-9-7 1-7 2-7 0-2-3-5-4-2-2-5 2-11zM-229 -88l4-5 7-1 4 6 0 7-4 10-7 3-7 0-6-6zM-436 -81l8 1 3 6-2 7-1 2-7-6-1-3zM210 -46l6-5 7 3 3 2 7 7 4 7-4 7-3 6-7 1-4-7-3-2-4-5-2-7zM184 -18l4-2 3 2-1 7-2 3-7-1-2-2 2-3zM220 -11l3-7 7 3 2 4-2 1-7 6-1 0zM83 45l7 0 1 7 0 7-6 7-2 1-9-1-2-7 2-7zM382 45l2-2 2 2-2 2zM439 52l8-2 0 33-14-7-7 2-1 2-13 12-4 2-3 3-10-3-4-7 0-14 7-3 7-1 21 3 6-6zM-449 80l0-4 11 4 2 7-6 6-7 5zM-426 80l5-1 7 0 35 7 14 1 2 7-1 7-1 2-12 5-9 1-14-2-7-3-14-14-5-3zM407 115l26 0 14-2 0 10-14 10-7 2-14-11-5-2zM-437 129l9-1 2 1-2 4zM-449 136l0-6 7 4 1 2-1 7-3 7-4 5zM-353 136l2-1 7-1 4 2-4 4-4 3-3 2-3-2zM417 150l2-2 7-4 7 8 7 3 7 0 0 22-9-6-5-5-7 1-3 4-11 8-7 0-3-1-3-7 3-7 9-7zM-415 164l1 0 5 7-2 7-3 2-7-2-3-7 3-5zM-154 199l6-5 4 5-4 4zM215 206l1-5 7-1 8 6 0 7-1 1-7-1zM-261 213l8-1 3 1 2 7-5 3-7-1-2-2zM319 213l2-1 3 1zM-404 220l4-3 7 0 6 3 0 7-1 7-12 0-17 0 4-7 6-5zM122 220l3-1 0 1 0 3zM-363 227l5-5 7 4 3 8-14 0zM52 227l3-3 7-3 7 0 7 4 5 9-33 0zM-229 234l4-5 7-1 6 6zM404 234l8-2 6 2z"/><path fill="#a2cde3" fill-rule="evenodd" d="M321 -102l14-2 10 2 4 3 14 2 2 2 2 7-5 7-6 2-14 1-14 5-7 0-2-1-9-7 0-7 2-7zM-42 -95l6-4 7-1 21 1 14 2 23 2 5 2 4 5-1 7-3 5-3 2-11 2-21 0-21 1-7-2-10-8-5-7zM-52 -46l23-3 7 0 21 3 21-1 7 1 7 2 14 6 7-1 7-2 7 0 9 9 1 7-16 14-14 7-15 6-14 10-21 7-21-3-14 2-14 4-7 0-7-1-7 1-14 9-7 2-7 1-15-3-6-4-7-2-7 3-14 1-14 4-21 1-14 2-7-1-14-7-16-4-11-7-8-2-7 1-7 4-7 2-7 0-8-5 0-7-1-7 5-7 11-7 7-2 14 6 7-2 7-3 7 0 7 2 14 11 4 2 17 4 7 1 7-1 5-4 0-7 0-7-1-7-7-7 3-6 14 8 7-2 7-4 17-3 18-6 21-3 14-3zM351 -32l12-4 7 1 21 7 14 1 6 2 11 7-1 7-9 11-7 5-7 2-14 0-21 6-7 0-7-2-7-1-21-3-7 1-14 3-8-1-13-7 1-7 14-14 8-7 5-2 7-3 14-1 14 1 7-1zM-426 -11l5-2 3 2 1 7-4 6-5-6zM-339 17l2-3 7 0 1 3-8 1zM-2 87l1-1 1 1zM163 87l4-3 7-1 3 4-3 7-7 3zM275 87l4-2 7 0 2 2 0 7-2 4-7 3-7-7zM327 87l5 0-4 1zM68 108l22-4 7 2 11 9 3 7 0 14-7 6-14 2-7-1-21-5-7 1-1 4 1 7-2 7-4 7-1 1-7 0-21-7-17-8-4-7 7-3 21 0 14-6 7 0 5-5 5-14 4-4zM147 108l13-3 7 0 2 3 1 7-3 5-7 1-10-6zM205 108l4-3 7 2 2 1 0 7-2 4-7 4-4-8zM-179 122l3-2 7-1 7 2 2 1 3 7-5 5-14-3-3-2zM106 150l5-4 7 4 7 7 2 7-2 4-3 3-4 3-7 1-14-2-3-2-5-7 3-7 5-3z"/><path fill="#7eb8d7" fill-rule="evenodd" d="M-24 -88l2-1 3 1-3 2zM-36 -39l14-2 42 5 10 4 7 7-1 7-9 7-10 14-11 6-7 2-5-1-9-4-7-1-14 0-14 5-7 1-7-1-7 1-7 4-10 9-4 2-7 0-4-2-6-7-9-7-9-4-21-7-4-3 1-7 4-7 6-3 21-9 14-4 14-1 14-2 35-1zM360 -25l3-1 7 0 4 1 9 7 1 3 5 4-5 2-5 5-2 1-7 6-7 2-8-2-1-7 0-7 0-7zM311 -11l3-2 7 1 4 1-4 2-7 1zM-213 17l9-3 7-1 7 1 13 3 8 4 2 3-2 1-7 2-8 4-13 1-4-1-12-7zM106 164l5-6 7 6-7 2z"/><path fill="#569fc9" fill-rule="evenodd" d="M-121 -25l8-3 7-1 14 1 14-3 14 0 7 0 7 2 7 4 2 7-2 7-7 8-7 3-7 1-7 1-21 11-7-1-32-16-6-7 4-7z"/><path fill="#3a87bd" fill-rule="evenodd" d="M-124 -18l11-5 7-1 7 1 10 5-5 7 2 4 6 3-6 3-7 1-7-2-7-3-7-7z"/><use href="#coast" fill="none" stroke="#000" stroke-width="2.7" stroke-linejoin="round"/></g><path d="M231.6 220.8 241.7 218 253.5 214 266.6 209 280.5 203.1 294.1 196.8 306.3 190.1 317.7 183.1 328.6 175.9 339.1 168.5 349.2 160.9 359 153.2 368.2 145.3 376.8 137.3 384.6 129.1 391.8 121 398.6 112.7 404.7 104.4 410.1 96.1 414.9 87.7 419.1 79.4 422.5 71 425.3 62.6 427.6 54.3 429.7 45.9 431.6 37.6 432.9 29.2 434 20.9 434.7 12.5 435.1 4.2 435.1 -4.2 434.7 -12.5 434 -20.9 432.9 -29.2 431.6 -37.6 429.7 -45.9 427.6 -54.3 425.3 -62.6 422.5 -71 419.1 -79.4 414.9 -87.7 410.1 -96.1 404.7 -104.4 398.6 -112.7 391.8 -121 384.6 -129.1 376.8 -137.3 368.2 -145.3 359 -153.2 349.2 -160.9 339.1 -168.5 328.6 -175.9 317.7 -183.1 306.3 -190.1 294.1 -196.8 280.5 -203.1 266.6 -209 253.5 -214 241.7 -218 231.6 -220.8 -231.6 -220.8 -241.7 -218 -253.5 -214 -266.6 -209 -280.5 -203.1 -294.1 -196.8 -306.3 -190.1 -317.7 -183.1 -328.6 -175.9 -339.1 -168.5 -349.2 -160.9 -359 -153.2 -368.2 -145.3 -376.8 -137.3 -384.6 -129.1 -391.8 -121 -398.6 -112.7 -404.7 -104.4 -410.1 -96.1 -414.9 -87.7 -419.1 -79.4 -422.5 -71 -425.3 -62.6 -427.6 -54.3 -429.7 -45.9 -431.6 -37.6 -432.9 -29.2 -434 -20.9 -434.7 -12.5 -435.1 -4.2 -435.1 4.2 -434.7 12.5 -434 20.9 -432.9 29.2 -431.6 37.6 -429.7 45.9 -427.6 54.3 -425.3 62.6 -422.5 71 -419.1 79.4 -414.9 87.7 -410.1 96.1 -404.7 104.4 -398.6 112.7 -391.8 121 -384.6 129.1 -376.8 137.3 -368.2 145.3 -359 153.2 -349.2 160.9 -339.1 168.5 -328.6 175.9 -317.7 183.1 -306.3 190.1 -294.1 196.8 -280.5 203.1 -266.6 209 -253.5 214 -241.7 218 -231.6 220.8Z" fill="none" stroke="#000" stroke-width="2.2"/></g><text class="t" x="540.4" y="1330.4" font-size="35.4" text-anchor="middle">Us [m/s] RMSE difference</text><text class="lab" x="10.8" y="1366.0" font-size="75">(d)</text><path d="M192.8 1834.0L224.9 1818.1L224.9 1849.8Z" fill="#053061"/><path d="M888.0 1834.0L855.9 1818.1L855.9 1849.8Z" fill="#67001f"/><rect x="224.4" y="1818.1" width="32.0" height="31.7" fill="#0c3d73"/><rect x="256.0" y="1818.1" width="32.0" height="31.7" fill="#1a5899"/><rect x="287.6" y="1818.1" width="32.0" height="31.7" fill="#2a71b2"/><rect x="319.2" y="1818.1" width="32.0" height="31.7" fill="#3a87bd"/><rect x="350.8" y="1818.1" width="32.0" height="31.7" fill="#569fc9"/><rect x="382.4" y="1818.1" width="32.0" height="31.7" fill="#7eb8d7"/><rect x="414.0" y="1818.1" width="32.0" height="31.7" fill="#a2cde3"/><rect x="445.6" y="1818.1" width="32.0" height="31.7" fill="#c2ddec"/><rect x="477.2" y="1818.1" width="32.0" height="31.7" fill="#dae9f2"/><rect x="508.8" y="1818.1" width="32.0" height="31.7" fill="#edf2f5"/><rect x="540.4" y="1818.1" width="32.0" height="31.7" fill="#f9f0eb"/><rect x="572.0" y="1818.1" width="32.0" height="31.7" fill="#fce2d2"/><rect x="603.6" y="1818.1" width="32.0" height="31.7" fill="#fbccb4"/><rect x="635.2" y="1818.1" width="32.0" height="31.7" fill="#f6b394"/><rect x="666.8" y="1818.1" width="32.0" height="31.7" fill="#ec9374"/><rect x="698.4" y="1818.1" width="32.0" height="31.7" fill="#dd7059"/><rect x="730.0" y="1818.1" width="32.0" height="31.7" fill="#cc4c44"/><rect x="761.6" y="1818.1" width="32.0" height="31.7" fill="#ba2832"/><rect x="793.2" y="1818.1" width="32.0" height="31.7" fill="#9f1228"/><rect x="824.8" y="1818.1" width="32.0" height="31.7" fill="#790622"/><path d="M192.8 1834.0L224.4 1818.1L856.4 1818.1L888.0 1834.0L856.4 1849.8L224.4 1849.8Z" fill="none" stroke="#000" stroke-width="2"/><line x1="256.0" y1="1849.8" x2="256.0" y2="1857.3" stroke="#000" stroke-width="2.2"/><text class="t" x="256.0" y="1888.8" font-size="29" text-anchor="middle">−1.8</text><line x1="350.8" y1="1849.8" x2="350.8" y2="1857.3" stroke="#000" stroke-width="2.2"/><text class="t" x="350.8" y="1888.8" font-size="29" text-anchor="middle">−1.2</text><line x1="445.6" y1="1849.8" x2="445.6" y2="1857.3" stroke="#000" stroke-width="2.2"/><text class="t" x="445.6" y="1888.8" font-size="29" text-anchor="middle">−0.6</text><line x1="540.4" y1="1849.8" x2="540.4" y2="1857.3" stroke="#000" stroke-width="2.2"/><text class="t" x="540.4" y="1888.8" font-size="29" text-anchor="middle">0.0</text><line x1="635.2" y1="1849.8" x2="635.2" y2="1857.3" stroke="#000" stroke-width="2.2"/><text class="t" x="635.2" y="1888.8" font-size="29" text-anchor="middle">0.6</text><line x1="730.0" y1="1849.8" x2="730.0" y2="1857.3" stroke="#000" stroke-width="2.2"/><text class="t" x="730.0" y="1888.8" font-size="29" text-anchor="middle">1.2</text><line x1="824.8" y1="1849.8" x2="824.8" y2="1857.3" stroke="#000" stroke-width="2.2"/><text class="t" x="824.8" y="1888.8" font-size="29" text-anchor="middle">1.8</text><g transform="translate(1611.9 1564.6)"><g clip-path="url(#cl)"><path fill="#f9f0eb" fill-rule="evenodd" d="M-440.2 -225.8H440.2V225.8H-440.2Z"/><path fill="#edf2f5" fill-rule="evenodd" d="M-449 -235l896 0 0 469-896 0zM-1 -215l-2 1-3 7 19 4 28-1 1-3-8-3-4-4-10-6-7 0z"/><path fill="#dae9f2" fill-rule="evenodd" d="M-449 -235l47 0 2 6 7 4 9-3 2-7 248 0-4 7-3 3-7 3-21-1-7 2-6 7 13 9 5 5 2 7 1 7-1 2-14 7-8 12-6 7-14 7-7 0-3-7-2-14-2-2-7 1-7 2-27 6-7 7-2 7 0 7 1 3 7 7 7 3 7 0 7 1 4 7 4 14 5 7 8 2 7-1 9-8 6-7 6-12 7-2 7 7 21 6 7 1 14-2 7-3 4-2 10-7 7-1 7 8 7 4 7 2 7 0 10-6 1-7-6-7-21-7-5-7-9-7-5-7 2-7 4-7 8-4 7-2 7 1 7 3 14 9 14 4 7 1 7-3 4-9 4-7 6-7 7-7 7-1 8 1 4 7 9 3 14-1 21 4 28 1 7 0 7 3 4 4 5 14 5 8 14-2 7 4 2 4 1 14 4 7 14 17 14 6 7-2 5-7-1-7-5-7-2-7 1-7-3-7-8-7-2-7 3-7 5-3 7 2 2 1 5 6 7 2 4 6 7 28 3 7 6 7 8 6 7 2 7-1 7-3 4-4 5-7 3-21 16-13 13-8-6-5-7 3-7 1-7-1-4-5-5-14 2-11 7-2 14 2 7 0 7-1 5-2 3-7-6-7-9-2-16 2-11 7-1 3-7-1-2-2-3-7-1-7 0-7 4-7 107 0 112 0 0 391-1 1-1 7 2 1 0 69-343 0 7-7 6-14 1-7-7 2-7 13-1 6 1 7-284 0-3-6-15 6-90 0 0-5-4-2-3 0-3 7-151 0 0-175 7-4 1-3-1-2-7-6 0-124 0-1 0-1 0-71 7-2 7-6 7-4 1-7-22-7zM-379 -82l-7 4-5 4-4 7-5 4-7 4-16 13-3 7 5 4 14 3 7-3 4-4 3-1 7 3 7 5 14 13 7 1 14-5 14 4 13-6 1-7-7-8-7-4-7 3-7-3-5-9 1-7 5-7-26-14-3-1zM-323 -88l-5 7-2 7 0 7 7 3 7-2 5-8-2-7-3-4zM-302 -218l-6 4-2 7 1 5 2 2 19 2 21 9 7 0 9-4 4-7-5-7-15-4-14-1-14-5zM-211 -208l-1 1-1 7 2 1 3-8zM-176 -89l-4 1-1 7 5 3 3-3 0-7zM-155 -67l-1 0 1 1 7 3 0-4zM-113 -61l-1 1 0 7 1 1 7 3 7 1 14 0 6-5-8-7-5-2-14-1zM-64 -54l-6 1-1 3-6 4 6 1 7 0 6-1 0-7zM-8 45l-2 7 2 6 7-1 4-5-1-7-3-1zM34 -46l-7 3-5 4 10 7 2 1 7 0 3-1 0-7-3-3zM76 -47l-7 3-5 5-1 7 7 7 13 5 7 3 7 2 14-7 7-1 7-4 5-5-1-7-4-3-7-3-21-3zM153 211l-6 2-3 7 2 3 7 3 5-6 4-7-2-1zM167 1l-3 2-2 7 4 7 4 0 4-1 3-6-1-7-2-2zM258 -19l-7 2-8 6 0 7 1 7 5 7 2 1 7 5 7 0 2-6 1-14 1-7-1-7-3-1zM279 65l-7 3-6 5-2 7 5 7 10 7 19 7 7 7-5 6-3 8-4 9-2 5 1 7 1 1 7 1 7-6 9-10 5-3 8-4 1-7-2-1-13-6-6-7 5-4 7-9 7-3 7-1 7-4-1-7-6-3-20-4-15-1zM307 -225l-9 11-4 7 2 7 11 7 7 3 5-3 2 0 6-7 4-7 1-7-7-7-11-7zM349 -219l-2 5 16 9 14 10 2-5 1-7-3-7-7-3zM412 115l-7 7 1 7 6 7 7 0 11-7-1-7-10-5zM419 31l-4 7 4 3 7-1 1-2 1-7-2-2zM-435 94l-4 0 4 1 1-1zM-407 183l-5 2 5 3 2-3zM-372 33l-7 6-5 6-4 7-1 21 0 7 3 5 7 3 6-1 8-3 3-4 0-7-2-7 1-7 7-14-2-7-7-6zM-106 43l-19 9-5 7 3 8 7 3 7-2 3-2 4-3 14-4 5-7-5-7-7-3zM-71 199l-3 7 2 7 1 1 3-1 4-1 2-6 0-7-2-2zM-8 61l-6 5 2 7 4 3 2-3zM258 176l-7 4-3 5 3 4 7 2 6-6-3-7zM300 -68l-2 1-5 7-1 7 5 14 1 7 2 2 7 1 2-3 2-7 4-7 8-7 3-7-3-7-9-4-7 0zM349 -137l-1 7 1 2 7 2 7-3 2-8-2-3-7-2zM405 149l-7 3-3 5-4 14 0 8 7 2 7-4 7-5 6-8 0-7-6-5zM349 136l-5 7 1 7 4 6 7 5 7-3 6-8 0-7-7-7-6-1zM356 198l-7 2-3 6 3 5 7-3 2-2 2-7zM-89 -235l93 0-5 8-7 3-14 0-14 4-7-2-7-5-7-4-21 1-7-2zM25 -235l33 0-3 8-7 5-7 2-4-1-3-1-6-6zM69 -235l60 0-4 3-2 4-5 4-7 2-21 1-7-1-10-6zM133 -235l72 0-6 7-4 3-21 9-7 0-14-10-14-3zM117 -200l1-3 7-4 7 2 14 19-7 6-7 0-7-2-3-4zM201 -193l8-1 2 1 3 7-2 7-3 2-14 1-5-3 3-7z"/><path fill="#c2ddec" fill-rule="evenodd" d="M248 -235l24 0-7 3-6 4-8 1-2-1zM408 -235l30 0-3 7-2 2-7 2-7-3zM-15 -179l7-2 7 0 7 2 7 6 7 1 7-3 7 0 7 3 14 9 7 2 7-1 7-4 7 1 3 7 0 7-3 10-4 4-3 7 0 7-3 7-1 7 18 11 7-1 3-3 4-8 7-5 7 4 2 2 4 7 0 7-3 14-1 7 2 7-1 7-3 1-7-2-7-3-7 0-7 4-7 1-7-3-7-1-14 3-14-5-7 0-14 7-7 1-28-8-7 4-2 8 0 7 8 7 8 3 4 4 24 4 21 7 28 7 10 3 6 7-1 7-4 7-9 7-9 3-14 1-14 5-14-3-14 4-21 3-14 10-21-4-7-1-9 3-5 6-7-1-5-5-13-7-10-1-9 1-26 9-21-6-7 0-14 1-7 0-21-6-7 1-14 6-14 2-7-1-7-5-7-1-14 2-28 1-7 0-28-7-7-3-9-7-5-5-4-2-3-4-7-1-7 10-2 9-4 7-6 7-2 3-7 3-7 2-7 1-2-2-5-3-10-11-7-14-2-7 2-7 10-21 7-2 14 1 17 8 11 8 7 3 14 1 14-5 14 2 7-1 14-6 21-1 1-1 6-10 7-7 7 0 7 3 14-2 14 4 7-1 7-6 7-3 14 1 7-3 5-4 3-7 6-6 7 0 7 3 5 3 2 8 7 0 7-4 7-2 7-1 19 6 30 7 7-1 28-4 7-2 2-7-5-14-1-7 4-4 11-3 3-4 0-3-2-7-5-3-7 0-7 3-11 14-3 2-14-6-21 1-21-8-21-2-3-1-4-3-2-4 2-7 7-5 28-10 7 2 14 6 7 1 7 0 14-3 21-3 7 4 7 8 7-1 10-6 10-7-3-7-8-7-3-7 0-14-2-21zM27 -169l-5 4-5 14 0 7 6 7 11 4 7-3 2-8 0-7-9-12-4-2zM395 -165l3-1 1 1 3 7 4 14-1 2-6 5-1 1-2-1-2-7-1-14zM-340 -137l3-2 2 2-2 4zM-407 -130l7 3 3 4-2 14-1 3-7-1-7-2-7-2-14-3-2-2 7-7 2-1zM304 -116l17-3 7 1 7 5 7 7 7 4 7 7-1 7-13 10-7 2-7-2-7-4-7-2-7 1-7 3-7 0-4-1-3-2-11-12 0-7 11-6zM-189 -109l6-1 6 1-2 7-7 7-11 8-7 6-7 5-7 2-14 3-7-1-1-2 4-7 9-7 16-5 7-4 4-5zM-394 -102l1-1 4 1-4 2zM180 -95l1-1 2 1 0 7-3 0zM440 -95l7-6 0 15-7 2-3 3-4 10-7 9-3 2-4 7-14 3-5 4 2 7 10 2 7 7 3 5 11 13 10 8-2 7-7 7-29 16-21 1-28 5-14 1-7-3-10-6-18-6-14-1-7-2-5-5-2-7 1-7 6-6 7-3 14-3 3-2 4-2 7-8 7-6 7 0 14 3 7 0 14-3 14-1 9-4-2-1-12-13 5-2 21-6 8-13 20-11 3-3zM-423 -81l2-1 7-1 2 2-2 7-7 3-7-3zM194 -60l8-2 4 2 3 4 6 3 4 7-3 2-21-3-6-6zM-305 -53l3-3 7-1 6 4 4 7-3 5-7 2-7-3-4-4zM158 -39l2-4 2 4-2 5zM211 -25l5-4 7 0 3 4 2 7-2 7-3 4-7 2-7-3-2-3 0-7zM443 38l4-4 0 18 0 5-6-5 0-7zM-233 59l1-1 7 0 1 15 6 5 7-1 7-4 7-6 7-2 7 1 14 3 7 1 14-5 7 6 8 9 4 7-2 7-3 3-7 1-2 3-2 7 1 7-4 7-14 11-17 10 3 3 7 3 14 2 7 4 3 2 6 7-1 7-15 3-21 1-9-4-5-14-7 5-7 13-7 3-8-7-3-7-3-12-2-2-5-2-7 2-2 7 0 7-3 7-2 2-7 1-7 0-7-1-7-3-21-20-7-3-14 2-7-1-14-5-7 4-2 3 0 7 4 7 7 7 3 7-1 7-3 7-4 7-4 6-7 4-7 2-2 2 0 7 4 14-35 0 4-14-1-7-1-7 3-3 6-4 8-1 17-20 2-7-2-7-6-7-4-4-7-3-7 2-7 7-7 5-7 2-6-2-1-1-2-6 0-14 2-8 7-11 7-4 7 1 3-6 1-7 7-7 3-1 14 1 7-1 9-6 6-7 0-14 7-7 6-3 7-1 7 2 7 6 7 9 7 1 4-7 10-6 7-2 14 2zM-330 111l-2 4 3 7 6 4 7 0 6-4 0-7-6-4-7-2zM121 59l4-2 7 1 21 5 6 3 1 7 5 7 9 6 7 3 0-3-6-13-1-7 7-4 7 0 7 2 7 9 14 14 1 14 12 7 8 2 7 0 14-10 7 0 7 3 7 5 3 7-1 7-7 28-2 4-7-1-7-3-12-7-9-9-7-2-7 6-7 18-7 11-7 5-21-8-7 1-7 3-7 0-14-5-21 2-21-5-5 4 3 14-3 7-2 1-7 1-7 0-7-5-7-8-7-3-14 3-7-3-11-7-3-7 2-7-3-7-6-3-13-11-1-7 0-21 3-7 4-7 7-1 7 8 7 2 14 1 7-1 2-2 1-7 4-3 7-2 7 2 7 5 14 3 7 4 5-2-3-21zM-111 80l12-4 14-2 7 0 3 6 3 14-2 7-5 7 0 7 1 2 7 4 14 2 7 4 2 2 1 7-18 14-1 14-3 7-9 13-7 5-7-2-3-2-4-7-6-21 0-7-1-3-6-4-8 0-7-5-7-9-3-7 3-3 7-2 7 1 7-6 3-4 3-7-5-7-4-7zM375 80l2-1 7 2 5 6-8 7-4 1-9-1-2-7 4-4zM-449 122l0-5 7 4 2 1 3 7-2 7-3 5-7 4zM-296 178l1-1 7-5 7 3 2 3-2 7-7 3-5-3zM-449 192l0-2 3 2 4 7-1 7-6 11zM283 192l3-2 7 6 7 13 4 4 1 7-5 5-5 9-45 0 1-4 1-3-1-7-7-7-7 1-7 1-2-2 1-7 1-1 8 1 6 7 10-7 11-1 7-3 7-7zM430 192l3-7 7 4 7 1 0 2 0 2-7 1-7-1zM-270 199l10-3 7 0 7 1 2 2-2 8-7 6-7 2-7-5-3-4zM-44 213l1-1 7 0 5 8 2 6-1 8-23 0 4-14zM41 213l7 1 7 6 5 7 1 7-27 0-26 0 3-7 2-1 14-1 7-3zM314 220l7-2 7 16-16 0 0-7zM-449 227l0-5 7 3 7 7 1 2-15 0zM-107 227l1-1 7 0 7 8-17 0zM194 227l8-5 7-1 7 2 6 4 0 7-33 0zM73 234l3-2 4 2z"/><path fill="#a2cde3" fill-rule="evenodd" d="M-97 -95l5-1 2 1-2 3zM44 -88l4-6 7 2 5 4-2 7-3 2-7-1zM-145 -25l11-5 7-2 21 2 21 4 7 0 21-4 28 0 7 1 21 5 14 1 7 1 7 3 21 11 12 4 7 7-5 4-28 8-14 1-14 4-21 2-14 7-7 2-21-3-14 3-7 0-20-7-8-1-14 0-21 3-7 0-14-3-7 1-14 2-7 0-8-2-6-3-7-2-7 0-10 5-11 3-7 0-14-3-7 0-14 1-28 1-7-2-14-7-5-7 5-2 5-5 9-4 7 0 14 1 21 0 7-2 2-2 12-6 7 0 14 5 7 0 7-6 5-7 2-1 14 1 14 4 14-5 14-2zM333 -25l2 0 14 1 21-1 14 2 14-1 7 0 7 4 10 9 4 6 0 1 0 7-7 7-7 4-7 4-7 1-21 2-21 4-7 0-7-3-10-5-21-7-15-7 1-7 10-4 7-5 14-11zM129 87l3-4 7-1 24 12 8 7 4 7 1 7-2 7-5 7-2 7 1 7-1 4-3 3-4 1-4-1-3-4-4-3 6-7-1-7-1-1-7 8-7 6-7-2-10-11-2-7 3-21 2-8zM-316 94l7-4 5 4-4 7-2 0zM19 108l8-4 7 0 7 1 8 3 9 7 5 7-1 8-7 5-7 2-7 0-7-1-7-3-5-4-4-7-1-7zM81 108l2-2 7 0 7 2 8 7 3 7-1 7-9 7-8 4-7 0-3-4-7-14 3-7zM-249 115l3 0 7 5 1 2 1 7-16 15-7 3-4-4-6-7 1-7 7-7 9-6z"/><path fill="#7eb8d7" fill-rule="evenodd" d="M-58 -25l9 0 20 3 28 5 14-1 7 3 7 4 5 7-4 7-22 9-21 2-21 8-7 1-14-2-7 1-14 2-28-6-28-5-14-6-6-4-2-7 8-5 14-4 14-10 7-1 7 1 21 4 7 0zM332 -18l3-1 14 1 14-1 7 1 14 3 14 0 7 1 4 3 6 7-1 7-11 7-12 4-21 1-14 3-7-1-35-14-1-7 8-8 7-5zM-312 10l3-1 6 1-6 5z"/><path fill="#569fc9" fill-rule="evenodd" d="M-120 -11l7-3 7-1 7 0 21 3 7 0 14-5 7 0 14 6 10 7-3 5-2 2-22 7-24 7-8 0-21-4-21-5-10-5 2-7zM331 -11l4-1 28-1 21 4 14 2 4 3-2 7-9 4-21 1-14 2-7 0-17-7-4-4-3-3z"/><path fill="#3a87bd" fill-rule="evenodd" d="M-124 -4l4-2 14-4 14 0 23 6 0 7-2 2-7 5-7 2-14-1-24-8zM341 -4l15-4 7 0 14 2 6 2-6 5-14 3-7 1-7-1-2-1z"/><path fill="#2a71b2" fill-rule="evenodd" d="M-113 -4l7-3 7-1 7 1 8 3 1 7-9 3-7 0-11-3zM360 -4l6 0-3 1z"/><path fill="#1a5899" fill-rule="evenodd" d="M-107 -4l8-1 7 1 0 1-7 3z"/><use href="#coast" fill="none" stroke="#000" stroke-width="2.7" stroke-linejoin="round"/></g><path d="M231.6 220.8 241.7 218 253.5 214 266.6 209 280.5 203.1 294.1 196.8 306.3 190.1 317.7 183.1 328.6 175.9 339.1 168.5 349.2 160.9 359 153.2 368.2 145.3 376.8 137.3 384.6 129.1 391.8 121 398.6 112.7 404.7 104.4 410.1 96.1 414.9 87.7 419.1 79.4 422.5 71 425.3 62.6 427.6 54.3 429.7 45.9 431.6 37.6 432.9 29.2 434 20.9 434.7 12.5 435.1 4.2 435.1 -4.2 434.7 -12.5 434 -20.9 432.9 -29.2 431.6 -37.6 429.7 -45.9 427.6 -54.3 425.3 -62.6 422.5 -71 419.1 -79.4 414.9 -87.7 410.1 -96.1 404.7 -104.4 398.6 -112.7 391.8 -121 384.6 -129.1 376.8 -137.3 368.2 -145.3 359 -153.2 349.2 -160.9 339.1 -168.5 328.6 -175.9 317.7 -183.1 306.3 -190.1 294.1 -196.8 280.5 -203.1 266.6 -209 253.5 -214 241.7 -218 231.6 -220.8 -231.6 -220.8 -241.7 -218 -253.5 -214 -266.6 -209 -280.5 -203.1 -294.1 -196.8 -306.3 -190.1 -317.7 -183.1 -328.6 -175.9 -339.1 -168.5 -349.2 -160.9 -359 -153.2 -368.2 -145.3 -376.8 -137.3 -384.6 -129.1 -391.8 -121 -398.6 -112.7 -404.7 -104.4 -410.1 -96.1 -414.9 -87.7 -419.1 -79.4 -422.5 -71 -425.3 -62.6 -427.6 -54.3 -429.7 -45.9 -431.6 -37.6 -432.9 -29.2 -434 -20.9 -434.7 -12.5 -435.1 -4.2 -435.1 4.2 -434.7 12.5 -434 20.9 -432.9 29.2 -431.6 37.6 -429.7 45.9 -427.6 54.3 -425.3 62.6 -422.5 71 -419.1 79.4 -414.9 87.7 -410.1 96.1 -404.7 104.4 -398.6 112.7 -391.8 121 -384.6 129.1 -376.8 137.3 -368.2 145.3 -359 153.2 -349.2 160.9 -339.1 168.5 -328.6 175.9 -317.7 183.1 -306.3 190.1 -294.1 196.8 -280.5 203.1 -266.6 209 -253.5 214 -241.7 218 -231.6 220.8Z" fill="none" stroke="#000" stroke-width="2.2"/></g><text class="t" x="1611.9" y="1330.4" font-size="35.4" text-anchor="middle">Vs [m/s] RMSE difference</text><text class="lab" x="1140.8" y="1366.0" font-size="75">(e)</text><path d="M1264.3 1834.0L1296.4 1818.1L1296.4 1849.8Z" fill="#053061"/><path d="M1959.5 1834.0L1927.4 1818.1L1927.4 1849.8Z" fill="#67001f"/><rect x="1295.9" y="1818.1" width="32.0" height="31.7" fill="#0c3d73"/><rect x="1327.5" y="1818.1" width="32.0" height="31.7" fill="#1a5899"/><rect x="1359.1" y="1818.1" width="32.0" height="31.7" fill="#2a71b2"/><rect x="1390.7" y="1818.1" width="32.0" height="31.7" fill="#3a87bd"/><rect x="1422.3" y="1818.1" width="32.0" height="31.7" fill="#569fc9"/><rect x="1453.9" y="1818.1" width="32.0" height="31.7" fill="#7eb8d7"/><rect x="1485.5" y="1818.1" width="32.0" height="31.7" fill="#a2cde3"/><rect x="1517.1" y="1818.1" width="32.0" height="31.7" fill="#c2ddec"/><rect x="1548.7" y="1818.1" width="32.0" height="31.7" fill="#dae9f2"/><rect x="1580.3" y="1818.1" width="32.0" height="31.7" fill="#edf2f5"/><rect x="1611.9" y="1818.1" width="32.0" height="31.7" fill="#f9f0eb"/><rect x="1643.5" y="1818.1" width="32.0" height="31.7" fill="#fce2d2"/><rect x="1675.1" y="1818.1" width="32.0" height="31.7" fill="#fbccb4"/><rect x="1706.7" y="1818.1" width="32.0" height="31.7" fill="#f6b394"/><rect x="1738.3" y="1818.1" width="32.0" height="31.7" fill="#ec9374"/><rect x="1769.9" y="1818.1" width="32.0" height="31.7" fill="#dd7059"/><rect x="1801.5" y="1818.1" width="32.0" height="31.7" fill="#cc4c44"/><rect x="1833.1" y="1818.1" width="32.0" height="31.7" fill="#ba2832"/><rect x="1864.7" y="1818.1" width="32.0" height="31.7" fill="#9f1228"/><rect x="1896.3" y="1818.1" width="32.0" height="31.7" fill="#790622"/><path d="M1264.3 1834.0L1295.9 1818.1L1927.9 1818.1L1959.5 1834.0L1927.9 1849.8L1295.9 1849.8Z" fill="none" stroke="#000" stroke-width="2"/><line x1="1327.5" y1="1849.8" x2="1327.5" y2="1857.3" stroke="#000" stroke-width="2.2"/><text class="t" x="1327.5" y="1888.8" font-size="29" text-anchor="middle">−1.8</text><line x1="1422.3" y1="1849.8" x2="1422.3" y2="1857.3" stroke="#000" stroke-width="2.2"/><text class="t" x="1422.3" y="1888.8" font-size="29" text-anchor="middle">−1.2</text><line x1="1517.1" y1="1849.8" x2="1517.1" y2="1857.3" stroke="#000" stroke-width="2.2"/><text class="t" x="1517.1" y="1888.8" font-size="29" text-anchor="middle">−0.6</text><line x1="1611.9" y1="1849.8" x2="1611.9" y2="1857.3" stroke="#000" stroke-width="2.2"/><text class="t" x="1611.9" y="1888.8" font-size="29" text-anchor="middle">0.0</text><line x1="1706.7" y1="1849.8" x2="1706.7" y2="1857.3" stroke="#000" stroke-width="2.2"/><text class="t" x="1706.7" y="1888.8" font-size="29" text-anchor="middle">0.6</text><line x1="1801.5" y1="1849.8" x2="1801.5" y2="1857.3" stroke="#000" stroke-width="2.2"/><text class="t" x="1801.5" y="1888.8" font-size="29" text-anchor="middle">1.2</text><line x1="1896.3" y1="1849.8" x2="1896.3" y2="1857.3" stroke="#000" stroke-width="2.2"/><text class="t" x="1896.3" y="1888.8" font-size="29" text-anchor="middle">1.8</text><g transform="translate(540.4 2209.8)"><g clip-path="url(#cl)"><path fill="#f9f0eb" fill-rule="evenodd" d="M-440.2 -225.8H440.2V225.8H-440.2Z"/><path fill="#edf2f5" fill-rule="evenodd" d="M-449 -235l896 0 0 469-896 0zM181 -14l-2 3-11 7 5 7 8 3 7 2 7-1 7-2 3-2 2-7-5-7-7-3-7-2z"/><path fill="#dae9f2" fill-rule="evenodd" d="M-449 -235l459 0-1 7-3 5-5 2-2 6-1-6-13-4-7-1-14 1-17 4-10 7-1 3-9 11 4 7 5 4 7-1 21-7 14 1 7-2 5-2 2-2 4-5 3-6 7-2 3 8 1 7 10 10 14-1 14 2 7-4 7-6 7-3 14 6 21 2 14-3 7-1 7 1 7 3 14 11 7-3 4-7 10-7 6-7-5-7-14-7-15-3-7 1-14 5-14 0-7 1-7 0-7-4-14-4-7-2-21 8-7 0-14-4-10-5-2-7 432 0 0 112 0 357-896 0 0-2 5-5-4-7-1 0zM-330 112l-7 7-1 3 1 9 2 5 5 4 7-2 2-2 3-7 1-7zM-274 -207l-2 0 2 1 7 1 7-2-7-1zM-253 -215l-1 1 1 3 7 4 13 7 8 3 7 10 7 4 7-1 14-8 7-3 28 9 7 0 14-12 7-1 21 1 7 5 7 1 7-6 4-2 7-7 1-7-5-3-7-1-14 2-14 0-7 1-14 13-21-11-14-4-12 3-2 3-14-5-7-1-7 3-7 8-7-2-3-6-4-3-7-2-7 0zM-71 171l-2 0 2 3 7 2 1-5zM-43 148l-3 2-5 7 1 4 4 3 3 1 1-1 2-7 2-7zM-29 -20l-3 2-3 7 2 7 6 7 5 3 7 2 7-4 2-8-1-7-1-2-4-5-3-1-7-2zM41 127l-5 2-2 4-1 3 1 8 7 2 15-3 13 3 5-3 0-7-5-2-7-2-8-3zM55 -175l-2 3-2 7 2 7 2 2 7 1 5-3 4-7-2-4-3-3-4-3zM104 204l-6 2 6 1 5-1zM111 150l-4 7 4 4 7 4 7 0 1-1 4-7-5-7-7-1zM153 -25l-11 7-6 7 1 7 9 10 7 7 7 2 7-2 7 1 7 2 7 0 7-2 8-4 6-3 5-4 2-7 0-7-2-7-5-4-21-5-21 3-7-2zM160 -117l-2 1 2 8 6 6 15 8 6-1-1-7-4-7-1-7zM216 -215l-7 1-7 3-5 4 3 7 9 11 7 1 11-12 3-7-4-7-3-1zM230 -122l-5 6 1 7-1 7 5 7 7-4 3-3 3-7-4-7zM258 -203l-2 3 2 1 2-1zM265 -54l-4 1-2 7 6 2 4-2-3-7zM286 -67l0 1 7 4 7-2 1-3-1 0-7-2zM307 -208l-3 1 3 7 3 0 4 0 3-7-3-2zM349 -186l-7 3-5 4 8 7 4 2 6-2 1-7zM-239 190l-7 7-1 2 1 7 7 3 7-3 3-7-3-8zM-141 141l-3 2 3 3 4-3zM-43 196l-24 10 10 4 7 1 14-1 14-2 7 0 6-2-13-2-7-3-7-4zM-29 133l-2 3 2 1 0-1zM34 177l-4 1 0 7 11 6 5-6-5-7zM160 178l-1 0-2 7 3 10 2-10zM-141 172l-7 6 3 7 4 6 7 4 7-1 3-2 5-7-3-7-5-3-7-2z"/><path fill="#c2ddec" fill-rule="evenodd" d="M-449 -235l190 0 0 7-8 8-14-1-14 3-14 1-7 3-7 6-7 3-28-4-7 6-15 3-6 8-9 6-2 7 4 4 7 1 7-4 11 27 3 2 7 1 7 0 7-1 2-2-2 0-4-7-2-7-2-14-7-14 1-7 7-4 2 4 5 5 4 9 3 4 7 3 8-14 6-4 9-3 5-2 7 0 12 9 2 4 7 3-7 5-2 2-5 5-6 9-1 7 4 14 10 8 7 1 14-4 7 0 7-4 9-8 5-6 7-5 7-1 7 1 7 1 14 6 7 1 7 0 14-5 28-2 7-2 4-2-4-9-2-12 2-1 7-3 7 2 2 2 0 7-2 8-5 6 12 6 7-1 7-4 7 0 9 6 19 2 14 4 14-2 7 1 7 5 7 1 7-5 7-2 14-1 8-3 0-7 4-7 2-1 2 1 1 7-1 7 12 14 7 6 7 0 14-13 7-2 3 2 6 7 12 12 10 16 1 7-1 14 1 7 3 5 7 4 7 0 7-7 7-5 14 9 7 3 14 4 7 1 14-7 7-1 14 2 7-3 7-4 14-10 7-2 5-3 2-7-14-8-14-12-7-4-14-1-21-7-14 9-7 2-14-1-7 1-7 5-7 1-7-11-7-8-14-4-5-4-1-7 2-7 0-14 1-7 3-1 7-4 7 1 7 2 3 2 7 14 4 4 21 4 21 9 7 0 3-3 2-7 0-7 2-4 28 19 7 3 14-4 14 0 7-3 7-5 7-2 8 3 13 3 9 4 5 4 9-11 5-2 7 2 7 4 7 1 12-5 2-3 3 3 4 2 7 0 3-2 2-7-5-4-14 0-3-10 0-7 3-3 5-4 16-3 7-4 4-7-1-7-3-10-6-4 55 0 0 301-6 7 6 3 0 113-8-4-4-7-2-5-7 8-1 4 0 7 1 4 4 3 10 3 7 6 0 26-72 0 2-3 7-6 7-2 7 0 8-3-1-2-7-3-7 2-7 1-7-5-7-8-4 1-3 3-1 4-3 7-10 6-7 3-7 0-7-2-7 1-3 6-313 0-2-7-4-5-2-2 9-5 7-1 21 0 14 1 14-2 14 3 21 2 7-1 14-4 7 0 7 1 28 1 14-6 17-3 2-7-12-5-2-2-2-7 11-9 7-3 5 5 3 7-1 8-6 6 2 7 11 4 7 1 9-5 2-7-5-14-1-7 2-7 4-7 0-14 2-7-6-3-3 3-25 20-7 0-21-4-12-9-2-4-7 1-7-1-14-13-7-2-15 5-6 7-5-7-2-1-6-6-15-9-7-1-7-1-14-4-7 1-14 11-14-2-14 3-7 0-14-12-7 0-13 7-6 7 1 7-3 3-7-1 0-2-6-7-8-2-7 0-7 0-14 7-7 1-14-1-14-3-7 1-14 8-14-5-7 1-7 13-7 9-7 7-7-2-11-6-3-5-7 4-1 8-3 7-3 2-14-3-14-1-7 4-7 5-7 2-7-1-14-7-7 2-7 5-7 4-7-7-7-2-8 4-6 6-7-6-4-14-3-4-7-4-7-1-7 2-6 7 3 7 10 13 7 7 7 1 7-3 3 3 4 14 5 7 2 2 7-1 14-6 7 0 6 5-1 7-9 14-106 0 0-7-1-7-1-3-7-5-7 0 0-73 7-2 7 1 3-2 0-14 4-3 11-4 3-3 0-4-4-7-10-9-7-1-7 5-7 7 0-275 7 4 7 8 7 3 7-6 3-9-1-7-2-2-7-1-21-1zM-414 -217l-5 3-1 7 5 7 8 4 6-4 2-7-2-7-6-4zM-358 74l-6 6 6 6 7-6zM-323 -175l-7 10-5 14 12 2 7 1 6-3 0-7-3-7-3-4-5-3zM-260 -11l-7 0-7 3-4 4 2 7 9 5 7 2 7-3 15-4 1-7-16-6zM-99 -82l-2 1 2 4 2-4zM-43 -135l-4 5 4 7 2-7zM-29 -29l-7 6-7 4-7 1-7 3-5 4-3 7 3 7 7 7 5 3 7 0 7-2 7 0 14 3 7-2 8-9 2-7 1-7-3-7-8-6-14-6zM76 -89l-7 8-1 7 1 5 7 4 6-9 2-7-1-3-4-4zM111 8l-2 2-5 14 0 1 7 5 7-6 3-7-4-7zM279 -130l-7 7 1 7 8 7 3 7-2 7-3 5-14 8-11 15-10 11-7-1-14-6-4 3-3 7-2 14-5 4-7 3-21 0-7 1-7 0-7-3-7-1-7 4-7 6-13 7-5 7-1 7 1 7 11 7 6 7 8 7 12 7 6 14 3 2 7 0 5-2-2-7 1-7 11-7 20-8 21-13 4-7 0-14 3-5 7-3 14-3 14-6 7-2 9-2 5-2 21 5 7 3 7-2 12-11 7-14-4-7-29-1-14-6-11-7 8-14-2-7-6-7-4-14zM349 174l-2 4 0 7 2 6 7 4 14-12 7 0 7 0 7-2 2-3-2-5-7-1-14 2-7 0-7-2zM384 -130l-3 7 1 7 2 4 7 4 1-1 7-7-3-14-5-3zM419 -99l-12 11 5 11 7-2 7-3 4-6-1-7-3-5zM433 -179l-7 7 0 1 7 1 1-2zM-428 156l-2 8 2 8 7 3 5-4 5-7-5-7-5-6zM-428 -125l-4 2-3 4-1 3 1 8 7-1 4-7 1-7zM-400 -88l-7 3-1 4 1 6 7 1 7-7 0-4-4-3zM-260 79l-7 4-7 3-7 0-14-5-7 1-7 5-7 9-7 1-7-1-7 1-5 4-4 14-3 7-2 8-14-3-2 2 1 7 15 8 9 6 5 10 7 0 7-6 2-4 12-8 7 0 14 3 7-2 6-7 3-7-1-7-1-2-5-5-2-6-2-1 9-4 7-5 7-2 15-3 2-7-5-7-5-3zM146 136l-1 0 1 2 7 0 0-3zM265 85l-3 2-3 7 4 7 2 1 2-1 4-7-1-7zM279 152l-7 8-7 3-7-1-7-2-7-1-4 5 0 7 12 21 1 7 6 7 7 7 6 8 7 1 14-22 2-1 1-7 1-7-4-7-3-7-2-14-2-3zM300 113l-3 9 2 7 1 2 7 2 4-4 0-7-4-12zM307 89l-6 5 1 7 5 6 4-6 4-7-1-3zM321 148l-2 2-3 7-1 7 2 7 4 1 4-1 3-3 1-4zM398 71l-2 2 2 2 4 5 3 2 7 0 4-2 3-3 11-4-4-5-7 2-14-2zM-407 62l-6 4 6 5 7 0 3-5zM-393 -62l-8 9-1 7 2 1 2-1 11-7 2-7zM-239 -235l17 0-3 4-7 0zM-203 -235l163 0-10 4-4 3-10 4-14-2-21 1-14-1-7 2-14 7-7-1-28-6-14 2-7 0-12-6zM26 -235l31 0-2 4-3 3-4 2-7 1-9-3zM83 -235l280 0 1 7-2 7-13 3-7 3-7 3-14-9-7 1-21 7-7 0-14-6-14 0-14 2-7-1-7-5-7-2-21 1-14 3-7 0-21-8-21-2-14 6-21 1-7-1-8-3zM-257 -193l4-1 7 0 3 1 4 4 3 3-3 5-5 2-9 0-11-7 4-2zM184 -193l4-1 7 2 4 6-1 7-3 2-2-2-14-7zM233 -193l4-2 3 2 0 7-3 4-7 1-2-5 2-4zM-39 -186l3-1 4 1-4 4zM-273 -165l6-7 6 7 0 7-6 4-4-4zM200 -123l2-1 7 1 7 4 2 3 1 7-1 7-2 2-7 3-7 0-7-3-2-2-4-7 1-7 5-5zM-87 157l16-6 1 6-8 1-7 0zM47 164l1-1 7-2 14 9 7 2 3 6-1 7-2 4-3 3-4 2-6-2-4-14-7-7zM113 178l5-2 7 0 7 0 7 3 7 13-4 7-3 2-14-1-7-4-4-4-4-7zM-172 185l3-1 2 1 1 7-3 3-14-1-7 9-6 3 13 2 14-1 21 3 7 0 21-3 7 0 14 2 14 8 7 3 7 1 42-5 7 1 8 3-3 14-12 0-189 0-2-7-6-7-1-7 9-6 5-1 2-7 8-7 6-3 7 0 7 2 7-2zM-95 185l3-4 7 1 7 5 4 5-3 7-1 1-7 2-7 1-7-1-4-3 3-7zM-272 199l5-2 7 0 2 9 11 14-5 14-22 0-12 0-2-4-7-6-3-4-2-7 1-7 4-3z"/><path fill="#a2cde3" fill-rule="evenodd" d="M-449 -235l4 0-3 7 1 7 6 7 1 7 0 7-2 2-7 4zM-402 -235l18 0-2 5-7 3-7-5zM-330 -228l7-2 2 2-6 7-3 2-6-2zM-191 -235l19 0-4 3-7 2zM-98 -235l19 0-13 2zM-78 -235l18 0-4 2-7 0zM95 -235l23 0-14 3-7-2zM175 -235l22 0-2 2-7 5-7-1zM230 -235l38 0-3 5-3 2-4 1-14 2-7-3zM406 -193l6-4 7-2 7 6-7 5-7 5-7 1-3-4zM-305 -186l3-2 3 2-3 5zM447 -165l0 21 0 2-2-2-3-7 2-7zM-409 -158l2-2 7-1 9 3 3 7 0 7-3 7-2 4-7 2-7-3-4-3-3-7 1-7zM277 -151l2-1 7-1 14 3 7 5 1 1 1 7-2 8-7 8-7-8-7-11-10-4zM-80 -144l9-3 7 0 5 3-1 7-2 7-2 4-7-2-8-9zM163 -144l4-5 7 2 2 3-2 2-7 1zM257 -144l2 0 2 7-3 5-7-3-1-2 1-3zM-238 -137l6-3 7 2 7 5 7 0 5-4 2-5 7-1 7 1 14-1 7 2 7 4 7 4 7 1 7-1 14-6 2 2 0 21 9 14-2 14 1 7 2 7 4 7 5 5 7 1 7-1 14-6 7 1 7 9 5 5 2 4 7 3 7 4 2 3 2 7-4 4-7 0-7 4-16 20 2 8 14 12 7 4 7 0 7-3 7 0 7 4 7 2 7-3 14-10 7-3 7 3 7 7 10 7 4 7 7-3 7 0 7 1 7 4 7 1 5-3 2-2 2 2 1 7-10 11-6 3-2 7 2 7 6 11 7 3 7 1 7 3 7 7 7 2 7 1 7-4 4-10 3-14-2-7-11-7-1-1-2-6 4-7 5-2 7 0 5 2 5 7 2 7 2 2 7 2 35 3 7-1 7-2 7-1 14 8 7 1 7-2 6-3 8-7 0-7-7-5-14 2-5-11-1-7 1-7 16-14 4-14 6-5 28-18 14-3 7 0 7 1 6 4 6 7 2 9 7 1 3-10 5-7 6-4 14-1 14 1 21-12 7 0 10 9 11 7 7 2 7 1 3 4 4 14 1 7-1 7-2 7-5 7-8 7-2 7-1 7 3 7-6 7-14 4-7 1-7-1-7-2-21-2-7-2-28-13-5 1-2 1-7 6-2 7 9 8 4 6 1 7-5 2-7-1-7 1-14 6-1-1-1-7 1-7-6-4-21 0-5 4-11 14-2 7-1 14-2 5-7 3-14 10-7 3-6-7 0-7-1-2-7-5-7 11-7 3-14-1-7 3-7-1-7-12-7-2-14 6-7 0-7-6-4-1-3-3-3 3-4 1-7 6-7 7-7-2-21-11-2-1-1-7 2-7-6-4-7 3-14 8-7 7-7 2-7-2-7-6-7-2-14 5-14-2-21 0-5-2-2-2-8-12-3-7-10-6-7-1-7 1-14 11-7 0-7 3-14 11-14 0-7-6-7-8-7-4-9 6-4 7 6 10 7 4 14-3 14 5 7-2 7 3 5 4 9 11 7 0 3-11 0-7 4-17 7 12 1 5 9 14-3 2-7 2-7 1-7 3-21 2-14-2-14-1-1 0-3-7-3-3-7-3-14 12-7 3-7 0-7-12-7-1-7 7-7 3-7-4-2-2-2-7 4-7 7-5 20-9-1-7-5-2-7-2-14 5-5-8 1-7 0-7-3-2-7-3-7 0-7 4-1 8-5 7-8 3-7 0-6-3-2-7 0-7-6-6-14-7-14-4-16 3-12 4-7-1-7-2-7-1-21 1-2-1-5-8-7-8-7-2-7 1-6 3-2 7 2 7-2 14 1 7-2 7-5 4-7 3-7 2 0-105 1 5 6 11 7 6 7 1 7-4 4-7 1-7 2-4 6-3 8-2 7-3 14-11 21-7 14-6 7-1 14 5 7 0 9-3 5-7 2-7-2-1-28-2-7-1-6-3-7-7-3-7-5-3-7-1-7 4-1-7 7-7 2-7 6-10 7 2 7 4 4 4 5 14 12 10 7 3 7 0 14-3 14 3 7-1 7-1 4-4 1-7-9-7-6-7-1-7 7-7 4-2 7-1 7 1 7-1zM-162 -98l-7 6-2 4-1 7 1 7 2 2 7-8 3-8 4-7zM-57 -41l-1 2 1 8 1-8zM-43 38l-5 7 1 7 4 5 7 3 7-2 12-13-3-7-9-2zM27 34l-5 4-3 7 8 8 7 1 9-9 0-7-2-7-7 1zM-442 24l-3 0 0 7 3 1 4-1zM-274 -14l-6 3-5 7 2 7 9 7 7 3 7 1 21-3 7-5 3-3 0-7-8-7-9-3-7-1-14 0zM10 -137l4 0-1 5zM361 -137l2-1 1 1-1 1zM-449 -130l0-2 1 2 1 7-2 5zM-318 -130l2-1 14 1 1 0 4 7-5 3-7 0-7-3zM17 -123l3-1 0 1 14 11 16 10 4 7 1 7 0 3-4 11-11 14-6 6-17 8 3 3 2 4 5 5 3 2-3 7-7 4-7 1-7-2-12-10 2-7 3-7 0-7 2-7 5-7 11-14-4-4-7 2-7 6-7 3-7-2-7-6-7-1-4 2-10 15-7-3-6-5-5-7 12-21 6-6 7-5 7-3 21 2 7 0 14-8zM197 -116l5-2 7 1 2 1 1 7-3 6-7 1-6-7zM-101 -109l2 0 2 0 6 7-8 2-5-2zM341 -102l1-3 7 2 1 1 0 7 7 7 6 3 14 4 11 7 3 8-7 4-14-6-28-5-21 1-7-1-3-1-8-7 2-7 2-1 7-3 14 0 9-3zM-449 -67l0-2 4 2 3 4 7 17-7 6-3 1-4 4zM147 -60l6-7 7 7 0 1-4 6-3 1-3-1zM108 -53l3-6 7 5 2 8 8 7-3 7-7 6-7 13-10 9-7 14-4 14-7-2-6-5-8-2-4-5-5-7-12-13-10-8-2-7 5-5 14 8 7-5 7-7 7-3 7 0 14 2 7-1 4-3 1-7zM194 -53l1 0 4 7-4 4-14 3-8 0-4-7 5-5 7-1 7 1zM430 45l10-3 7 2 0 1 0 4-7 1zM339 87l3-1 1 1 0 7 2 7 11 11 14-4 7-3 7-9 7-3 8 1 10 7-1 7-3 3-14-1-7 2-14 12-7-2-7-5-14 1-7-4-4-6-1-7 5-12zM-395 101l2-4 7-2 7 2 6 4 3 7-2 3-7 5-7 2-4-3-3-3-1-4zM-265 108l5-3 7 0 6 3-1 7-5 5-7 2-5-7zM268 122l11-5 4 5-3 7-3 0-5-2zM-262 143l2-1 2 8-2 4-5-4zM342 206l4 7-4 2-3-2zM-182 220l6-3 7-3 7 0 26 6-5 12-1 2-40 0 0-7zM189 220l6-3 6 3 3 14-7 0-2-2zM297 220l3-2 1 2 0 7-1 2-2-2zM-404 227l4-5 7-2 7 4 7 7 6 3-31 0zM-43 227l7-3 7-1 3 4 2 7-19 0-20 0 6-3 7 0zM-95 234l3-3 7 0 4 3zM72 234l4-2 2 2zM109 234l2-3 7-2 5 5z"/><path fill="#7eb8d7" fill-rule="evenodd" d="M-195 -95l5-3 7 2 1 1 0 7-1 3-4 4-3 3-8-3-1-7zM-148 -81l1 7-1 1-1-1zM-300 -46l5-2 7-2 21 1 7 1 7 4 7 12 7 2 4-2 5-7 5-4 7-3 7-2 7 0 7 2 14-5 14 7 7 0 7-2 7 0 14 4 21-2 14 0 7-1 7 1 7 6 3 6 8 7-1 7-5 7-7 7-1 7 4 7 8 7 4 7 3 14 0 7-4 7-5 3-7 0-14-2-7 1-14 8-7 2-7-1-7 3-2 7-5 4-7-1-3-3-6-14-5-3-16-4-12-2-7 0-7 1-4 1-1 7-2 1-6-8-8-4-7-3-14 0-14-4-21-2-14 1-7-2-12-7-1-7 6-7-6-7-1 0-4 0-3 7 6 7-7 7-6 3-14 6-7 2-7 0-21-1-7-3-7-5-7-12-10-11 2-7 1-2 7-1 7 8 4 2 3 1 7-3 8-5 4-7 1-7-3-7-3-7 3-7 16-7 16-4 7-1 14 1zM-274 -18l-7 1-10 6-2 7 3 7 9 8 7 4 7 2 7 2 14-3 14-5 7-8 2-7-5-7-4-3-11-4-3-2zM282 -32l11-3 7 0 9 3 6 7-2 14 8 8 7 5 7-11 0-9 1-7 6-6 3-1 4-1 8 1 15 7 5 7 3-7 4-3 7-1 11 4 4 7 0 7 5 7 8 2 7-1 0 6-7 7-5 7 2 7 0 7-1 7-3 5-7 4-7 1-28-9-21-4-7-3-4-8-3-16-7 0-3 9-4 7-7 7-13 7-11 7-11 3-7-1-7-5-14-13-14-5 0-7 14-7 4-7 1-7 4-7 12-10 1-4zM73 -4l3-3 2 3-2 1zM-9 59l8-4 7-2 7 2 4 4 2 7-3 7-3 4-7 4-14 0-6-1 2-14zM177 80l4-2 7 4 2 5-1 7-1 3-7 1-9-4-1-7z"/><path fill="#569fc9" fill-rule="evenodd" d="M-325 -39l37-3 14 2 5 1 9 7-5 7-9 1-21 2-7 2-7 4-7 3-7-3-7-4-6-5-1-7 7-5zM-175 -32l20-4 21 1 14-1 7 0 28 5 7 3 4 3 1 7-4 7-10 7-5 7-2 0 1 7 8 14-7 5-14 5-7 1-7-3-7-1-7 3-13 11-8 3-26-3-37-2-14-4-7 0-7-1-9-7-2-7 25-9 6-5 6-7 2-4 7-6 7-1 3-3 1-7 3-4 4-3zM-148 3l-1 0 1 1 6-1zM291 -32l9-1 7 3 4 5-4 9-7 5-14-3-6-4-1-7zM342 -25l7-1 6 1 5 7 4 7 6 4 7 1 7 3 7 7 7 9 12 11 2 7-4 7-3 3-7 2-7-1-7-4-11-7-3-3-7-2-7-1-3-1-4-4-1-3-1-14-7-21zM-382 17l17-6 7 0 14 1 7 3 1 2 2 7-3 5-3 2-18 7-7 0-14-3-8-4-2-7 3-4zM-283 24l2-3 8 3-1 1z"/><path fill="#3a87bd" fill-rule="evenodd" d="M-169 -25l7-3 7-2 7 1 7 2 7 0 14-3 14 3 14 0 7 1 2 1 5 7-5 7-9 5-7 1-14-1-7 3-7 1-9-9-5-8-8 8-6 5-7 2-7-3-5-4 0-7zM290 -25l3-2 7 0 7 2-7 4-7-1zM-212 3l43 5 14 6 7 5 5 5-2 7-7 7-3 2-7 2-7 0-28-1-14-2-28-6-5-2-1-7 13-5 7-5 7-7zM368 10l2-1 7-1 7 2 7 7 7 3 5 4 4 7-2 4-7 4-7-2-8-6z"/><path fill="#2a71b2" fill-rule="evenodd" d="M-104 -18l5-2 7 0 6 2-5 7-8 1-3-1zM-215 10l4-2 7 1 14 4 14 2 14 5 7 4 0 7-7 5-7 1-28 1-14-3-14-4-7-7 7-4 2-3z"/><path fill="#1a5899" fill-rule="evenodd" d="M-216 17l5-3 7 1 7 3 14 3 7 3 1 7-1 0-14 4-7 0-15-4-8-7z"/><path fill="#0c3d73" fill-rule="evenodd" d="M-204 24l7-1 8 1 2 7-3 1-7 0-3-1z"/><use href="#coast" fill="none" stroke="#000" stroke-width="2.7" stroke-linejoin="round"/></g><path d="M231.6 220.8 241.7 218 253.5 214 266.6 209 280.5 203.1 294.1 196.8 306.3 190.1 317.7 183.1 328.6 175.9 339.1 168.5 349.2 160.9 359 153.2 368.2 145.3 376.8 137.3 384.6 129.1 391.8 121 398.6 112.7 404.7 104.4 410.1 96.1 414.9 87.7 419.1 79.4 422.5 71 425.3 62.6 427.6 54.3 429.7 45.9 431.6 37.6 432.9 29.2 434 20.9 434.7 12.5 435.1 4.2 435.1 -4.2 434.7 -12.5 434 -20.9 432.9 -29.2 431.6 -37.6 429.7 -45.9 427.6 -54.3 425.3 -62.6 422.5 -71 419.1 -79.4 414.9 -87.7 410.1 -96.1 404.7 -104.4 398.6 -112.7 391.8 -121 384.6 -129.1 376.8 -137.3 368.2 -145.3 359 -153.2 349.2 -160.9 339.1 -168.5 328.6 -175.9 317.7 -183.1 306.3 -190.1 294.1 -196.8 280.5 -203.1 266.6 -209 253.5 -214 241.7 -218 231.6 -220.8 -231.6 -220.8 -241.7 -218 -253.5 -214 -266.6 -209 -280.5 -203.1 -294.1 -196.8 -306.3 -190.1 -317.7 -183.1 -328.6 -175.9 -339.1 -168.5 -349.2 -160.9 -359 -153.2 -368.2 -145.3 -376.8 -137.3 -384.6 -129.1 -391.8 -121 -398.6 -112.7 -404.7 -104.4 -410.1 -96.1 -414.9 -87.7 -419.1 -79.4 -422.5 -71 -425.3 -62.6 -427.6 -54.3 -429.7 -45.9 -431.6 -37.6 -432.9 -29.2 -434 -20.9 -434.7 -12.5 -435.1 -4.2 -435.1 4.2 -434.7 12.5 -434 20.9 -432.9 29.2 -431.6 37.6 -429.7 45.9 -427.6 54.3 -425.3 62.6 -422.5 71 -419.1 79.4 -414.9 87.7 -410.1 96.1 -404.7 104.4 -398.6 112.7 -391.8 121 -384.6 129.1 -376.8 137.3 -368.2 145.3 -359 153.2 -349.2 160.9 -339.1 168.5 -328.6 175.9 -317.7 183.1 -306.3 190.1 -294.1 196.8 -280.5 203.1 -266.6 209 -253.5 214 -241.7 218 -231.6 220.8Z" fill="none" stroke="#000" stroke-width="2.2"/></g><text class="t" x="540.4" y="1975.6" font-size="35.4" text-anchor="middle">U250 [m/s] RMSE difference</text><text class="lab" x="10.8" y="2005.7" font-size="75">(f)</text><path d="M192.8 2479.2L224.9 2463.3L224.9 2495.0Z" fill="#053061"/><path d="M888.0 2479.2L855.9 2463.3L855.9 2495.0Z" fill="#67001f"/><rect x="224.4" y="2463.3" width="32.0" height="31.7" fill="#0c3d73"/><rect x="256.0" y="2463.3" width="32.0" height="31.7" fill="#1a5899"/><rect x="287.6" y="2463.3" width="32.0" height="31.7" fill="#2a71b2"/><rect x="319.2" y="2463.3" width="32.0" height="31.7" fill="#3a87bd"/><rect x="350.8" y="2463.3" width="32.0" height="31.7" fill="#569fc9"/><rect x="382.4" y="2463.3" width="32.0" height="31.7" fill="#7eb8d7"/><rect x="414.0" y="2463.3" width="32.0" height="31.7" fill="#a2cde3"/><rect x="445.6" y="2463.3" width="32.0" height="31.7" fill="#c2ddec"/><rect x="477.2" y="2463.3" width="32.0" height="31.7" fill="#dae9f2"/><rect x="508.8" y="2463.3" width="32.0" height="31.7" fill="#edf2f5"/><rect x="540.4" y="2463.3" width="32.0" height="31.7" fill="#f9f0eb"/><rect x="572.0" y="2463.3" width="32.0" height="31.7" fill="#fce2d2"/><rect x="603.6" y="2463.3" width="32.0" height="31.7" fill="#fbccb4"/><rect x="635.2" y="2463.3" width="32.0" height="31.7" fill="#f6b394"/><rect x="666.8" y="2463.3" width="32.0" height="31.7" fill="#ec9374"/><rect x="698.4" y="2463.3" width="32.0" height="31.7" fill="#dd7059"/><rect x="730.0" y="2463.3" width="32.0" height="31.7" fill="#cc4c44"/><rect x="761.6" y="2463.3" width="32.0" height="31.7" fill="#ba2832"/><rect x="793.2" y="2463.3" width="32.0" height="31.7" fill="#9f1228"/><rect x="824.8" y="2463.3" width="32.0" height="31.7" fill="#790622"/><path d="M192.8 2479.2L224.4 2463.3L856.4 2463.3L888.0 2479.2L856.4 2495.0L224.4 2495.0Z" fill="none" stroke="#000" stroke-width="2"/><line x1="256.0" y1="2495.0" x2="256.0" y2="2502.5" stroke="#000" stroke-width="2.2"/><text class="t" x="256.0" y="2534.0" font-size="29" text-anchor="middle">−3.6</text><line x1="350.8" y1="2495.0" x2="350.8" y2="2502.5" stroke="#000" stroke-width="2.2"/><text class="t" x="350.8" y="2534.0" font-size="29" text-anchor="middle">−2.4</text><line x1="445.6" y1="2495.0" x2="445.6" y2="2502.5" stroke="#000" stroke-width="2.2"/><text class="t" x="445.6" y="2534.0" font-size="29" text-anchor="middle">−1.2</text><line x1="540.4" y1="2495.0" x2="540.4" y2="2502.5" stroke="#000" stroke-width="2.2"/><text class="t" x="540.4" y="2534.0" font-size="29" text-anchor="middle">0.0</text><line x1="635.2" y1="2495.0" x2="635.2" y2="2502.5" stroke="#000" stroke-width="2.2"/><text class="t" x="635.2" y="2534.0" font-size="29" text-anchor="middle">1.2</text><line x1="730.0" y1="2495.0" x2="730.0" y2="2502.5" stroke="#000" stroke-width="2.2"/><text class="t" x="730.0" y="2534.0" font-size="29" text-anchor="middle">2.4</text><line x1="824.8" y1="2495.0" x2="824.8" y2="2502.5" stroke="#000" stroke-width="2.2"/><text class="t" x="824.8" y="2534.0" font-size="29" text-anchor="middle">3.6</text><g transform="translate(1611.9 2209.8)"><g clip-path="url(#cl)"><path fill="#f9f0eb" fill-rule="evenodd" d="M-440.2 -225.8H440.2V225.8H-440.2Z"/><path fill="#edf2f5" fill-rule="evenodd" d="M-449 -235l896 0 0 469-896 0zM-29 -207l-1 0 1 1 4 6 3 1 14 1 7-1 1-1 2-7-10-5-7-1z"/><path fill="#dae9f2" fill-rule="evenodd" d="M-449 -235l188 0-1 7-5 3-3 4-11 8-8 6-3 7 4 4 7 5 7 1 7-3 6-7 3-14 0-7-2-7 1-7 35 0 6 7 7 0 6-7 652 0 0 392 0 77-202 0-1-2-1 2-692 0zM-428 183l-2 2-2 7 4 4 7 0 4-4 0-7-4-4zM-407 65l0 3 2 5 5 3 2-3 0-7-2-3zM-393 136l-1 0 1 1zM-358 48l-5 4 12 8 4-8-4-3zM-337 184l-7 5-3 3 3 3 7 2 7 0 9-5-2-3-3-4-4-1zM-302 191l-1 1 1 2 4 5 3 1 4-1 6-7-10-3zM-281 139l-7 5-5 6 2 7 3 3 7 4 7-2 2-5 0-7-2-4-4-3zM-260 -159l-3 1-4 7 5 7 9 3 8-3 4-7-12-7zM-232 -217l-5 3 3 7 9 7 7 2 7 0 7 1 13 4 15 7 7-9 4-5-1-7-10-5-21-5-7 1-7 4-14-6zM-155 -181l-2 2-1 7 3 4 7-1 5-3 3-7-1-1-7-4zM-120 -222l-7 5-7 2-14 0-3 1-1 7 5 7 6 2 7-1 7 3 7 5 7 2 7 1 14-9 9-3 5-4 7 2 0 2 14 16 11 5 10 2 5-2-2-14 4-2 17 2 4 3 7 1 7-2 7 0 7 4 7 1 7-5 7-6 5-3 2-2 7 1 7 4 7 1 21-3 14 3 14 1 3 2 9 14 2 2 14 4 2 1 12 10 8-3 2-7-3-5-7-9 0-7 4-7-6-14-5-7-7-2-7 0-9 2-5 3-7 0-7-2-7-1-21 4-7 0-14-3-7 1-7 4-7 2-7-2-7-6-7-2-14 4-14-2-8 0-6 2-14 7-7 0-14-3-14-1-12-5-16 0-14-2zM188 -215l-2 1-5 7 6 7 8-1 7-3 7 5 7 0 4-8-3-7-2 0-6 5-7 0-6-5zM265 -214l-1 7 1 1 7 2 7 1 7-1 3-3-3-7-7-3-7 0zM-351 134l-3 2 3 4 7 1 4-5-4-4zM-218 -169l-3 4-9 7 5 7 7 1 14 0 14 6 7 1 7-3 4-5 1-7-5-3-7-3-21 0-7-4zM-148 173l-4 5 4 3 3-3zM-106 148l-3 2 1 7 2 3 4 4 2 7 1 7 0 7-2 7-5 6-7 2-7 5-1 1 29 3 9-3-1-7 10-7 3-5 3-2 4-6 1 6 3 7 3 4 4 3-4 2-4 5 4 1 7 0 3-1-2-7 10-7 3-3 7-2 7-5 7-11 4-7-4-4-7-1-12 5-2 2-7-2-12-7-9-2-8 2-6 7-4 7-3 2-3-2-4-7-7-14zM62 175l-2 3 2 4 3-4zM69 105l-2 3-1 7 3 12 5 9 2 3 7 0 5-3 5-7-2-7-8-10-7-7zM111 -54l-1 1 8 5 1-5-1 0zM125 178l-7 1-7 6-5 7-2 1-7 1-7 1-7-3-7 0-7 9-2 5 2 2 7 3 7-1 7 1 7 3 7 0 10-8 4-5 7-2 3-7zM167 23l0 2 7 1 2-2-2-6zM272 115l-1 0-5 7 6 11 7 1 7-7 7-7 2-5-2-3-7 0z"/><path fill="#c2ddec" fill-rule="evenodd" d="M-449 -235l49 0 19 14-3 7-2 4-7 2-14-3-7-3-7-7 0-2-4 2-3 2-4 12 4 7 9 7 2 7-11 8-7 2-1-3-6-3-7-2zM-351 -235l76 0-3 7-3 4-7 6-7 4-7 1-14-6-7-2-7 1-4 6 1 7 3 6 9 15 3 14 1 7-2 7-3 7 0 7 6 7 7 0 6 7 8 6 7 0 4-6 1-7 2-2 7 1 14 6 14 3 7-1 7-3 7-2 7 3 7 2 14-3 7 2 14 0 14 5 7-1 3-3 5-7-1-14 14-6 7-5 7-3 1 0 1 7-2 3-8 4 6 7 2 1 10 13 4 10 7 2 7-6 7-10 7 2 7 0 9-5 6-7-7-14 1-7 5-2 7-2 7 2 3 2 4 7 7 4 14-2 14-5 7 0 7 0 7 3 2 7-6 14 2 7 2 2 7 1 7-6 7 0 7 1 7 0 7-3 7-5 7-3 7 3 7-1 10-10 3-7 2-7-1-3-3-4-4-3-8-4-9-7 10-3 9 3 5 6 21 17 14 3 5 2 5 7-1 7-2 6-7-2-7-4-7-1-2 8 0 21-5 4-7 3-14-3-5 3 5 4 7 1 7 6 1 3 0 7-1 3-14 11-1 0-7-7-13-7-3-7 3-7 0-7-7-4-7 4-2 7 2 4 7 8 7 2-6 7 2 7 3 7 3 14 5 5 7 4 7 1 7 2 10 9 4 5 21 9 11 7 10 3 5 4 2 7-14 6-14 5-5 3-3 7-6 4-7-2-21-7-7 3-2 2-1 7 0 7-3 14 0 7 1 7 5 4 7-3 7 0 7 8 7 15 7 5 14-10 7 1 7 3 7 0 14-6 7 4 7 8 7 5 7-3 7 3 0 1-13 14-2 7 10 7 5 2 14 2 4 3 3 4 7 3 9-7 5-5 4 5 3 3 6 11 3 7 0 7-2 3-7-2-14-7-7-1-7 7-5 7-2 11-2 3-5 5-3-5 2-14-1-7-5-6-7-5-7-3-7 11-7 7-7-1-5 4 9 7 3 7 0 8-7 2-5-3-13-14-3-5-4-16 4-10 14-4 10-7 5-7-8-4-7 2-11 9-3 5-5-5-16-3-14-6-7 0-7-5-12-14-9-12-7-4-14-5-7-1-3 1 0 7 3 3 2 11 0 14-2 6-7-3-7-23-6-8-22-3-7 0-7 4-5 6-1 14-3 7-5 7-8 7-4 7-9 8-7-1-21-9-7 0-7 4-7 2-14-10-7-2-7 0-7 8-4 14-3 5-7 0-14-9-7 1-7 3-7-2-7-6-7 1-7 7-7 13-7 2-8-1-6-3-4-4 1-7 9-7 4-7-3-14 1-7-1-12-8 5-20 5-3 2-4 8-7 6 0 7 7 3 3 4 2 7-5 6-7 0-5-6 0-7 4-7 0-7-6-5-2-9-5-2-7-2-21 1-9 3-5 8-7-1-14-10-9-4-5-7-2 7-5 4-3 3-11 8-7 3-5-4-2-3-7-13-7 3-14 12-7 5-7-1-7-3-7 3-7 13-2 5 1 7 5 7 3 7-7 11-7 7 0-176 7-2 2-8-9-24 0-15 6-10 3-7 5-2 7-1 6-4 2-7 6-6 7-2 10-6 1-7-4-6-7 0-7-4-7-2-7 4-4 8 4 10 5 4-18 7-1 2-7-1 0-90 7-2 5-7 2-4 7-1 7 6 14 3 5 3 3 7 1 7 5 1 7-1 7-5 7-12 7-5 7-7 3-6 2-7-2-7 0-7 5-28zM-330 -97l-4 2 2 7 6 7 3 3 7-1 2-2 5-7 0-7-7-5-7 0zM-295 65l-7 1-7 2-3 5-2 14-5 14 3 5 4-5 10-5 7 3 7 5 7-3 3-7-2-14 0-14-1-1-7-1zM-253 112l-1 3 1 1 7 1 1-2-1-2zM-225 93l0 2 9 6 5 6 7-1 1-5-8-7-7-4zM55 -54l-1 1-2 7 3 5 7-1 3-4 0-7-3-2zM-421 35l-7 6-2 4-1 7 1 7 2 4 3 3 4 3 7 9 7 12 7 2 7-5 5-7 2-4 3-3 4-6 7-2 4 1 6 7 0 7-3 1-7 4-1 2-1 7 2 3 7 0 2-3 5-13 7-2 3-6 4-3 7-11 3-7-3-7-14-5-14-2-7 1-7 3-7 2-7-2-14-5-7-2zM-435 -140l0 4 7-1 1 0-1-1zM-400 -117l-2 1-5 7 7 13 4-6 3-3 1-4zM-386 -61l-1 1 1 2 7 0 3-2-3-4zM-144 -235l25 0-1 1-7 6-7 2-8-2zM-91 -235l87 0-4 4-5 3-16 2-21-3-21 1zM67 -235l36 0-6 7-7 3-7 1-7 0-8-4zM107 -235l35 0-3 2-7 5-7 2-9-2-5-5zM160 -235l56 0-5 7-9 4-14 0-14 5-7-3-5-6zM275 -235l42 0 4 14-7 3-7-2-7-4-14-2-4-2zM333 -235l47 0-1 7-2 5-7 3-7 5-7 7-7 1-7-3-14-11 2-7zM432 -221l15 6 0 15-7 5-7 0-3-5-1-7 0-7zM385 -200l6-3 4 3 4 7-5 7-3 2-7 1-10-3-1-7zM-388 -193l2-6 7 2 3 4-2 7-1 3-7-2zM248 -193l3 0 7 0 7 7-7 6-7-1-8-5zM46 -186l2-1 3 1-3 2zM-96 -179l4-2 7-2 6 4 3 7-6 7-3 2-7 2-7 0-7-4-1-7zM278 -179l8-4 7 1 3 3 6 21-1 7-3 7-1 7 3 4 14-1 7 5 7 2 7-2 7-3 6 2 0 7-3 7-2 7 1 7-1 7-11 14 3 2 2 5 7 7 3 7 5 14 0 7-10 7 4 7 10 5 7 1 7-3 2-3 1-7 4-6 14 1 7 2 12 10 5 7 3 14 6 14-2 7-3 7 0 7 7 9 7 2 6-4 4-7-2-7-5-7 1-7 3-2 7-3 0 71-7-7-7-5-7 2-22 28-1 7 2 2 7-2 5-7 3 0 6 3 2 4-1 7 3 7 3 3 7 4 7 2 0 72-3-4-4-1-7-15-1-5 1-7 3-21-3-8-7-1-21 13-3 3-4 16-7 1-14-10-7-8-7-3-7 4-7 9-14 11-7 0-7-6-2-7 10-14 2-14 4-8 7-7 7-1 7 2 7-1 3-6-3-5-2-2-12-4-14-17-21-2-13 2-4 7-1 7-10 3-9 4-5 1-3-1-7-7 3-3 5-4 3-7-8-10-7 1-7 8-7 0-7-4-7-7-5-9-9-8-5-6-3-14 0-7 1-7 0-7-9-14-3-14 0-7 3-7 9-5 7-2 14-8 14-14 7 0 7 3 7 0 14-2 7 0 13 7 2 0 4-7-2-7-3-3-5-4-2-7 7-9 7-3 8-2 1-7-3-7-6-6-14-10-7 7-7 9-7 3-7-1-7-4-7-1-1 3 0 14-2 14-4 6-7 4-7 0-7-2-7-5-14-4-7-5-7-8-14-10-7-10-7-7-3-1 3-3 1-4 6-5 7-10 7-3 7 0 6-3 1-1 3-13 4-7 7-4 14-1 7 2 14 12 4 5 1 7-2 7-3 4-11 3-5 7 2 3 7 2 7-3 8-9 6-4 11-10 4-7 3-7zM321 -92l-2 4 2 1 5-1zM377 116l-6 6 1 7 5 6 2 1 5 2 4-2 3-3 1-4-3-7-5-5zM391 69l-3 4 3 4 3-4zM209 -110l-1 1 1 1 7 1 3-2-3-6zM333 -179l2-1 7 2 21 0 7 9 7 13 6 5-6 3-14 1-14 4-7-1-9-7-3-7 0-7zM400 -130l12-4 7 1 5 10 3 7 0 7-3 7 0 7 9 5 7 1 7-1 0 66-7 6-7 1-7-4-4-4 3-7 1-7-8-14-6-13-6-8-1-4-2-3-4-21-4-7-4-3-8-4 3-7 5-3zM358 -102l5-3 3 3-3 7zM130 -81l9-1 21 0 7 5 2 3 1 14 2 7 9 7 3 7 1 7-3 7-1 1-7 2-7-1-7-7-6-9-15-8-14-16-5-4 0-7 5-4zM378 -81l6-3 7 1 5 2-5 5-7 3zM167 66l7-5 7 1 5 4-2 7-3 4-7-2zM305 136l2-2 3 2 0 7-3 3-5-3zM-380 150l1-2 7 2 7 3 7 0 7 2 2 2 0 7-2 4-4 3-3 6-7 0-1-6-5-7-10-7zM118 157l0-1 0 1zM294 164l6 0 0 1zM-401 185l1-1 7 1 14 12 14 5 7 6 7 3 35-5 14 6 7 2 28-6 7 1 4 4 2 7-6 4-9 10-5 0-48 0-1-2-7-2-7 1-14-11-7 2-2 5 1 7-21 0-1-7-5-6-7 1-7 1-7-1-10-9 2-7 12-7zM-182 185l6-1 7 4 3 4 0 7-3 3-7 4-7-2-5-5 0-7zM367 192l3-1 7 1 6 7 8 12 7 6 8 3 0 7-3 7-12 0-44 0 3-7 8-7 4-7 0-14zM1 199l5-2 7 0 4 2 4 7 13 12 7-3 0-2 7-5 7 1 7 8 4 3-5 7-6 3-14-8-7 0-4 5-3 7-24 0-2-14 4-14zM-449 206l0-2 7 5 4 4 0 7-1 7-1 7-9 0zM321 206l7-5 7 2 7 7 1 3 0 7-8 8-7 5-7-1-5-5-3-7 3-7zM438 206l2-4 7-2 0 34-7 0-18 0 1-7 3-3zM-213 213l2-1 7-3 7 4 0 7-6 14-22 0-25 0-1-7 5-5 14 1 7 2 7 1 4-6zM-157 213l16-7 7 1 5 6 2 4 4 3 0 7-4 2-7 5-25 0 1-7-1-7zM117 213l8-1 6 1 9 7 2 7-3 3-2 4-5 0-33 0 5-4 7-3 2-7zM171 213l3-2 7-2 28 2 7 1 1 1 8 21-17 0-6-3-8 3-50 0 9-6 7-1zM-35 220l13-1 7 1 2 7 0 7-9 0-26 0 2-7 3-4zM287 227l6 0 1 0 6 6 1 1-1 0-18 0 4-7zM-121 234l1-3 5 3z"/><path fill="#a2cde3" fill-rule="evenodd" d="M-29 -235l8 0-1 1zM81 -235l5 0-3 2zM347 -228l3-7 10 0-4 7-7 2zM-338 -165l1-2 2 2 1 7-3 7 0 1-1-1-1-7zM348 -165l3 0 5 4 1 3-8 3-6-3zM-138 -130l4-2 8 2 3 7 0 7 3 7 7 5 7 1 7 0 14-4 7 0 7 1 7 3 7 1 7-2 7-1 14 5 7 0 7-2 7 6 2 15 5 3 7-2 7-5 7 2 7 7 7 0 7-9 7-7 7 5 3 6 0 7-5 7-13 7-5 7 6 14 4 7 3 2 7 4 7 0 7-4 7 1 2 4-3 14 10 14-1 7-9 21-6 7-10 7-4 8-7 3-1-4-5-7-8-4-7 2-7 13-7 9-7 5-7 0-14-4-1 0-6 3-10 11-11 10-7 3-7-1-7-3-21 4-7-5-7-7-7-2-7 2-11 6-3 5-7 2-7 1-7-3-7-4-7-1-10 7-4 6-7 0-4-6-17-8-7-4-7-6-7-4-8 1-6 7-7 5-7 0-7-5-4-14-5-7-5-3-7-2-14 1-7-3-7-4-7-3-7-13-21 2-21-4-7 0-14 4-7-1-7-3-10-6-9-7-2-7 18-21-1-7-10-6-5-1-2-2-3-5 10-1 7-3 7-4 7-2 21-3 7 0 14 4 7-1 7-13 7-5 21-8 14-13 7-2 7 2 7-4 7-9 7-5 7 0 4 4 10 6 7 2 7-4 7-5 14-6 9-7 12-10 7-1 8 4 8 7 5 10 7 6 7-4 3-5-1-7-5-7 0-7 3-4zM270 -130l2-3 1 3-1 2zM180 -123l1-2 6 2-6 2zM236 -95l1 0 0 1zM445 -74l2-1 0 1 0 3zM319 -67l2-1 5 1 5 7-3 3-7-1-2-2zM258 -46l21-2 7 2 7 5 14 1 2 1 5 2 4 5 10 7 7 3 21 15 7 3 7-2 21-16 7 2 7 9 8 21 1 7-2 21 2 14-2 4-7 3-7-2-21-3-4-2-3-2-7 0-14 4-28 14-7 2-14 0-21-2-14-12-7 2-7 5-7 0-13-11-8-5-2-2-5-7-1-7 1-7 6-14 1-7-11-14-2-7 3-7 3-2 14-2 21-14zM-449 31l0-1 1 1 0 7-1 3zM445 52l2-5 0 5 0 3zM362 66l2 0 6 7-7 2-6-2zM-336 73l6-6 7 5 0 4-1 4-6 6-7-6zM-449 94l7-3 4 3 2 7-2 7-4 3-7 1zM-59 101l2-2 2 2-1 7-1 1-4-1zM163 101l4-1 3 1-2 7-4 0zM445 150l2-3 0 17-3-7zM376 213l1-1 0 1 0 2z"/><path fill="#7eb8d7" fill-rule="evenodd" d="M-184 -102l8-2 7 3 6 6 8 12 7 1 14-7 7-1 7 1 14-2 14 0 7-3 7 0 14 5 7-1 14-5 7 1 14 6 3 14 4 6 2 1 5 1 14-3 7 0 3 2 3 7 4 14 1 14 3 5 3 2 17 7 0 7-6 2-6 5-2 7 4 14 0 7-3 3-14 5-7 0-7-2-7 1-5 7-3 7-6 3-7 0-7 6-4 5-10 11-5 3-2 2-14-2-7 2-7 5-7 2-7-6-7-4-14 2-14 0-14 6-7 0-7-2-7 0-14 2-14 0-7-2-7-3-14-9-7-4-7 0-14 3-7-3-14-11-7-3-14-1-7-2-6-7-2-7-2-14-2-7-6-42-8-14 5-4 14-3 7-4 3-3 4-5 7-1 7 1 7-2 5-7 0-7 2-2 7-2 14 11 7 1 7-3 14-11zM282 -32l4-2 7 0 14 4 8 5 15 7 9 7 11 14 6 5 6 2 3 7-8 14-12 14-8 7-16 8-7 2-7 1-7 0-21-7-7-7-7-3-7 1-7 5-7-1-14-7-7-6-2-7 1-7 8-9 14-6 3-6 1-7 3-7 14-4 4-3 3-2 1-5 6-6zM-398 -4l5-1 7 1 7 3 6 4 5 7-4 3-2 4-5 4-7 3-7-1-7-2-5-4-4-7 3-7 6-6zM-363 10l5-2 7 1 5 8-5 4-7-1-5-3zM67 10l2-1 0 1 1 7-1 3-5 4-2 2-2-2 1-7zM393 10l5-5 6 5 1 2 1 5-1 7-7 3-3-3-2-7z"/><path fill="#569fc9" fill-rule="evenodd" d="M-205 -74l8-4 14 7 7-3 7-1 14 4 7 0 14-6 7 5 7 6 7 1 7-7 7 1 7 3 7 1 14-1 2 1 19 8 7-1 7-3 7 0 14 6 7 2 14-2 3 4 3 7 1 14 2 7 5 7 4 7-3 21-1 2-8 5-6 3-21 3-7 4-7 5-7 10-7 8-14 7-5 2-16 4-14-4-7 2-7 4-7 2-21-1-14 3-14 1-21 0-7-1-14-5-21-10-14 2-7-1-7-4-14-11-7-2-9 0-5-2-4-5-2-7 0-14 2-14-4-7-3-7 3-7 1-1 7-2 7 0 4-4 2-14 8-7 7-1 14 6 7-7 7-3 16-2 5-4zM276 -25l3-2 7-3 7 0 7 1 5 4 2 6 14 3 7 3 3 2 5 7 6 12 6 9 1 7-3 7-10 14-8 6-4 1-10 3-7 2-7-1-14-6-7-5-7-7-7-6-4-1-3-2-3-5 3-21 4-7 20-14-3-2zM230 24l7-1 3 1 3 7-6 5-7-2-2-3z"/><path fill="#3a87bd" fill-rule="evenodd" d="M-174 -60l5-2 21-1 7-1 7 2 2 2 9 14 10 4 14 10 7 2 3-2 4-5 1-9 2-7 4-2 7-3 7 0 10 5 4 6 2 1 5 5 6-12 8-1 7 2 8 6 6 7 2 0 5 4 1 3-8 3-7 11 7 5 7 4 7 1 4 4 1 7-3 7-9 4-21 4-7 1-7-2-3-7 7-14 3-7-2-7-5-3-7-1-19 4 2 14 0 7 0 7-1 7-5 7-1 7 0 7-1 7-3 4-7 3-7 0-14-2-7 2-7 5-7 1-14-1-7 0-14 5-7 1-28-3-14-3-21-9-7-1-7 1-7-2-7-8-7-14-7-4-7 1-7-3-3-8 3-7 14-15 7-5 14-1 7-5 7-6 4-10 8-7 37-9zM280 -25l6-3 7 0 7 2 2 1-2 3-7 2-7 0zM274 -4l12-6 7 0 7 1 14-1 7 1 7 5 5 14 4 7 2 7-1 7-4 7-6 7-7 3-14 2-7-1-7-2-7-5-5-4-5-7-8-21 0-7z"/><path fill="#2a71b2" fill-rule="evenodd" d="M-165 -53l10-2 7 0 4 2 4 7 6 5 6 2 15 4 5 3 7 7 1 7-2 7 1 7 5 14 11 7 6 7 1 7 0 8-7 6-7-1-7-3-7-1-14 5-21 3-14 6-7 1-14-2-14 1-14-2-7-2-14-7-16-5-5-7-1-7 0-7 1-7 12-21 9-10 7-14 3-4 4-2 7 0 21 1 6-6 8-5zM-162 -19l-2 1-1 7 3 3 7 3 3-6-3-4zM-66 -46l2 0 0 2zM285 -25l10 0-2 1zM-18 -4l3-1 1 1-1 7zM281 3l5-4 7 0 7 2 14 0 4 2 12 21 0 7-2 4-3 3-4 3-7 2-7 1-7 0-7-4-9-9-3-7-2-14z"/><path fill="#1a5899" fill-rule="evenodd" d="M-163 -39l1-1 6 1-6 2zM-208 -32l4-1 8 1 7 7-5 21-3 3-7 1-7-5-5-6 1-7 2-7 2-4zM-155 -32l7-4 14 1 16 3 8 7-1 7-2 3-7 6-7 3-7-1-13-11-6-7zM291 17l2-1 7-2 7 0 7 3 6 7 0 7-6 5-7 3-5-1-2 0-7-5-2-2-2-7zM-233 24l8-1 7 0 7-1 14-3 28 2 7 2 6 8-1 7-5 4-7 3-14 3-14 1-7-1-9-3-5-4-6-3-10-7z"/><path fill="#0c3d73" fill-rule="evenodd" d="M-134 -25l7 2 1 5-7 0zM-200 31l10-2 14 1 3 1-3 7-21 6-7-2-5-4 5-5z"/><use href="#coast" fill="none" stroke="#000" stroke-width="2.7" stroke-linejoin="round"/></g><path d="M231.6 220.8 241.7 218 253.5 214 266.6 209 280.5 203.1 294.1 196.8 306.3 190.1 317.7 183.1 328.6 175.9 339.1 168.5 349.2 160.9 359 153.2 368.2 145.3 376.8 137.3 384.6 129.1 391.8 121 398.6 112.7 404.7 104.4 410.1 96.1 414.9 87.7 419.1 79.4 422.5 71 425.3 62.6 427.6 54.3 429.7 45.9 431.6 37.6 432.9 29.2 434 20.9 434.7 12.5 435.1 4.2 435.1 -4.2 434.7 -12.5 434 -20.9 432.9 -29.2 431.6 -37.6 429.7 -45.9 427.6 -54.3 425.3 -62.6 422.5 -71 419.1 -79.4 414.9 -87.7 410.1 -96.1 404.7 -104.4 398.6 -112.7 391.8 -121 384.6 -129.1 376.8 -137.3 368.2 -145.3 359 -153.2 349.2 -160.9 339.1 -168.5 328.6 -175.9 317.7 -183.1 306.3 -190.1 294.1 -196.8 280.5 -203.1 266.6 -209 253.5 -214 241.7 -218 231.6 -220.8 -231.6 -220.8 -241.7 -218 -253.5 -214 -266.6 -209 -280.5 -203.1 -294.1 -196.8 -306.3 -190.1 -317.7 -183.1 -328.6 -175.9 -339.1 -168.5 -349.2 -160.9 -359 -153.2 -368.2 -145.3 -376.8 -137.3 -384.6 -129.1 -391.8 -121 -398.6 -112.7 -404.7 -104.4 -410.1 -96.1 -414.9 -87.7 -419.1 -79.4 -422.5 -71 -425.3 -62.6 -427.6 -54.3 -429.7 -45.9 -431.6 -37.6 -432.9 -29.2 -434 -20.9 -434.7 -12.5 -435.1 -4.2 -435.1 4.2 -434.7 12.5 -434 20.9 -432.9 29.2 -431.6 37.6 -429.7 45.9 -427.6 54.3 -425.3 62.6 -422.5 71 -419.1 79.4 -414.9 87.7 -410.1 96.1 -404.7 104.4 -398.6 112.7 -391.8 121 -384.6 129.1 -376.8 137.3 -368.2 145.3 -359 153.2 -349.2 160.9 -339.1 168.5 -328.6 175.9 -317.7 183.1 -306.3 190.1 -294.1 196.8 -280.5 203.1 -266.6 209 -253.5 214 -241.7 218 -231.6 220.8Z" fill="none" stroke="#000" stroke-width="2.2"/></g><text class="t" x="1611.9" y="1975.6" font-size="35.4" text-anchor="middle">V250 [m/s] RMSE difference</text><text class="lab" x="1140.8" y="2005.7" font-size="75">(g)</text><path d="M1264.3 2479.2L1296.4 2463.3L1296.4 2495.0Z" fill="#053061"/><path d="M1959.5 2479.2L1927.4 2463.3L1927.4 2495.0Z" fill="#67001f"/><rect x="1295.9" y="2463.3" width="32.0" height="31.7" fill="#0c3d73"/><rect x="1327.5" y="2463.3" width="32.0" height="31.7" fill="#1a5899"/><rect x="1359.1" y="2463.3" width="32.0" height="31.7" fill="#2a71b2"/><rect x="1390.7" y="2463.3" width="32.0" height="31.7" fill="#3a87bd"/><rect x="1422.3" y="2463.3" width="32.0" height="31.7" fill="#569fc9"/><rect x="1453.9" y="2463.3" width="32.0" height="31.7" fill="#7eb8d7"/><rect x="1485.5" y="2463.3" width="32.0" height="31.7" fill="#a2cde3"/><rect x="1517.1" y="2463.3" width="32.0" height="31.7" fill="#c2ddec"/><rect x="1548.7" y="2463.3" width="32.0" height="31.7" fill="#dae9f2"/><rect x="1580.3" y="2463.3" width="32.0" height="31.7" fill="#edf2f5"/><rect x="1611.9" y="2463.3" width="32.0" height="31.7" fill="#f9f0eb"/><rect x="1643.5" y="2463.3" width="32.0" height="31.7" fill="#fce2d2"/><rect x="1675.1" y="2463.3" width="32.0" height="31.7" fill="#fbccb4"/><rect x="1706.7" y="2463.3" width="32.0" height="31.7" fill="#f6b394"/><rect x="1738.3" y="2463.3" width="32.0" height="31.7" fill="#ec9374"/><rect x="1769.9" y="2463.3" width="32.0" height="31.7" fill="#dd7059"/><rect x="1801.5" y="2463.3" width="32.0" height="31.7" fill="#cc4c44"/><rect x="1833.1" y="2463.3" width="32.0" height="31.7" fill="#ba2832"/><rect x="1864.7" y="2463.3" width="32.0" height="31.7" fill="#9f1228"/><rect x="1896.3" y="2463.3" width="32.0" height="31.7" fill="#790622"/><path d="M1264.3 2479.2L1295.9 2463.3L1927.9 2463.3L1959.5 2479.2L1927.9 2495.0L1295.9 2495.0Z" fill="none" stroke="#000" stroke-width="2"/><line x1="1327.5" y1="2495.0" x2="1327.5" y2="2502.5" stroke="#000" stroke-width="2.2"/><text class="t" x="1327.5" y="2534.0" font-size="29" text-anchor="middle">−3.6</text><line x1="1422.3" y1="2495.0" x2="1422.3" y2="2502.5" stroke="#000" stroke-width="2.2"/><text class="t" x="1422.3" y="2534.0" font-size="29" text-anchor="middle">−2.4</text><line x1="1517.1" y1="2495.0" x2="1517.1" y2="2502.5" stroke="#000" stroke-width="2.2"/><text class="t" x="1517.1" y="2534.0" font-size="29" text-anchor="middle">−1.2</text><line x1="1611.9" y1="2495.0" x2="1611.9" y2="2502.5" stroke="#000" stroke-width="2.2"/><text class="t" x="1611.9" y="2534.0" font-size="29" text-anchor="middle">0.0</text><line x1="1706.7" y1="2495.0" x2="1706.7" y2="2502.5" stroke="#000" stroke-width="2.2"/><text class="t" x="1706.7" y="2534.0" font-size="29" text-anchor="middle">1.2</text><line x1="1801.5" y1="2495.0" x2="1801.5" y2="2502.5" stroke="#000" stroke-width="2.2"/><text class="t" x="1801.5" y="2534.0" font-size="29" text-anchor="middle">2.4</text><line x1="1896.3" y1="2495.0" x2="1896.3" y2="2502.5" stroke="#000" stroke-width="2.2"/><text class="t" x="1896.3" y="2534.0" font-size="29" text-anchor="middle">3.6</text></svg></body></html>
